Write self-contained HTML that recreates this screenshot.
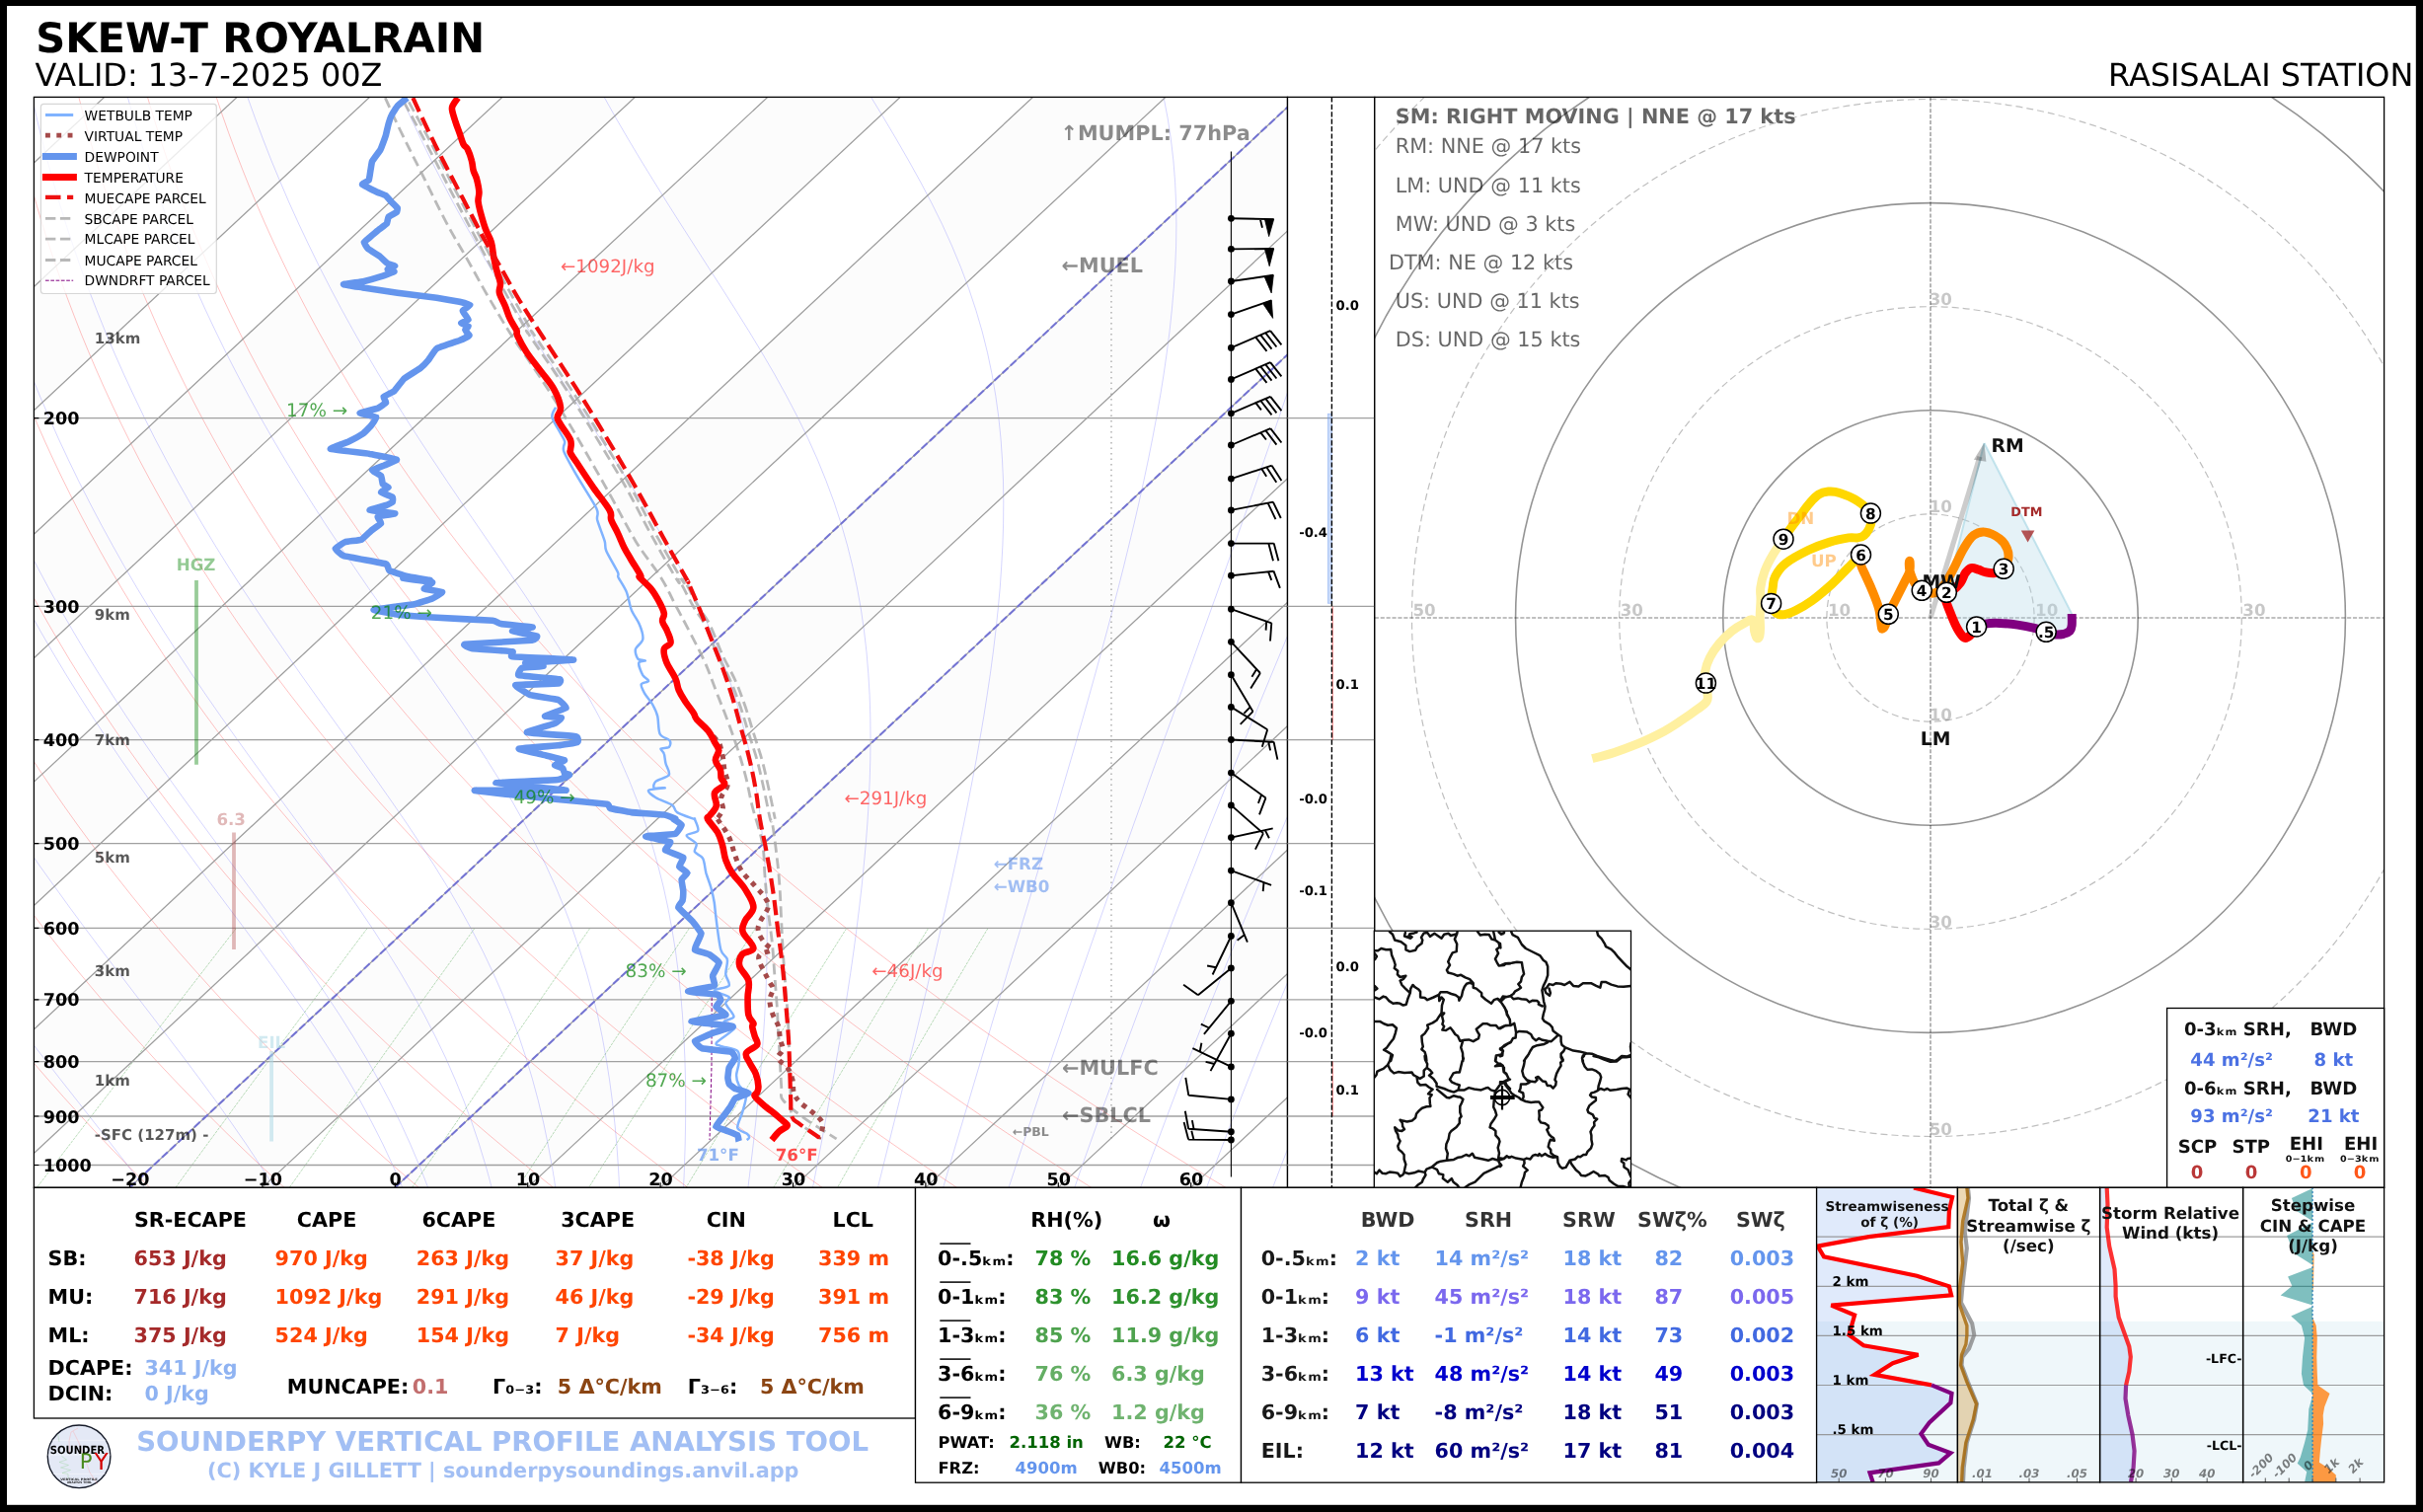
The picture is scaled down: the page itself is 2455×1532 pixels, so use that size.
<!DOCTYPE html>
<html><head><meta charset="utf-8"><title>SKEW-T ROYALRAIN</title>
<style>html,body{margin:0;padding:0;background:#000;}svg{display:block;font-family:'DejaVu Sans','Liberation Sans',sans-serif;will-change:transform;}</style></head>
<body><svg width="2455" height="1532" viewBox="0 0 2455 1532" text-rendering="geometricPrecision">
<rect x="0" y="0" width="2455" height="1532" fill="#000"/>
<rect x="7" y="6" width="2440.8" height="1518.8" fill="#fff"/>
<text x="36.3" y="52.9" font-size="41.7" fill="#000" font-weight="bold" text-anchor="start" >SKEW-T ROYALRAIN</text>
<text x="35.6" y="87" font-size="31.9" fill="#000" font-weight="normal" text-anchor="start" >VALID: 13-7-2025 00Z</text>
<text x="2445.3" y="87" font-size="31.9" fill="#000" font-weight="normal" text-anchor="end" >RASISALAI STATION</text>
<defs><clipPath id="cs"><rect x="34.4" y="98.4" width="1270.1" height="1104.9"/></clipPath></defs>
<g clip-path="url(#cs)">
<rect x="34.4" y="98.4" width="1270.1" height="1104.9" fill="#fff"/>
<polygon points="-967.3,1225.3 -832.9,1225.3 724.4,-228.1 590,-228.1" fill="#808080" fill-opacity="0.025"/>
<polygon points="-698.5,1225.3 -564.1,1225.3 993.2,-228.1 858.8,-228.1" fill="#808080" fill-opacity="0.025"/>
<polygon points="-429.7,1225.3 -295.3,1225.3 1262,-228.1 1127.6,-228.1" fill="#808080" fill-opacity="0.025"/>
<polygon points="-160.9,1225.3 -26.5,1225.3 1530.8,-228.1 1396.4,-228.1" fill="#808080" fill-opacity="0.025"/>
<polygon points="107.9,1225.3 242.3,1225.3 1799.6,-228.1 1665.2,-228.1" fill="#808080" fill-opacity="0.025"/>
<polygon points="376.7,1225.3 511.1,1225.3 2068.4,-228.1 1934,-228.1" fill="#808080" fill-opacity="0.025"/>
<polygon points="645.5,1225.3 779.9,1225.3 2337.2,-228.1 2202.8,-228.1" fill="#808080" fill-opacity="0.025"/>
<polygon points="914.3,1225.3 1048.7,1225.3 2606,-228.1 2471.6,-228.1" fill="#808080" fill-opacity="0.025"/>
<path d="M15.6 1203.4 L-1.3 1185 L-17.7 1166.6 L-33.8 1148.2 L-49.4 1129.7 L-64.6 1111.3 L-79.5 1092.9 L-94 1074.5 L-108.1 1056 L-121.8 1037.6 L-135.1 1019.2 L-148.1 1000.7 L-160.7 982.3 L-172.9 963.9 L-184.8 945.5 L-196.4 927 L-207.6 908.6 L-218.4 890.2 L-228.9 871.8 L-239.1 853.3 L-248.9 834.9 L-258.4 816.5 L-267.6 798 L-276.5 779.6 L-285 761.2 L-293.2 742.8 L-301.1 724.3 L-308.8 705.9 L-316.1 687.5 L-323.1 669.1 L-329.8 650.6 L-336.2 632.2 L-342.3 613.8 L-348.1 595.4 L-353.7 576.9 L-358.9 558.5 L-363.9 540.1 L-368.6 521.6 L-373.1 503.2 L-377.2 484.8 L-381.1 466.4 L-384.8 447.9 L-388.1 429.5 L-391.3 411.1 L-394.1 392.7 L-396.7 374.2 L-399.1 355.8 L-401.2 337.4 L-403.1 318.9 L-404.7 300.5 L-406.1 282.1 L-407.3 263.7 L-408.2 245.2 L-408.9 226.8 L-409.4 208.4 L-409.6 190 L-409.7 171.5 L-409.5 153.1 L-409 134.7 L-408.4 116.3 L-407.6 97.8" fill="none" stroke="#ff0000" stroke-opacity="0.30" stroke-width="0.8"/>
<path d="M151.8 1203.4 L133.5 1185 L115.5 1166.6 L98 1148.2 L80.9 1129.7 L64.2 1111.3 L47.9 1092.9 L32 1074.5 L16.5 1056 L1.4 1037.6 L-13.3 1019.2 L-27.6 1000.7 L-41.5 982.3 L-55.1 963.9 L-68.3 945.5 L-81.2 927 L-93.6 908.6 L-105.7 890.2 L-117.5 871.8 L-128.9 853.3 L-140 834.9 L-150.7 816.5 L-161.1 798 L-171.1 779.6 L-180.8 761.2 L-190.2 742.8 L-199.3 724.3 L-208 705.9 L-216.4 687.5 L-224.6 669.1 L-232.4 650.6 L-239.8 632.2 L-247 613.8 L-253.9 595.4 L-260.5 576.9 L-266.8 558.5 L-272.8 540.1 L-278.6 521.6 L-284 503.2 L-289.2 484.8 L-294 466.4 L-298.6 447.9 L-303 429.5 L-307 411.1 L-310.8 392.7 L-314.4 374.2 L-317.7 355.8 L-320.7 337.4 L-323.5 318.9 L-326 300.5 L-328.3 282.1 L-330.3 263.7 L-332.1 245.2 L-333.6 226.8 L-334.9 208.4 L-336 190 L-336.8 171.5 L-337.5 153.1 L-337.8 134.7 L-338 116.3 L-338 97.8" fill="none" stroke="#ff0000" stroke-opacity="0.30" stroke-width="0.8"/>
<path d="M288.1 1203.4 L268.3 1185 L248.8 1166.6 L229.8 1148.2 L211.2 1129.7 L193.1 1111.3 L175.4 1092.9 L158.1 1074.5 L141.2 1056 L124.7 1037.6 L108.6 1019.2 L92.9 1000.7 L77.6 982.3 L62.7 963.9 L48.2 945.5 L34.1 927 L20.3 908.6 L6.9 890.2 L-6.1 871.8 L-18.7 853.3 L-31 834.9 L-43 816.5 L-54.5 798 L-65.8 779.6 L-76.7 761.2 L-87.2 742.8 L-97.4 724.3 L-107.3 705.9 L-116.8 687.5 L-126.1 669.1 L-135 650.6 L-143.5 632.2 L-151.8 613.8 L-159.7 595.4 L-167.4 576.9 L-174.7 558.5 L-181.8 540.1 L-188.5 521.6 L-194.9 503.2 L-201.1 484.8 L-206.9 466.4 L-212.5 447.9 L-217.8 429.5 L-222.8 411.1 L-227.6 392.7 L-232 374.2 L-236.2 355.8 L-240.2 337.4 L-243.8 318.9 L-247.3 300.5 L-250.4 282.1 L-253.3 263.7 L-255.9 245.2 L-258.3 226.8 L-260.5 208.4 L-262.4 190 L-264 171.5 L-265.5 153.1 L-266.7 134.7 L-267.6 116.3 L-268.3 97.8" fill="none" stroke="#ff0000" stroke-opacity="0.30" stroke-width="0.8"/>
<path d="M424.4 1203.4 L403 1185 L382.1 1166.6 L361.6 1148.2 L341.6 1129.7 L322 1111.3 L302.8 1092.9 L284.1 1074.5 L265.8 1056 L247.9 1037.6 L230.4 1019.2 L213.4 1000.7 L196.8 982.3 L180.5 963.9 L164.7 945.5 L149.3 927 L134.2 908.6 L119.6 890.2 L105.3 871.8 L91.4 853.3 L77.9 834.9 L64.8 816.5 L52 798 L39.6 779.6 L27.5 761.2 L15.8 742.8 L4.4 724.3 L-6.6 705.9 L-17.2 687.5 L-27.6 669.1 L-37.5 650.6 L-47.2 632.2 L-56.5 613.8 L-65.6 595.4 L-74.2 576.9 L-82.6 558.5 L-90.7 540.1 L-98.4 521.6 L-105.9 503.2 L-113 484.8 L-119.9 466.4 L-126.4 447.9 L-132.7 429.5 L-138.6 411.1 L-144.3 392.7 L-149.7 374.2 L-154.8 355.8 L-159.7 337.4 L-164.2 318.9 L-168.5 300.5 L-172.5 282.1 L-176.3 263.7 L-179.8 245.2 L-183 226.8 L-186 208.4 L-188.8 190 L-191.2 171.5 L-193.5 153.1 L-195.5 134.7 L-197.2 116.3 L-198.7 97.8" fill="none" stroke="#ff0000" stroke-opacity="0.30" stroke-width="0.8"/>
<path d="M560.7 1203.4 L537.8 1185 L515.3 1166.6 L493.4 1148.2 L471.9 1129.7 L450.8 1111.3 L430.2 1092.9 L410.1 1074.5 L390.4 1056 L371.1 1037.6 L352.3 1019.2 L333.9 1000.7 L315.9 982.3 L298.4 963.9 L281.2 945.5 L264.5 927 L248.2 908.6 L232.2 890.2 L216.7 871.8 L201.6 853.3 L186.9 834.9 L172.5 816.5 L158.5 798 L144.9 779.6 L131.7 761.2 L118.8 742.8 L106.3 724.3 L94.2 705.9 L82.4 687.5 L70.9 669.1 L59.9 650.6 L49.1 632.2 L38.7 613.8 L28.6 595.4 L18.9 576.9 L9.5 558.5 L0.4 540.1 L-8.4 521.6 L-16.8 503.2 L-24.9 484.8 L-32.8 466.4 L-40.3 447.9 L-47.5 429.5 L-54.4 411.1 L-61 392.7 L-67.4 374.2 L-73.4 355.8 L-79.1 337.4 L-84.6 318.9 L-89.8 300.5 L-94.7 282.1 L-99.3 263.7 L-103.7 245.2 L-107.8 226.8 L-111.6 208.4 L-115.1 190 L-118.4 171.5 L-121.5 153.1 L-124.3 134.7 L-126.8 116.3 L-129.1 97.8" fill="none" stroke="#ff0000" stroke-opacity="0.30" stroke-width="0.8"/>
<path d="M697 1203.4 L672.6 1185 L648.6 1166.6 L625.2 1148.2 L602.2 1129.7 L579.7 1111.3 L557.7 1092.9 L536.1 1074.5 L515 1056 L494.3 1037.6 L474.1 1019.2 L454.4 1000.7 L435.1 982.3 L416.2 963.9 L397.7 945.5 L379.7 927 L362.1 908.6 L344.9 890.2 L328.1 871.8 L311.8 853.3 L295.8 834.9 L280.2 816.5 L265 798 L250.3 779.6 L235.9 761.2 L221.8 742.8 L208.2 724.3 L194.9 705.9 L182 687.5 L169.4 669.1 L157.3 650.6 L145.4 632.2 L134 613.8 L122.8 595.4 L112 576.9 L101.6 558.5 L91.5 540.1 L81.7 521.6 L72.2 503.2 L63.1 484.8 L54.3 466.4 L45.8 447.9 L37.7 429.5 L29.8 411.1 L22.2 392.7 L15 374.2 L8 355.8 L1.4 337.4 L-5 318.9 L-11 300.5 L-16.8 282.1 L-22.3 263.7 L-27.5 245.2 L-32.5 226.8 L-37.1 208.4 L-41.5 190 L-45.6 171.5 L-49.5 153.1 L-53.1 134.7 L-56.4 116.3 L-59.5 97.8" fill="none" stroke="#ff0000" stroke-opacity="0.30" stroke-width="0.8"/>
<path d="M833.3 1203.4 L807.3 1185 L781.9 1166.6 L756.9 1148.2 L732.5 1129.7 L708.6 1111.3 L685.1 1092.9 L662.1 1074.5 L639.6 1056 L617.6 1037.6 L596 1019.2 L574.9 1000.7 L554.2 982.3 L534 963.9 L514.2 945.5 L494.9 927 L476 908.6 L457.6 890.2 L439.5 871.8 L421.9 853.3 L404.7 834.9 L388 816.5 L371.6 798 L355.6 779.6 L340 761.2 L324.8 742.8 L310 724.3 L295.6 705.9 L281.6 687.5 L267.9 669.1 L254.7 650.6 L241.7 632.2 L229.2 613.8 L217 595.4 L205.2 576.9 L193.7 558.5 L182.5 540.1 L171.8 521.6 L161.3 503.2 L151.2 484.8 L141.4 466.4 L131.9 447.9 L122.8 429.5 L114 411.1 L105.5 392.7 L97.3 374.2 L89.5 355.8 L81.9 337.4 L74.7 318.9 L67.7 300.5 L61 282.1 L54.7 263.7 L48.6 245.2 L42.8 226.8 L37.3 208.4 L32.1 190 L27.2 171.5 L22.5 153.1 L18.1 134.7 L14 116.3 L10.1 97.8" fill="none" stroke="#ff0000" stroke-opacity="0.30" stroke-width="0.8"/>
<path d="M969.6 1203.4 L942.1 1185 L915.2 1166.6 L888.7 1148.2 L862.8 1129.7 L837.4 1111.3 L812.5 1092.9 L788.1 1074.5 L764.2 1056 L740.8 1037.6 L717.8 1019.2 L695.4 1000.7 L673.4 982.3 L651.8 963.9 L630.8 945.5 L610.1 927 L590 908.6 L570.2 890.2 L551 871.8 L532.1 853.3 L513.7 834.9 L495.7 816.5 L478.1 798 L460.9 779.6 L444.2 761.2 L427.9 742.8 L411.9 724.3 L396.4 705.9 L381.2 687.5 L366.4 669.1 L352.1 650.6 L338.1 632.2 L324.4 613.8 L311.2 595.4 L298.3 576.9 L285.8 558.5 L273.6 540.1 L261.8 521.6 L250.4 503.2 L239.3 484.8 L228.5 466.4 L218.1 447.9 L208 429.5 L198.2 411.1 L188.8 392.7 L179.7 374.2 L170.9 355.8 L162.4 337.4 L154.3 318.9 L146.4 300.5 L138.9 282.1 L131.7 263.7 L124.7 245.2 L118.1 226.8 L111.8 208.4 L105.7 190 L100 171.5 L94.5 153.1 L89.3 134.7 L84.4 116.3 L79.7 97.8" fill="none" stroke="#ff0000" stroke-opacity="0.30" stroke-width="0.8"/>
<path d="M1105.9 1203.4 L1076.9 1185 L1048.4 1166.6 L1020.5 1148.2 L993.1 1129.7 L966.3 1111.3 L940 1092.9 L914.1 1074.5 L888.8 1056 L864 1037.6 L839.7 1019.2 L815.9 1000.7 L792.5 982.3 L769.7 963.9 L747.3 945.5 L725.4 927 L703.9 908.6 L682.9 890.2 L662.4 871.8 L642.3 853.3 L622.6 834.9 L603.4 816.5 L584.6 798 L566.3 779.6 L548.4 761.2 L530.9 742.8 L513.8 724.3 L497.1 705.9 L480.8 687.5 L464.9 669.1 L449.5 650.6 L434.4 632.2 L419.7 613.8 L405.4 595.4 L391.4 576.9 L377.9 558.5 L364.7 540.1 L351.9 521.6 L339.4 503.2 L327.3 484.8 L315.6 466.4 L304.2 447.9 L293.1 429.5 L282.4 411.1 L272.1 392.7 L262 374.2 L252.3 355.8 L243 337.4 L233.9 318.9 L225.2 300.5 L216.8 282.1 L208.7 263.7 L200.9 245.2 L193.4 226.8 L186.2 208.4 L179.4 190 L172.8 171.5 L166.5 153.1 L160.5 134.7 L154.8 116.3 L149.3 97.8" fill="none" stroke="#ff0000" stroke-opacity="0.30" stroke-width="0.8"/>
<path d="M1242.1 1203.4 L1211.6 1185 L1181.7 1166.6 L1152.3 1148.2 L1123.5 1129.7 L1095.2 1111.3 L1067.4 1092.9 L1040.1 1074.5 L1013.4 1056 L987.2 1037.6 L961.5 1019.2 L936.4 1000.7 L911.7 982.3 L887.5 963.9 L863.8 945.5 L840.6 927 L817.8 908.6 L795.6 890.2 L773.8 871.8 L752.4 853.3 L731.6 834.9 L711.1 816.5 L691.2 798 L671.6 779.6 L652.5 761.2 L633.9 742.8 L615.6 724.3 L597.8 705.9 L580.4 687.5 L563.4 669.1 L546.9 650.6 L530.7 632.2 L514.9 613.8 L499.6 595.4 L484.6 576.9 L470 558.5 L455.8 540.1 L441.9 521.6 L428.5 503.2 L415.4 484.8 L402.7 466.4 L390.3 447.9 L378.3 429.5 L366.6 411.1 L355.3 392.7 L344.4 374.2 L333.8 355.8 L323.5 337.4 L313.5 318.9 L303.9 300.5 L294.6 282.1 L285.7 263.7 L277 245.2 L268.7 226.8 L260.7 208.4 L253 190 L245.6 171.5 L238.5 153.1 L231.7 134.7 L225.2 116.3 L219 97.8" fill="none" stroke="#ff0000" stroke-opacity="0.30" stroke-width="0.8"/>
<path d="M13 1203.4 L12.7 1203 L12.3 1202.5 L11.9 1202.1 L11.6 1201.6 L11.2 1201.1 L10.8 1200.7 L10.5 1200.2 L10.1 1199.8 L9.7 1199.3 L9.4 1198.9 L9 1198.4 L8.6 1197.9 L8.3 1197.5 L7.9 1197 L7.5 1196.6 L7.2 1196.1 L6.8 1195.6 L6.4 1195.2 L6.1 1194.7 L5.7 1194.3 L5.3 1193.8 L4.9 1193.3 L4.6 1192.9 L4.2 1192.4 L3.8 1192 L3.5 1191.5 L3.1 1191.1 L2.7 1190.6 L2.4 1190.1 L2 1189.7 L1.6 1189.2 L1.3 1188.8 L0.9 1188.3 L0.5 1187.8 L0.2 1187.4 L-0.2 1186.9 L-0.6 1186.5 L-0.9 1186 L-1.3 1185.5 L-1.7 1185.1 L-2 1184.6 L-2.4 1184.2 L-2.8 1183.7 L-3.1 1183.3 L-3.5 1182.8 L-3.9 1182.3 L-4.2 1181.9 L-4.6 1181.4 L-5 1181 L-5.3 1180.5 L-22.6 1158.8 L-39.8 1137.2 L-56.7 1115.5 L-73.3 1093.9 L-89.6 1072.2 L-105.6 1050.6 L-121.1 1028.9 L-136.3 1007.3 L-151.1 985.6 L-165.4 964 L-179.2 942.3 L-192.7 920.7 L-205.6 899 L-218.1 877.4 L-230.2 855.7 L-241.8 834 L-253 812.4 L-263.7 790.7 L-274 769.1 L-283.8 747.4 L-293.2 725.8 L-302.2 704.1 L-310.8 682.5 L-319 660.8 L-326.7 639.2 L-334.1 617.5 L-341 595.9 L-347.6 574.2 L-353.7 552.5 L-359.5 530.9 L-364.9 509.2 L-370 487.6 L-374.6 465.9 L-378.9 444.3 L-382.9 422.6 L-386.5 401 L-389.7 379.3 L-392.6 357.7 L-395.1 336 L-397.3 314.4 L-399.2 292.7 L-400.8 271.1 L-402 249.4 L-402.9 227.7 L-403.5 206.1 L-403.8 184.4 L-403.8 162.8 L-403.5 141.1 L-402.8 119.5 L-401.9 97.8 L-401.9 97.8" fill="none" stroke="#0000ff" stroke-opacity="0.22" stroke-width="0.75"/>
<path d="M146.4 1203.4 L146.1 1203 L145.8 1202.5 L145.4 1202.1 L145.1 1201.6 L144.7 1201.1 L144.4 1200.7 L144 1200.2 L143.7 1199.8 L143.3 1199.3 L143 1198.9 L142.6 1198.4 L142.3 1197.9 L142 1197.5 L141.6 1197 L141.3 1196.6 L140.9 1196.1 L140.6 1195.6 L140.2 1195.2 L139.9 1194.7 L139.5 1194.3 L139.2 1193.8 L138.8 1193.3 L138.5 1192.9 L138.1 1192.4 L137.8 1192 L137.4 1191.5 L137.1 1191.1 L136.7 1190.6 L136.4 1190.1 L136.1 1189.7 L135.7 1189.2 L135.4 1188.8 L135 1188.3 L134.7 1187.8 L134.3 1187.4 L134 1186.9 L133.6 1186.5 L133.3 1186 L132.9 1185.5 L132.6 1185.1 L132.2 1184.6 L131.9 1184.2 L131.5 1183.7 L131.2 1183.3 L130.8 1182.8 L130.5 1182.3 L130.1 1181.9 L129.8 1181.4 L129.4 1181 L129.1 1180.5 L112.3 1158.8 L95.4 1137.2 L78.4 1115.5 L61.4 1093.9 L44.5 1072.2 L27.7 1050.6 L11.1 1028.9 L-5.2 1007.3 L-21.2 985.6 L-36.8 964 L-52.1 942.3 L-67 920.7 L-81.4 899 L-95.4 877.4 L-109 855.7 L-122.1 834 L-134.8 812.4 L-147 790.7 L-158.8 769.1 L-170.1 747.4 L-181 725.8 L-191.5 704.1 L-201.5 682.5 L-211.1 660.8 L-220.2 639.2 L-229 617.5 L-237.3 595.9 L-245.2 574.2 L-252.7 552.5 L-259.8 530.9 L-266.5 509.2 L-272.8 487.6 L-278.8 465.9 L-284.3 444.3 L-289.5 422.6 L-294.3 401 L-298.7 379.3 L-302.8 357.7 L-306.5 336 L-309.9 314.4 L-312.9 292.7 L-315.6 271.1 L-317.9 249.4 L-320 227.7 L-321.6 206.1 L-323 184.4 L-324 162.8 L-324.7 141.1 L-325.2 119.5 L-325.3 97.8 L-325.3 97.8" fill="none" stroke="#0000ff" stroke-opacity="0.22" stroke-width="0.75"/>
<path d="M278 1203.4 L277.7 1203 L277.4 1202.5 L277.1 1202.1 L276.8 1201.6 L276.5 1201.1 L276.3 1200.7 L276 1200.2 L275.7 1199.8 L275.4 1199.3 L275.1 1198.9 L274.8 1198.4 L274.5 1197.9 L274.3 1197.5 L274 1197 L273.7 1196.6 L273.4 1196.1 L273.1 1195.6 L272.8 1195.2 L272.5 1194.7 L272.2 1194.3 L272 1193.8 L271.7 1193.3 L271.4 1192.9 L271.1 1192.4 L270.8 1192 L270.5 1191.5 L270.2 1191.1 L269.9 1190.6 L269.6 1190.1 L269.3 1189.7 L269.1 1189.2 L268.8 1188.8 L268.5 1188.3 L268.2 1187.8 L267.9 1187.4 L267.6 1186.9 L267.3 1186.5 L267 1186 L266.7 1185.5 L266.4 1185.1 L266.1 1184.6 L265.8 1184.2 L265.5 1183.7 L265.2 1183.3 L264.9 1182.8 L264.6 1182.3 L264.3 1181.9 L264 1181.4 L263.7 1181 L263.5 1180.5 L249.1 1158.8 L234.1 1137.2 L218.7 1115.5 L202.8 1093.9 L186.6 1072.2 L170.1 1050.6 L153.5 1028.9 L136.9 1007.3 L120.3 985.6 L103.8 964 L87.5 942.3 L71.5 920.7 L55.8 899 L40.3 877.4 L25.3 855.7 L10.7 834 L-3.6 812.4 L-17.4 790.7 L-30.8 769.1 L-43.7 747.4 L-56.2 725.8 L-68.2 704.1 L-79.8 682.5 L-91 660.8 L-101.7 639.2 L-112 617.5 L-121.8 595.9 L-131.2 574.2 L-140.2 552.5 L-148.8 530.9 L-156.9 509.2 L-164.7 487.6 L-172 465.9 L-179 444.3 L-185.5 422.6 L-191.7 401 L-197.5 379.3 L-202.9 357.7 L-207.9 336 L-212.5 314.4 L-216.8 292.7 L-220.8 271.1 L-224.4 249.4 L-227.6 227.7 L-230.5 206.1 L-233 184.4 L-235.2 162.8 L-237.1 141.1 L-238.7 119.5 L-239.9 97.8 L-239.9 97.8" fill="none" stroke="#0000ff" stroke-opacity="0.22" stroke-width="0.75"/>
<path d="M407.8 1203.4 L407.6 1203 L407.4 1202.5 L407.2 1202.1 L407 1201.6 L406.9 1201.1 L406.7 1200.7 L406.5 1200.2 L406.3 1199.8 L406.1 1199.3 L405.9 1198.9 L405.7 1198.4 L405.5 1197.9 L405.3 1197.5 L405.1 1197 L404.9 1196.6 L404.7 1196.1 L404.5 1195.6 L404.3 1195.2 L404.1 1194.7 L403.9 1194.3 L403.7 1193.8 L403.5 1193.3 L403.3 1192.9 L403.1 1192.4 L402.9 1192 L402.7 1191.5 L402.5 1191.1 L402.3 1190.6 L402.1 1190.1 L401.9 1189.7 L401.7 1189.2 L401.5 1188.8 L401.3 1188.3 L401.1 1187.8 L400.9 1187.4 L400.7 1186.9 L400.5 1186.5 L400.3 1186 L400.1 1185.5 L399.9 1185.1 L399.7 1184.6 L399.5 1184.2 L399.3 1183.7 L399.1 1183.3 L398.9 1182.8 L398.7 1182.3 L398.5 1181.9 L398.3 1181.4 L398.1 1181 L397.9 1180.5 L387.7 1158.8 L376.7 1137.2 L365 1115.5 L352.5 1093.9 L339.3 1072.2 L325.4 1050.6 L311 1028.9 L296 1007.3 L280.6 985.6 L264.8 964 L248.8 942.3 L232.6 920.7 L216.4 899 L200.2 877.4 L184.2 855.7 L168.3 834 L152.7 812.4 L137.3 790.7 L122.3 769.1 L107.7 747.4 L93.5 725.8 L79.7 704.1 L66.3 682.5 L53.3 660.8 L40.8 639.2 L28.7 617.5 L17.1 595.9 L5.9 574.2 L-4.9 552.5 L-15.2 530.9 L-25.1 509.2 L-34.6 487.6 L-43.6 465.9 L-52.2 444.3 L-60.4 422.6 L-68.2 401 L-75.6 379.3 L-82.6 357.7 L-89.2 336 L-95.4 314.4 L-101.2 292.7 L-106.7 271.1 L-111.8 249.4 L-116.5 227.7 L-120.8 206.1 L-124.8 184.4 L-128.4 162.8 L-131.7 141.1 L-134.6 119.5 L-137.2 97.8 L-137.2 97.8" fill="none" stroke="#0000ff" stroke-opacity="0.22" stroke-width="0.75"/>
<path d="M433.7 1203.4 L433.5 1203 L433.3 1202.5 L433.1 1202.1 L433 1201.6 L432.8 1201.1 L432.6 1200.7 L432.5 1200.2 L432.3 1199.8 L432.1 1199.3 L431.9 1198.9 L431.8 1198.4 L431.6 1197.9 L431.4 1197.5 L431.2 1197 L431.1 1196.6 L430.9 1196.1 L430.7 1195.6 L430.5 1195.2 L430.4 1194.7 L430.2 1194.3 L430 1193.8 L429.8 1193.3 L429.7 1192.9 L429.5 1192.4 L429.3 1192 L429.1 1191.5 L428.9 1191.1 L428.8 1190.6 L428.6 1190.1 L428.4 1189.7 L428.2 1189.2 L428 1188.8 L427.9 1188.3 L427.7 1187.8 L427.5 1187.4 L427.3 1186.9 L427.1 1186.5 L426.9 1186 L426.8 1185.5 L426.6 1185.1 L426.4 1184.6 L426.2 1184.2 L426 1183.7 L425.8 1183.3 L425.7 1182.8 L425.5 1182.3 L425.3 1181.9 L425.1 1181.4 L424.9 1181 L424.7 1180.5 L415.5 1158.8 L405.6 1137.2 L394.8 1115.5 L383.3 1093.9 L371.1 1072.2 L358.1 1050.6 L344.4 1028.9 L330.1 1007.3 L315.3 985.6 L300 964 L284.4 942.3 L268.5 920.7 L252.4 899 L236.3 877.4 L220.2 855.7 L204.2 834 L188.4 812.4 L172.8 790.7 L157.6 769.1 L142.6 747.4 L128 725.8 L113.9 704.1 L100.1 682.5 L86.7 660.8 L73.8 639.2 L61.3 617.5 L49.3 595.9 L37.7 574.2 L26.5 552.5 L15.8 530.9 L5.5 509.2 L-4.4 487.6 L-13.8 465.9 L-22.8 444.3 L-31.4 422.6 L-39.6 401 L-47.3 379.3 L-54.7 357.7 L-61.7 336 L-68.2 314.4 L-74.4 292.7 L-80.2 271.1 L-85.6 249.4 L-90.7 227.7 L-95.3 206.1 L-99.6 184.4 L-103.6 162.8 L-107.2 141.1 L-110.4 119.5 L-113.3 97.8 L-113.3 97.8" fill="none" stroke="#0000ff" stroke-opacity="0.22" stroke-width="0.75"/>
<path d="M498.2 1203.4 L498.1 1203 L498 1202.5 L497.8 1202.1 L497.7 1201.6 L497.6 1201.1 L497.5 1200.7 L497.4 1200.2 L497.2 1199.8 L497.1 1199.3 L497 1198.9 L496.9 1198.4 L496.8 1197.9 L496.6 1197.5 L496.5 1197 L496.4 1196.6 L496.3 1196.1 L496.2 1195.6 L496 1195.2 L495.9 1194.7 L495.8 1194.3 L495.7 1193.8 L495.5 1193.3 L495.4 1192.9 L495.3 1192.4 L495.2 1192 L495 1191.5 L494.9 1191.1 L494.8 1190.6 L494.7 1190.1 L494.5 1189.7 L494.4 1189.2 L494.3 1188.8 L494.1 1188.3 L494 1187.8 L493.9 1187.4 L493.8 1186.9 L493.6 1186.5 L493.5 1186 L493.4 1185.5 L493.2 1185.1 L493.1 1184.6 L493 1184.2 L492.9 1183.7 L492.7 1183.3 L492.6 1182.8 L492.5 1182.3 L492.3 1181.9 L492.2 1181.4 L492.1 1181 L491.9 1180.5 L485.3 1158.8 L478 1137.2 L470 1115.5 L461.2 1093.9 L451.7 1072.2 L441.3 1050.6 L430.2 1028.9 L418.3 1007.3 L405.7 985.6 L392.3 964 L378.4 942.3 L363.8 920.7 L348.8 899 L333.5 877.4 L317.9 855.7 L302.1 834 L286.2 812.4 L270.3 790.7 L254.6 769.1 L239 747.4 L223.7 725.8 L208.6 704.1 L193.9 682.5 L179.6 660.8 L165.6 639.2 L152.1 617.5 L138.9 595.9 L126.2 574.2 L114 552.5 L102.2 530.9 L90.8 509.2 L79.8 487.6 L69.3 465.9 L59.2 444.3 L49.6 422.6 L40.3 401 L31.5 379.3 L23.2 357.7 L15.2 336 L7.6 314.4 L0.4 292.7 L-6.3 271.1 L-12.7 249.4 L-18.7 227.7 L-24.3 206.1 L-29.6 184.4 L-34.4 162.8 L-38.9 141.1 L-43.1 119.5 L-46.9 97.8 L-46.9 97.8" fill="none" stroke="#0000ff" stroke-opacity="0.22" stroke-width="0.75"/>
<path d="M562.8 1203.4 L562.7 1203 L562.7 1202.5 L562.6 1202.1 L562.5 1201.6 L562.5 1201.1 L562.4 1200.7 L562.3 1200.2 L562.2 1199.8 L562.2 1199.3 L562.1 1198.9 L562 1198.4 L562 1197.9 L561.9 1197.5 L561.8 1197 L561.8 1196.6 L561.7 1196.1 L561.6 1195.6 L561.5 1195.2 L561.5 1194.7 L561.4 1194.3 L561.3 1193.8 L561.3 1193.3 L561.2 1192.9 L561.1 1192.4 L561 1192 L561 1191.5 L560.9 1191.1 L560.8 1190.6 L560.7 1190.1 L560.7 1189.7 L560.6 1189.2 L560.5 1188.8 L560.4 1188.3 L560.4 1187.8 L560.3 1187.4 L560.2 1186.9 L560.1 1186.5 L560.1 1186 L560 1185.5 L559.9 1185.1 L559.8 1184.6 L559.8 1184.2 L559.7 1183.7 L559.6 1183.3 L559.5 1182.8 L559.4 1182.3 L559.4 1181.9 L559.3 1181.4 L559.2 1181 L559.1 1180.5 L555.1 1158.8 L550.6 1137.2 L545.4 1115.5 L539.6 1093.9 L533.1 1072.2 L525.9 1050.6 L517.9 1028.9 L509.2 1007.3 L499.6 985.6 L489.3 964 L478.1 942.3 L466.2 920.7 L453.6 899 L440.3 877.4 L426.3 855.7 L411.9 834 L397 812.4 L381.8 790.7 L366.3 769.1 L350.7 747.4 L335.2 725.8 L319.6 704.1 L304.2 682.5 L289.1 660.8 L274.2 639.2 L259.6 617.5 L245.3 595.9 L231.4 574.2 L217.9 552.5 L204.9 530.9 L192.2 509.2 L180 487.6 L168.3 465.9 L156.9 444.3 L146 422.6 L135.6 401 L125.5 379.3 L115.9 357.7 L106.7 336 L98 314.4 L89.6 292.7 L81.7 271.1 L74.2 249.4 L67 227.7 L60.3 206.1 L54 184.4 L48 162.8 L42.4 141.1 L37.2 119.5 L32.4 97.8 L32.4 97.8" fill="none" stroke="#0000ff" stroke-opacity="0.22" stroke-width="0.75"/>
<path d="M627.5 1203.4 L627.5 1203 L627.5 1202.5 L627.5 1202.1 L627.5 1201.6 L627.4 1201.1 L627.4 1200.7 L627.4 1200.2 L627.4 1199.8 L627.4 1199.3 L627.3 1198.9 L627.3 1198.4 L627.3 1197.9 L627.3 1197.5 L627.2 1197 L627.2 1196.6 L627.2 1196.1 L627.2 1195.6 L627.2 1195.2 L627.1 1194.7 L627.1 1194.3 L627.1 1193.8 L627.1 1193.3 L627 1192.9 L627 1192.4 L627 1192 L627 1191.5 L626.9 1191.1 L626.9 1190.6 L626.9 1190.1 L626.9 1189.7 L626.8 1189.2 L626.8 1188.8 L626.8 1188.3 L626.8 1187.8 L626.7 1187.4 L626.7 1186.9 L626.7 1186.5 L626.7 1186 L626.6 1185.5 L626.6 1185.1 L626.6 1184.6 L626.6 1184.2 L626.5 1183.7 L626.5 1183.3 L626.5 1182.8 L626.4 1182.3 L626.4 1181.9 L626.4 1181.4 L626.4 1181 L626.3 1180.5 L624.8 1158.8 L622.8 1137.2 L620.4 1115.5 L617.5 1093.9 L614.1 1072.2 L610.2 1050.6 L605.6 1028.9 L600.3 1007.3 L594.4 985.6 L587.8 964 L580.4 942.3 L572.2 920.7 L563.2 899 L553.4 877.4 L542.7 855.7 L531.3 834 L519.2 812.4 L506.3 790.7 L492.8 769.1 L478.7 747.4 L464.2 725.8 L449.3 704.1 L434.2 682.5 L419 660.8 L403.7 639.2 L388.5 617.5 L373.4 595.9 L358.6 574.2 L344 552.5 L329.6 530.9 L315.7 509.2 L302.1 487.6 L288.9 465.9 L276.1 444.3 L263.7 422.6 L251.8 401 L240.3 379.3 L229.2 357.7 L218.6 336 L208.4 314.4 L198.6 292.7 L189.3 271.1 L180.3 249.4 L171.8 227.7 L163.7 206.1 L156 184.4 L148.8 162.8 L141.9 141.1 L135.4 119.5 L129.2 97.8 L129.2 97.8" fill="none" stroke="#0000ff" stroke-opacity="0.22" stroke-width="0.75"/>
<path d="M692.5 1203.4 L692.6 1203 L692.6 1202.5 L692.6 1202.1 L692.6 1201.6 L692.7 1201.1 L692.7 1200.7 L692.7 1200.2 L692.7 1199.8 L692.7 1199.3 L692.8 1198.9 L692.8 1198.4 L692.8 1197.9 L692.8 1197.5 L692.8 1197 L692.9 1196.6 L692.9 1196.1 L692.9 1195.6 L692.9 1195.2 L693 1194.7 L693 1194.3 L693 1193.8 L693 1193.3 L693 1192.9 L693.1 1192.4 L693.1 1192 L693.1 1191.5 L693.1 1191.1 L693.1 1190.6 L693.2 1190.1 L693.2 1189.7 L693.2 1189.2 L693.2 1188.8 L693.2 1188.3 L693.2 1187.8 L693.3 1187.4 L693.3 1186.9 L693.3 1186.5 L693.3 1186 L693.3 1185.5 L693.4 1185.1 L693.4 1184.6 L693.4 1184.2 L693.4 1183.7 L693.4 1183.3 L693.4 1182.8 L693.5 1182.3 L693.5 1181.9 L693.5 1181.4 L693.5 1181 L693.5 1180.5 L694.2 1158.8 L694.6 1137.2 L694.7 1115.5 L694.5 1093.9 L693.9 1072.2 L692.9 1050.6 L691.5 1028.9 L689.7 1007.3 L687.3 985.6 L684.5 964 L681 942.3 L677 920.7 L672.3 899 L666.8 877.4 L660.7 855.7 L653.8 834 L646 812.4 L637.5 790.7 L628.1 769.1 L617.8 747.4 L606.8 725.8 L595 704.1 L582.5 682.5 L569.3 660.8 L555.6 639.2 L541.5 617.5 L527 595.9 L512.2 574.2 L497.4 552.5 L482.5 530.9 L467.6 509.2 L453 487.6 L438.5 465.9 L424.3 444.3 L410.4 422.6 L396.8 401 L383.7 379.3 L370.9 357.7 L358.5 336 L346.6 314.4 L335.1 292.7 L324 271.1 L313.4 249.4 L303.1 227.7 L293.3 206.1 L284 184.4 L275 162.8 L266.5 141.1 L258.4 119.5 L250.6 97.8 L250.6 97.8" fill="none" stroke="#0000ff" stroke-opacity="0.22" stroke-width="0.75"/>
<path d="M757.9 1203.4 L757.9 1203 L758 1202.5 L758 1202.1 L758.1 1201.6 L758.1 1201.1 L758.2 1200.7 L758.3 1200.2 L758.3 1199.8 L758.4 1199.3 L758.4 1198.9 L758.5 1198.4 L758.6 1197.9 L758.6 1197.5 L758.7 1197 L758.7 1196.6 L758.8 1196.1 L758.8 1195.6 L758.9 1195.2 L759 1194.7 L759 1194.3 L759.1 1193.8 L759.1 1193.3 L759.2 1192.9 L759.3 1192.4 L759.3 1192 L759.4 1191.5 L759.4 1191.1 L759.5 1190.6 L759.5 1190.1 L759.6 1189.7 L759.7 1189.2 L759.7 1188.8 L759.8 1188.3 L759.8 1187.8 L759.9 1187.4 L759.9 1186.9 L760 1186.5 L760.1 1186 L760.1 1185.5 L760.2 1185.1 L760.2 1184.6 L760.3 1184.2 L760.3 1183.7 L760.4 1183.3 L760.4 1182.8 L760.5 1182.3 L760.6 1181.9 L760.6 1181.4 L760.7 1181 L760.7 1180.5 L763.3 1158.8 L765.7 1137.2 L767.9 1115.5 L770 1093.9 L771.8 1072.2 L773.4 1050.6 L774.8 1028.9 L775.9 1007.3 L776.7 985.6 L777.1 964 L777.2 942.3 L776.9 920.7 L776.2 899 L775 877.4 L773.3 855.7 L771.1 834 L768.3 812.4 L764.9 790.7 L760.8 769.1 L756 747.4 L750.4 725.8 L744.1 704.1 L736.9 682.5 L728.9 660.8 L720 639.2 L710.3 617.5 L699.7 595.9 L688.4 574.2 L676.3 552.5 L663.6 530.9 L650.3 509.2 L636.5 487.6 L622.5 465.9 L608.1 444.3 L593.7 422.6 L579.3 401 L564.9 379.3 L550.7 357.7 L536.7 336 L522.9 314.4 L509.5 292.7 L496.5 271.1 L483.8 249.4 L471.5 227.7 L459.6 206.1 L448.2 184.4 L437.1 162.8 L426.5 141.1 L416.3 119.5 L406.6 97.8 L406.6 97.8" fill="none" stroke="#0000ff" stroke-opacity="0.22" stroke-width="0.75"/>
<path d="M823.5 1203.4 L823.6 1203 L823.7 1202.5 L823.7 1202.1 L823.8 1201.6 L823.9 1201.1 L824 1200.7 L824.1 1200.2 L824.2 1199.8 L824.3 1199.3 L824.4 1198.9 L824.5 1198.4 L824.6 1197.9 L824.6 1197.5 L824.7 1197 L824.8 1196.6 L824.9 1196.1 L825 1195.6 L825.1 1195.2 L825.2 1194.7 L825.3 1194.3 L825.4 1193.8 L825.4 1193.3 L825.5 1192.9 L825.6 1192.4 L825.7 1192 L825.8 1191.5 L825.9 1191.1 L826 1190.6 L826.1 1190.1 L826.2 1189.7 L826.2 1189.2 L826.3 1188.8 L826.4 1188.3 L826.5 1187.8 L826.6 1187.4 L826.7 1186.9 L826.8 1186.5 L826.9 1186 L827 1185.5 L827 1185.1 L827.1 1184.6 L827.2 1184.2 L827.3 1183.7 L827.4 1183.3 L827.5 1182.8 L827.6 1182.3 L827.7 1181.9 L827.8 1181.4 L827.8 1181 L827.9 1180.5 L832.1 1158.8 L836.1 1137.2 L840.1 1115.5 L844 1093.9 L847.8 1072.2 L851.5 1050.6 L855.1 1028.9 L858.5 1007.3 L861.8 985.6 L864.9 964 L867.8 942.3 L870.5 920.7 L873 899 L875.2 877.4 L877.2 855.7 L878.9 834 L880.2 812.4 L881.2 790.7 L881.8 769.1 L882 747.4 L881.8 725.8 L881.1 704.1 L879.8 682.5 L878 660.8 L875.5 639.2 L872.4 617.5 L868.5 595.9 L863.9 574.2 L858.5 552.5 L852.3 530.9 L845.2 509.2 L837.2 487.6 L828.4 465.9 L818.7 444.3 L808.1 422.6 L796.8 401 L784.8 379.3 L772.2 357.7 L759.1 336 L745.6 314.4 L731.8 292.7 L717.9 271.1 L704 249.4 L690.1 227.7 L676.4 206.1 L662.9 184.4 L649.6 162.8 L636.6 141.1 L624 119.5 L611.8 97.8 L611.8 97.8" fill="none" stroke="#0000ff" stroke-opacity="0.22" stroke-width="0.75"/>
<path d="M889.4 1203.4 L889.5 1203 L889.6 1202.5 L889.7 1202.1 L889.9 1201.6 L890 1201.1 L890.1 1200.7 L890.2 1200.2 L890.3 1199.8 L890.4 1199.3 L890.6 1198.9 L890.7 1198.4 L890.8 1197.9 L890.9 1197.5 L891 1197 L891.1 1196.6 L891.2 1196.1 L891.4 1195.6 L891.5 1195.2 L891.6 1194.7 L891.7 1194.3 L891.8 1193.8 L891.9 1193.3 L892 1192.9 L892.2 1192.4 L892.3 1192 L892.4 1191.5 L892.5 1191.1 L892.6 1190.6 L892.7 1190.1 L892.8 1189.7 L893 1189.2 L893.1 1188.8 L893.2 1188.3 L893.3 1187.8 L893.4 1187.4 L893.5 1186.9 L893.6 1186.5 L893.8 1186 L893.9 1185.5 L894 1185.1 L894.1 1184.6 L894.2 1184.2 L894.3 1183.7 L894.4 1183.3 L894.6 1182.8 L894.7 1182.3 L894.8 1181.9 L894.9 1181.4 L895 1181 L895.1 1180.5 L900.5 1158.8 L905.9 1137.2 L911.3 1115.5 L916.7 1093.9 L922 1072.2 L927.3 1050.6 L932.5 1028.9 L937.7 1007.3 L942.9 985.6 L948 964 L953 942.3 L957.9 920.7 L962.8 899 L967.5 877.4 L972.2 855.7 L976.7 834 L981 812.4 L985.2 790.7 L989.3 769.1 L993.1 747.4 L996.8 725.8 L1000.2 704.1 L1003.4 682.5 L1006.3 660.8 L1008.9 639.2 L1011.2 617.5 L1013.2 595.9 L1014.7 574.2 L1015.9 552.5 L1016.6 530.9 L1016.8 509.2 L1016.5 487.6 L1015.5 465.9 L1014 444.3 L1011.8 422.6 L1008.8 401 L1005.1 379.3 L1000.6 357.7 L995.2 336 L988.9 314.4 L981.7 292.7 L973.6 271.1 L964.6 249.4 L954.8 227.7 L944.1 206.1 L932.7 184.4 L920.7 162.8 L908.2 141.1 L895.4 119.5 L882.2 97.8 L882.2 97.8" fill="none" stroke="#0000ff" stroke-opacity="0.22" stroke-width="0.75"/>
<path d="M955.6 1203.4 L955.7 1203 L955.9 1202.5 L956 1202.1 L956.1 1201.6 L956.3 1201.1 L956.4 1200.7 L956.5 1200.2 L956.7 1199.8 L956.8 1199.3 L956.9 1198.9 L957.1 1198.4 L957.2 1197.9 L957.4 1197.5 L957.5 1197 L957.6 1196.6 L957.8 1196.1 L957.9 1195.6 L958 1195.2 L958.2 1194.7 L958.3 1194.3 L958.4 1193.8 L958.6 1193.3 L958.7 1192.9 L958.8 1192.4 L959 1192 L959.1 1191.5 L959.2 1191.1 L959.4 1190.6 L959.5 1190.1 L959.6 1189.7 L959.8 1189.2 L959.9 1188.8 L960 1188.3 L960.2 1187.8 L960.3 1187.4 L960.4 1186.9 L960.6 1186.5 L960.7 1186 L960.8 1185.5 L961 1185.1 L961.1 1184.6 L961.3 1184.2 L961.4 1183.7 L961.5 1183.3 L961.7 1182.8 L961.8 1182.3 L961.9 1181.9 L962.1 1181.4 L962.2 1181 L962.3 1180.5 L968.7 1158.8 L975.1 1137.2 L981.6 1115.5 L988 1093.9 L994.5 1072.2 L1001 1050.6 L1007.5 1028.9 L1014.1 1007.3 L1020.6 985.6 L1027.1 964 L1033.7 942.3 L1040.2 920.7 L1046.7 899 L1053.2 877.4 L1059.7 855.7 L1066.1 834 L1072.5 812.4 L1078.9 790.7 L1085.2 769.1 L1091.5 747.4 L1097.7 725.8 L1103.8 704.1 L1109.8 682.5 L1115.8 660.8 L1121.7 639.2 L1127.4 617.5 L1133 595.9 L1138.5 574.2 L1143.8 552.5 L1149 530.9 L1154 509.2 L1158.8 487.6 L1163.4 465.9 L1167.7 444.3 L1171.8 422.6 L1175.6 401 L1179.1 379.3 L1182.2 357.7 L1185 336 L1187.3 314.4 L1189.2 292.7 L1190.7 271.1 L1191.6 249.4 L1191.9 227.7 L1191.6 206.1 L1190.6 184.4 L1188.9 162.8 L1186.4 141.1 L1183.1 119.5 L1178.9 97.8 L1178.9 97.8" fill="none" stroke="#0000ff" stroke-opacity="0.22" stroke-width="0.75"/>
<path d="M1022 1203.4 L1022.2 1203 L1022.3 1202.5 L1022.5 1202.1 L1022.6 1201.6 L1022.8 1201.1 L1022.9 1200.7 L1023.1 1200.2 L1023.2 1199.8 L1023.4 1199.3 L1023.5 1198.9 L1023.7 1198.4 L1023.8 1197.9 L1024 1197.5 L1024.1 1197 L1024.3 1196.6 L1024.4 1196.1 L1024.6 1195.6 L1024.7 1195.2 L1024.9 1194.7 L1025 1194.3 L1025.2 1193.8 L1025.3 1193.3 L1025.5 1192.9 L1025.6 1192.4 L1025.8 1192 L1025.9 1191.5 L1026.1 1191.1 L1026.2 1190.6 L1026.4 1190.1 L1026.5 1189.7 L1026.7 1189.2 L1026.8 1188.8 L1027 1188.3 L1027.1 1187.8 L1027.3 1187.4 L1027.4 1186.9 L1027.6 1186.5 L1027.7 1186 L1027.9 1185.5 L1028 1185.1 L1028.2 1184.6 L1028.3 1184.2 L1028.5 1183.7 L1028.6 1183.3 L1028.8 1182.8 L1028.9 1182.3 L1029.1 1181.9 L1029.2 1181.4 L1029.4 1181 L1029.5 1180.5 L1036.7 1158.8 L1043.8 1137.2 L1051.1 1115.5 L1058.4 1093.9 L1065.7 1072.2 L1073.1 1050.6 L1080.5 1028.9 L1088 1007.3 L1095.5 985.6 L1103.1 964 L1110.7 942.3 L1118.3 920.7 L1125.9 899 L1133.6 877.4 L1141.4 855.7 L1149.1 834 L1156.9 812.4 L1164.6 790.7 L1172.4 769.1 L1180.2 747.4 L1188.1 725.8 L1195.9 704.1 L1203.7 682.5 L1211.5 660.8 L1219.3 639.2 L1227.1 617.5 L1234.9 595.9 L1242.7 574.2 L1250.4 552.5 L1258.1 530.9 L1265.8 509.2 L1273.4 487.6 L1281 465.9 L1288.5 444.3 L1296 422.6 L1303.3 401 L1310.7 379.3 L1317.9 357.7 L1325 336 L1332 314.4 L1338.9 292.7 L1345.6 271.1 L1352.2 249.4 L1358.7 227.7 L1365 206.1 L1371.1 184.4 L1376.9 162.8 L1382.6 141.1 L1388 119.5 L1393.1 97.8 L1393.1 97.8" fill="none" stroke="#0000ff" stroke-opacity="0.22" stroke-width="0.75"/>
<path d="M1088.7 1203.4 L1088.9 1203 L1089 1202.5 L1089.2 1202.1 L1089.3 1201.6 L1089.5 1201.1 L1089.7 1200.7 L1089.8 1200.2 L1090 1199.8 L1090.1 1199.3 L1090.3 1198.9 L1090.5 1198.4 L1090.6 1197.9 L1090.8 1197.5 L1090.9 1197 L1091.1 1196.6 L1091.3 1196.1 L1091.4 1195.6 L1091.6 1195.2 L1091.7 1194.7 L1091.9 1194.3 L1092.1 1193.8 L1092.2 1193.3 L1092.4 1192.9 L1092.5 1192.4 L1092.7 1192 L1092.9 1191.5 L1093 1191.1 L1093.2 1190.6 L1093.3 1190.1 L1093.5 1189.7 L1093.7 1189.2 L1093.8 1188.8 L1094 1188.3 L1094.1 1187.8 L1094.3 1187.4 L1094.5 1186.9 L1094.6 1186.5 L1094.8 1186 L1095 1185.5 L1095.1 1185.1 L1095.3 1184.6 L1095.4 1184.2 L1095.6 1183.7 L1095.8 1183.3 L1095.9 1182.8 L1096.1 1182.3 L1096.2 1181.9 L1096.4 1181.4 L1096.6 1181 L1096.7 1180.5 L1104.4 1158.8 L1112.1 1137.2 L1119.9 1115.5 L1127.8 1093.9 L1135.7 1072.2 L1143.8 1050.6 L1151.8 1028.9 L1160 1007.3 L1168.2 985.6 L1176.4 964 L1184.8 942.3 L1193.1 920.7 L1201.6 899 L1210.1 877.4 L1218.6 855.7 L1227.2 834 L1235.9 812.4 L1244.5 790.7 L1253.3 769.1 L1262.1 747.4 L1270.9 725.8 L1279.8 704.1 L1288.7 682.5 L1297.7 660.8 L1306.6 639.2 L1315.7 617.5 L1324.7 595.9 L1333.8 574.2 L1342.9 552.5 L1352.1 530.9 L1361.2 509.2 L1370.4 487.6 L1379.6 465.9 L1388.8 444.3 L1398.1 422.6 L1407.3 401 L1416.6 379.3 L1425.8 357.7 L1435.1 336 L1444.4 314.4 L1453.6 292.7 L1462.9 271.1 L1472.1 249.4 L1481.3 227.7 L1490.5 206.1 L1499.7 184.4 L1508.8 162.8 L1518 141.1 L1527 119.5 L1536.1 97.8 L1536.1 97.8" fill="none" stroke="#0000ff" stroke-opacity="0.22" stroke-width="0.75"/>
<path d="M1155.5 1203.4 L1155.7 1203 L1155.8 1202.5 L1156 1202.1 L1156.2 1201.6 L1156.4 1201.1 L1156.5 1200.7 L1156.7 1200.2 L1156.9 1199.8 L1157 1199.3 L1157.2 1198.9 L1157.4 1198.4 L1157.5 1197.9 L1157.7 1197.5 L1157.9 1197 L1158 1196.6 L1158.2 1196.1 L1158.4 1195.6 L1158.5 1195.2 L1158.7 1194.7 L1158.9 1194.3 L1159 1193.8 L1159.2 1193.3 L1159.4 1192.9 L1159.5 1192.4 L1159.7 1192 L1159.9 1191.5 L1160 1191.1 L1160.2 1190.6 L1160.4 1190.1 L1160.6 1189.7 L1160.7 1189.2 L1160.9 1188.8 L1161.1 1188.3 L1161.2 1187.8 L1161.4 1187.4 L1161.6 1186.9 L1161.7 1186.5 L1161.9 1186 L1162.1 1185.5 L1162.2 1185.1 L1162.4 1184.6 L1162.6 1184.2 L1162.7 1183.7 L1162.9 1183.3 L1163.1 1182.8 L1163.3 1182.3 L1163.4 1181.9 L1163.6 1181.4 L1163.8 1181 L1163.9 1180.5 L1172 1158.8 L1180.1 1137.2 L1188.3 1115.5 L1196.5 1093.9 L1204.9 1072.2 L1213.3 1050.6 L1221.8 1028.9 L1230.4 1007.3 L1239.1 985.6 L1247.8 964 L1256.6 942.3 L1265.5 920.7 L1274.4 899 L1283.4 877.4 L1292.5 855.7 L1301.6 834 L1310.8 812.4 L1320.1 790.7 L1329.5 769.1 L1338.9 747.4 L1348.3 725.8 L1357.8 704.1 L1367.4 682.5 L1377.1 660.8 L1386.8 639.2 L1396.5 617.5 L1406.3 595.9 L1416.2 574.2 L1426.1 552.5 L1436.1 530.9 L1446.1 509.2 L1456.1 487.6 L1466.2 465.9 L1476.4 444.3 L1486.6 422.6 L1496.8 401 L1507.1 379.3 L1517.5 357.7 L1527.8 336 L1538.2 314.4 L1548.7 292.7 L1559.2 271.1 L1569.7 249.4 L1580.2 227.7 L1590.8 206.1 L1601.4 184.4 L1612.1 162.8 L1622.7 141.1 L1633.4 119.5 L1644.1 97.8 L1644.1 97.8" fill="none" stroke="#0000ff" stroke-opacity="0.22" stroke-width="0.75"/>
<path d="M1222.5 1203.4 L1222.6 1203 L1222.8 1202.5 L1223 1202.1 L1223.2 1201.6 L1223.3 1201.1 L1223.5 1200.7 L1223.7 1200.2 L1223.9 1199.8 L1224 1199.3 L1224.2 1198.9 L1224.4 1198.4 L1224.5 1197.9 L1224.7 1197.5 L1224.9 1197 L1225.1 1196.6 L1225.2 1196.1 L1225.4 1195.6 L1225.6 1195.2 L1225.8 1194.7 L1225.9 1194.3 L1226.1 1193.8 L1226.3 1193.3 L1226.4 1192.9 L1226.6 1192.4 L1226.8 1192 L1227 1191.5 L1227.1 1191.1 L1227.3 1190.6 L1227.5 1190.1 L1227.7 1189.7 L1227.8 1189.2 L1228 1188.8 L1228.2 1188.3 L1228.3 1187.8 L1228.5 1187.4 L1228.7 1186.9 L1228.9 1186.5 L1229 1186 L1229.2 1185.5 L1229.4 1185.1 L1229.6 1184.6 L1229.7 1184.2 L1229.9 1183.7 L1230.1 1183.3 L1230.3 1182.8 L1230.4 1182.3 L1230.6 1181.9 L1230.8 1181.4 L1231 1181 L1231.1 1180.5 L1239.4 1158.8 L1247.7 1137.2 L1256.2 1115.5 L1264.7 1093.9 L1273.3 1072.2 L1282 1050.6 L1290.8 1028.9 L1299.6 1007.3 L1308.6 985.6 L1317.6 964 L1326.7 942.3 L1335.8 920.7 L1345.1 899 L1354.4 877.4 L1363.8 855.7 L1373.3 834 L1382.8 812.4 L1392.5 790.7 L1402.2 769.1 L1411.9 747.4 L1421.8 725.8 L1431.7 704.1 L1441.6 682.5 L1451.7 660.8 L1461.8 639.2 L1471.9 617.5 L1482.2 595.9 L1492.5 574.2 L1502.8 552.5 L1513.3 530.9 L1523.8 509.2 L1534.3 487.6 L1544.9 465.9 L1555.6 444.3 L1566.3 422.6 L1577.1 401 L1587.9 379.3 L1598.8 357.7 L1609.8 336 L1620.8 314.4 L1631.9 292.7 L1643 271.1 L1654.1 249.4 L1665.4 227.7 L1676.6 206.1 L1687.9 184.4 L1699.3 162.8 L1710.7 141.1 L1722.2 119.5 L1733.7 97.8 L1733.7 97.8" fill="none" stroke="#0000ff" stroke-opacity="0.22" stroke-width="0.75"/>
<path d="M1289.6 1203.4 L1289.7 1203 L1289.9 1202.5 L1290.1 1202.1 L1290.2 1201.6 L1290.4 1201.1 L1290.6 1200.7 L1290.8 1200.2 L1290.9 1199.8 L1291.1 1199.3 L1291.3 1198.9 L1291.5 1198.4 L1291.6 1197.9 L1291.8 1197.5 L1292 1197 L1292.2 1196.6 L1292.3 1196.1 L1292.5 1195.6 L1292.7 1195.2 L1292.9 1194.7 L1293.1 1194.3 L1293.2 1193.8 L1293.4 1193.3 L1293.6 1192.9 L1293.8 1192.4 L1293.9 1192 L1294.1 1191.5 L1294.3 1191.1 L1294.5 1190.6 L1294.6 1190.1 L1294.8 1189.7 L1295 1189.2 L1295.2 1188.8 L1295.3 1188.3 L1295.5 1187.8 L1295.7 1187.4 L1295.9 1186.9 L1296 1186.5 L1296.2 1186 L1296.4 1185.5 L1296.6 1185.1 L1296.7 1184.6 L1296.9 1184.2 L1297.1 1183.7 L1297.3 1183.3 L1297.4 1182.8 L1297.6 1182.3 L1297.8 1181.9 L1298 1181.4 L1298.2 1181 L1298.3 1180.5 L1306.7 1158.8 L1315.2 1137.2 L1323.7 1115.5 L1332.4 1093.9 L1341.1 1072.2 L1350 1050.6 L1358.9 1028.9 L1367.9 1007.3 L1377 985.6 L1386.1 964 L1395.4 942.3 L1404.7 920.7 L1414.1 899 L1423.6 877.4 L1433.2 855.7 L1442.8 834 L1452.6 812.4 L1462.4 790.7 L1472.2 769.1 L1482.2 747.4 L1492.2 725.8 L1502.3 704.1 L1512.5 682.5 L1522.8 660.8 L1533.1 639.2 L1543.5 617.5 L1553.9 595.9 L1564.5 574.2 L1575.1 552.5 L1585.7 530.9 L1596.5 509.2 L1607.3 487.6 L1618.1 465.9 L1629.1 444.3 L1640.1 422.6 L1651.1 401 L1662.2 379.3 L1673.4 357.7 L1684.7 336 L1696 314.4 L1707.3 292.7 L1718.8 271.1 L1730.3 249.4 L1741.8 227.7 L1753.4 206.1 L1765.1 184.4 L1776.8 162.8 L1788.6 141.1 L1800.4 119.5 L1812.3 97.8 L1812.3 97.8" fill="none" stroke="#0000ff" stroke-opacity="0.22" stroke-width="0.75"/>
<path d="M239.5 940.3 L217.4 968.8 L196.6 995.7 L177 1021.1 L158.4 1045.2 L140.7 1068.2 L123.9 1090 L107.9 1110.9 L92.5 1131 L77.9 1150.2 L63.8 1168.6 L50.3 1186.3 L37.3 1203.4" fill="none" stroke="#008000" stroke-opacity="0.35" stroke-width="0.8" stroke-dasharray="3 1"/>
<path d="M372.3 940.3 L350.9 968.8 L330.9 995.7 L312 1021.1 L294.1 1045.2 L277.1 1068.2 L261 1090 L245.5 1110.9 L230.8 1131 L216.7 1150.2 L203.2 1168.6 L190.2 1186.3 L177.8 1203.4" fill="none" stroke="#008000" stroke-opacity="0.35" stroke-width="0.8" stroke-dasharray="3 1"/>
<path d="M481.1 940.3 L460.5 968.8 L441.1 995.7 L422.8 1021.1 L405.5 1045.2 L389.1 1068.2 L373.5 1090 L358.6 1110.9 L344.4 1131 L330.8 1150.2 L317.8 1168.6 L305.3 1186.3 L293.2 1203.4" fill="none" stroke="#008000" stroke-opacity="0.35" stroke-width="0.8" stroke-dasharray="3 1"/>
<path d="M597.9 940.3 L578.1 968.8 L559.4 995.7 L541.9 1021.1 L525.2 1045.2 L509.5 1068.2 L494.5 1090 L480.2 1110.9 L466.6 1131 L453.5 1150.2 L441 1168.6 L429 1186.3 L417.5 1203.4" fill="none" stroke="#008000" stroke-opacity="0.35" stroke-width="0.8" stroke-dasharray="3 1"/>
<path d="M698.6 940.3 L679.4 968.8 L661.4 995.7 L644.4 1021.1 L628.4 1045.2 L613.2 1068.2 L598.8 1090 L585 1110.9 L571.9 1131 L559.4 1150.2 L547.4 1168.6 L535.8 1186.3 L524.7 1203.4" fill="none" stroke="#008000" stroke-opacity="0.35" stroke-width="0.8" stroke-dasharray="3 1"/>
<path d="M765.7 940.3 L747 968.8 L729.5 995.7 L713 1021.1 L697.4 1045.2 L682.6 1068.2 L668.5 1090 L655.1 1110.9 L642.3 1131 L630.1 1150.2 L618.4 1168.6 L607.2 1186.3 L596.5 1203.4" fill="none" stroke="#008000" stroke-opacity="0.35" stroke-width="0.8" stroke-dasharray="3 1"/>
<path d="M857.9 940.3 L839.9 968.8 L823 995.7 L807 1021.1 L792 1045.2 L777.8 1068.2 L764.2 1090 L751.4 1110.9 L739.1 1131 L727.4 1150.2 L716.1 1168.6 L705.4 1186.3 L695 1203.4" fill="none" stroke="#008000" stroke-opacity="0.35" stroke-width="0.8" stroke-dasharray="3 1"/>
<path d="M940.7 940.3 L923.3 968.8 L906.9 995.7 L891.5 1021.1 L877 1045.2 L863.3 1068.2 L850.3 1090 L837.9 1110.9 L826 1131 L814.8 1150.2 L804 1168.6 L793.6 1186.3 L783.7 1203.4" fill="none" stroke="#008000" stroke-opacity="0.35" stroke-width="0.8" stroke-dasharray="3 1"/>
<path d="M1001.1 940.3 L984.1 968.8 L968.2 995.7 L953.2 1021.1 L939.1 1045.2 L925.8 1068.2 L913.1 1090 L901.1 1110.9 L889.6 1131 L878.6 1150.2 L868.1 1168.6 L858.1 1186.3 L848.5 1203.4" fill="none" stroke="#008000" stroke-opacity="0.35" stroke-width="0.8" stroke-dasharray="3 1"/>
<line x1="-1481.5" y1="1203.4" x2="-296.8" y2="97.8" stroke="#9c9c9c" stroke-width="1.25"/>
<line x1="-1347.1" y1="1203.4" x2="-162.4" y2="97.8" stroke="#9c9c9c" stroke-width="1.25"/>
<line x1="-1212.7" y1="1203.4" x2="-28" y2="97.8" stroke="#9c9c9c" stroke-width="1.25"/>
<line x1="-1078.3" y1="1203.4" x2="106.4" y2="97.8" stroke="#9c9c9c" stroke-width="1.25"/>
<line x1="-943.9" y1="1203.4" x2="240.8" y2="97.8" stroke="#9c9c9c" stroke-width="1.25"/>
<line x1="-809.5" y1="1203.4" x2="375.2" y2="97.8" stroke="#9c9c9c" stroke-width="1.25"/>
<line x1="-675.1" y1="1203.4" x2="509.6" y2="97.8" stroke="#9c9c9c" stroke-width="1.25"/>
<line x1="-540.7" y1="1203.4" x2="644" y2="97.8" stroke="#9c9c9c" stroke-width="1.25"/>
<line x1="-406.3" y1="1203.4" x2="778.4" y2="97.8" stroke="#9c9c9c" stroke-width="1.25"/>
<line x1="-271.9" y1="1203.4" x2="912.8" y2="97.8" stroke="#9c9c9c" stroke-width="1.25"/>
<line x1="-137.5" y1="1203.4" x2="1047.2" y2="97.8" stroke="#9c9c9c" stroke-width="1.25"/>
<line x1="-3.1" y1="1203.4" x2="1181.6" y2="97.8" stroke="#9c9c9c" stroke-width="1.25"/>
<line x1="131.3" y1="1203.4" x2="1316" y2="97.8" stroke="#9c9c9c" stroke-width="1.25"/>
<line x1="265.7" y1="1203.4" x2="1450.4" y2="97.8" stroke="#9c9c9c" stroke-width="1.25"/>
<line x1="400.1" y1="1203.4" x2="1584.8" y2="97.8" stroke="#9c9c9c" stroke-width="1.25"/>
<line x1="534.5" y1="1203.4" x2="1719.2" y2="97.8" stroke="#9c9c9c" stroke-width="1.25"/>
<line x1="668.9" y1="1203.4" x2="1853.6" y2="97.8" stroke="#9c9c9c" stroke-width="1.25"/>
<line x1="803.3" y1="1203.4" x2="1988" y2="97.8" stroke="#9c9c9c" stroke-width="1.25"/>
<line x1="937.7" y1="1203.4" x2="2122.4" y2="97.8" stroke="#9c9c9c" stroke-width="1.25"/>
<line x1="1072.1" y1="1203.4" x2="2256.8" y2="97.8" stroke="#9c9c9c" stroke-width="1.25"/>
<line x1="1206.5" y1="1203.4" x2="2391.2" y2="97.8" stroke="#9c9c9c" stroke-width="1.25"/>
<line x1="34.4" y1="423.7" x2="1304.5" y2="423.7" stroke="#a0a0a0" stroke-width="1.3"/>
<line x1="34.4" y1="614.4" x2="1304.5" y2="614.4" stroke="#a0a0a0" stroke-width="1.3"/>
<line x1="34.4" y1="749.7" x2="1304.5" y2="749.7" stroke="#a0a0a0" stroke-width="1.3"/>
<line x1="34.4" y1="854.6" x2="1304.5" y2="854.6" stroke="#a0a0a0" stroke-width="1.3"/>
<line x1="34.4" y1="940.3" x2="1304.5" y2="940.3" stroke="#a0a0a0" stroke-width="1.3"/>
<line x1="34.4" y1="1012.8" x2="1304.5" y2="1012.8" stroke="#a0a0a0" stroke-width="1.3"/>
<line x1="34.4" y1="1075.6" x2="1304.5" y2="1075.6" stroke="#a0a0a0" stroke-width="1.3"/>
<line x1="34.4" y1="1131" x2="1304.5" y2="1131" stroke="#a0a0a0" stroke-width="1.3"/>
<line x1="34.4" y1="1180.5" x2="1304.5" y2="1180.5" stroke="#a0a0a0" stroke-width="1.3"/>
<line x1="400.1" y1="1203.4" x2="1584.8" y2="97.8" stroke="#6a6ad8" stroke-opacity="0.85" stroke-width="2.1" stroke-dasharray="8 3.2"/>
<line x1="131.3" y1="1203.4" x2="1316" y2="97.8" stroke="#6a6ad8" stroke-opacity="0.85" stroke-width="2.1" stroke-dasharray="8 3.2"/>
<path d="M721.2 1005 L721 1080 L719 1155" fill="none" stroke="#800080" stroke-width="1" stroke-linejoin="round" stroke-dasharray="3.5 2"/>
<path d="M390.3 99.1 C393.1 105.2 399.6 119.8 406 133 C412.4 146.3 417.5 156.1 425.8 172.7 C434.2 189.4 444 209.9 452.3 225.6 C460.6 241.4 464.4 246.7 472.1 260.4 C479.9 274 486.9 287.4 495.3 301.7 C503.6 316 510.4 327.5 518.4 340 C526.5 352.5 531.6 358.9 539.9 371.4 C548.3 383.9 555.5 394.6 564.7 409.5 C574 424.3 581.7 437.7 591.2 454.1 C600.7 470.5 608.1 483.4 617.6 500.4 C627.2 517.4 634.8 533.1 644.1 548.4 C653.4 563.6 662.3 573.3 669.5 585 C676.8 596.7 679.1 603 684.4 613.1 C689.8 623.2 693.9 630.8 699.3 641.2 C704.7 651.6 709.4 660.3 714.2 671 C718.9 681.7 721.6 690 725.8 700.8 C729.9 711.5 733.5 720.1 737.3 730.5 C741.2 740.9 744 748.5 747.3 758.6 C750.5 768.7 752.8 776.3 755.5 786.7 C758.2 797.2 759.1 804.2 762.1 816.5 C765.2 828.8 770.2 842 772.5 854.8 C774.8 867.7 773.9 875.7 775 887.9 C776 900.1 776.9 910.4 778.3 922.6 C779.6 934.8 781.2 943.8 782.4 955.7 C783.6 967.6 784 976.8 784.9 988.7 C785.8 1000.6 786.8 1012.6 787.4 1021.8 C788 1031 787.8 1033.4 788.2 1040 C788.6 1046.6 789 1050.8 789.4 1058.6 C789.9 1066.4 790.2 1075.1 790.7 1083.3 C791.1 1091.6 791.5 1098.8 791.9 1104.4 C792.4 1110 789.4 1109.4 793.1 1114.3 C796.9 1119.2 803.2 1124.5 813 1131.6 C822.8 1138.8 841.4 1149.9 847.6 1153.9" fill="none" stroke="#a8a8a8" stroke-width="2.8" stroke-linejoin="round" stroke-dasharray="11 5.5" stroke-opacity="0.8"/>
<path d="M409.3 103.3 C413.8 111.6 424.9 132 434.1 149.6 C443.3 167.1 451 182.7 460.6 200.8 C470.1 219 478.1 233.8 487 250.4 C495.9 267.1 501.8 278.2 510.2 293.4 C518.5 308.6 528.5 326.4 533.3 334.8 C538.1 343.2 528.6 328 536.6 340 C544.7 352 565.2 381.5 578 401.2 C590.8 420.8 597.6 432.5 607.7 449.1 C617.8 465.8 624.7 476.8 634.2 493.8 C643.7 510.7 651.3 526.4 660.6 543.4 C670 560.4 681.2 580 686.3 588 C691.3 596.1 685.6 583.5 688.5 588.3 C691.5 593.1 698 606.7 702.6 614.8 C707.2 622.8 709.7 624 714.2 633 C718.6 641.9 722.6 654 727.4 664.4 C732.2 674.8 736.5 681.3 740.6 690.8 C744.8 700.4 747.3 707.8 750.6 717.3 C753.8 726.8 755.8 734.2 758.8 743.7 C761.8 753.3 764.4 760.4 767.1 770.2 C769.8 780 771.3 787.6 773.7 798.3 C776.1 809 778.8 823.4 780.3 829.7 C781.9 836 781.3 827.3 782.4 833.3 C783.5 839.3 785.2 851.8 786.5 863.1 C787.9 874.4 789 884.2 789.8 896.1 C790.7 908 790.9 917.3 791.5 929.2 C792.1 941.1 792.4 950.4 793.2 962.3 C793.9 974.2 794.7 983.5 795.6 995.4 C796.5 1007.3 797.6 1020.4 798.1 1028.4 C798.7 1036.5 798.4 1031.2 798.7 1040 C799.1 1048.8 799.5 1063.8 800 1077.1 C800.4 1090.5 800.8 1104.5 801.2 1114.3 C801.6 1124.1 800.8 1127.2 802.4 1131.6 C804.1 1136.1 805.5 1135.3 810.5 1139.1 C815.5 1142.8 826.7 1150.2 830.3 1152.7" fill="none" stroke="#a8a8a8" stroke-width="2.8" stroke-linejoin="round" stroke-dasharray="11 5.5" stroke-opacity="0.8"/>
<path d="M414.3 103.3 C418.8 111.6 429.9 132 439.1 149.6 C448.3 167.1 456 182.7 465.6 200.8 C475.1 219 483.1 233.8 492 250.4 C500.9 267.1 506.8 278.2 515.2 293.4 C523.5 308.6 533.5 326.4 538.3 334.8 C543.1 343.2 533.6 328 541.6 340 C549.7 352 570.2 381.5 583 401.2 C595.8 420.8 602.6 432.5 612.7 449.1 C622.8 465.8 629.7 476.8 639.2 493.8 C648.7 510.7 656.3 526.4 665.6 543.4 C675 560.4 686.2 580 691.3 588 C696.3 596.1 690.6 583.5 693.5 588.3 C696.5 593.1 703 606.7 707.6 614.8 C712.2 622.8 714.7 624 719.2 633 C723.6 641.9 727.6 654 732.4 664.4 C737.2 674.8 741.5 681.3 745.6 690.8 C749.8 700.4 752.3 707.8 755.6 717.3 C758.8 726.8 760.8 734.2 763.8 743.7 C766.8 753.3 769.4 760.4 772.1 770.2 C774.8 780 776.3 787.6 778.7 798.3 C781.1 809 784.1 824.1 785.3 829.7" fill="none" stroke="#a8a8a8" stroke-width="2.8" stroke-linejoin="round" stroke-dasharray="11 5.5" stroke-opacity="0.8"/>
<path d="M563.1 412.8 C562.5 414.2 558.7 418.7 559.4 422.7 C560.2 426.6 566.1 435.5 568 439.2 C569.9 442.9 571.7 444.8 572.2 447.5 C572.7 450.2 569.5 452.2 571.3 457.4 C573.2 462.6 579.6 473.5 584.6 482.2 C589.5 490.9 601.3 508.6 604.4 515.3 C607.5 522 604 521.9 605.2 526.9 C606.5 531.8 611.3 543.6 612.7 548.4 C614 553.1 612.4 553.6 614.3 558.3 C616.3 563 624.1 575.8 625.9 579.8 C627.7 583.8 625.2 582 626.5 585 C627.9 588 632.8 594.9 634.8 599.9 C636.8 604.8 637.8 613.1 639.8 618.1 C641.8 623 646.3 628.5 648 633 C649.8 637.4 652 644.1 651.3 647.8 C650.7 651.6 644.6 654.8 643.9 657.8 C643.2 660.7 644.9 665.9 646.4 667.7 C647.9 669.4 653.7 668.7 653.8 669.3 C653.9 670 647.6 669.6 647.2 671.8 C646.8 674 649.9 681.5 651.3 684.2 C652.8 686.9 657.4 688.6 657.1 690 C656.9 691.4 650.3 691.4 649.7 693.3 C649.1 695.2 651.3 699.3 653 702.4 C654.7 705.5 659.3 710.5 661.3 714 C663.2 717.5 665.1 721.1 666.2 725.6 C667.3 730 666.8 740 668.7 743.7 C670.6 747.5 677.3 748.4 678.6 750.4 C680 752.3 679.2 755.7 677.8 757 C676.4 758.2 670.3 757.6 669.5 758.6 C668.8 759.6 672.1 761.4 672.8 763.6 C673.6 765.8 673.7 770.3 674.5 773.5 C675.2 776.7 679.3 782.4 677.8 785.1 C676.3 787.8 666.8 789.7 664.6 791.7 C662.3 793.7 661.6 797.3 662.9 798.3 C664.3 799.3 674.5 797.9 673.7 798.3 C672.8 798.7 658.5 799.3 657.1 800.8 C655.8 802.3 661 806 664.6 808.2 C668.2 810.5 677.9 813.4 681.1 815.7 C684.3 817.9 682.8 821 686.1 823.1 C689.3 825.2 699.9 828.7 702.6 829.7 C705.3 830.8 703.2 828.2 703.9 830 C704.5 831.8 708.4 839.1 707.2 841.6 C705.9 844.1 695.8 844.6 695.6 846.5 C695.3 848.5 704.3 852.3 705.5 854.8 C706.8 857.3 702.9 860.8 703.9 863.1 C704.9 865.3 710.4 866.5 712.1 869.7 C713.9 872.9 714.2 880.1 715.4 884.6 C716.7 889 719.2 895 720.4 899.5 C721.6 903.9 723 909.9 723.7 914.3 C724.4 918.8 724.4 922 725.4 929.2 C726.3 936.4 728.6 955.8 730.3 962.3 C732.1 968.7 736.2 968.5 736.9 972.2 C737.7 975.9 735 983.1 735.3 987.1 C735.5 991.1 740.3 996.2 738.6 998.7 C736.8 1001.1 723.7 1001.9 723.7 1003.6 C723.7 1005.4 736.8 1008.3 738.6 1010.2 C740.3 1012.2 734.5 1013.9 735.3 1016.9 C736 1019.8 743.8 1027.4 743.5 1030.1 C743.3 1032.8 733.4 1033.4 733.6 1035 C733.8 1036.7 746 1038.1 744.9 1041.2 C743.8 1044.4 728.5 1053.3 726.3 1056.1 C724.1 1058.9 726.8 1058.5 730 1059.8 C733.2 1061.1 744.6 1062.2 747.3 1064.8 C750.1 1067.4 748.8 1073.4 748.6 1077.1 C748.4 1080.9 746.1 1086.2 746.1 1089.5 C746.1 1092.9 747.1 1096.5 748.6 1099.4 C750.1 1102.4 755.4 1105.2 756 1109.3 C756.6 1113.4 753.6 1121.7 752.3 1126.7 C751 1131.7 746.6 1139.4 747.3 1142.8 C748.1 1146.1 755.5 1147.5 757.2 1149 C759 1150.4 759.2 1151.7 759.1 1152.7 C759 1153.6 757 1154.8 756.6 1155.1" fill="none" stroke="#80b3ff" stroke-width="2.5" stroke-linejoin="round" />
<path d="M702.6 722.2 C703.2 723.4 703.2 725.6 705.9 728.9 C708.6 732.1 713.8 736.6 717.5 740.4 C721.2 744.3 724.5 748 726.6 750.4 C728.7 752.7 728 750.7 729.1 753.7 C730.1 756.6 731.5 762.1 732.4 766.9 C733.3 771.7 733.1 775.1 734 780.1 C734.9 785.2 737.9 789.9 737.3 795 C736.7 800.1 731.6 803.8 730.7 808.2 C729.8 812.7 733.1 815.9 732.4 819.8 C731.6 823.7 727.5 827.9 726.6 829.7 C725.6 831.6 724.9 826.7 727 830 C729.2 833.3 735.3 841.3 738.6 848.2 C741.9 855 742.8 861.8 745.2 868 C747.6 874.3 748.2 877.6 751.8 882.9 C755.4 888.3 760.9 893 765 897.8 C769.2 902.6 772.6 905.5 775 909.4 C777.3 913.2 779.2 914.8 778.3 919.3 C777.4 923.8 771.8 929.7 770 934.2 C768.2 938.6 767.5 940.2 768.4 944.1 C769.2 948 772.6 952.4 775 955.7 C777.3 958.9 782.5 960.2 781.6 962.3 C780.7 964.4 772.1 964.9 770 967.2 C767.9 969.6 768.2 970.5 770 975.5 C771.8 980.6 777.5 990.6 779.9 995.4 C782.3 1000.1 783.2 998.7 783.2 1002 C783.2 1005.2 779.9 1008.8 779.9 1013.5 C779.9 1018.3 781.7 1024 783.2 1028.4 C784.7 1032.9 787.1 1035.6 788.2 1038.4 C789.3 1041.1 789 1041 789.4 1043.7 C789.9 1046.5 790 1050.1 790.7 1053.6 C791.3 1057.2 793.6 1060.2 793.1 1063.5 C792.7 1066.9 787.3 1068.8 788.2 1072.2 C789.1 1075.5 795.4 1078.1 798.1 1082.1 C800.8 1086.1 801.9 1090 803.1 1094.5 C804.2 1098.9 803 1102.8 804.3 1106.9 C805.6 1110.9 807.1 1113.2 810.5 1116.8 C813.8 1120.3 818.9 1123.1 822.9 1126.7 C826.9 1130.2 831 1133.2 832.8 1136.6 C834.6 1139.9 833.4 1142.1 832.8 1145.2 C832.1 1148.4 829.7 1152.3 829.1 1153.9" fill="none" stroke="#a54a4a" stroke-width="5" stroke-linejoin="round" stroke-dasharray="5 5.5"/>
<path d="M412.6 99.1 C412.1 99.5 403.5 106.5 402.7 107.4 C401.9 108.3 397.3 115.6 396.9 116.5 C396.4 117.4 393.9 124.6 393.6 125.6 C393.3 126.6 391.4 135.2 391.1 136.3 C390.8 137.5 387.3 147.1 387 147.9 C386.7 148.7 385.8 151.3 385.3 152 C384.8 152.8 377.5 162.6 377 163.6 C376.6 164.7 375.6 171.8 375.4 172.7 C375.2 173.7 374.2 181.9 373.7 182.6 C373.3 183.3 366.8 186.2 367.1 186.8 C367.5 187.4 380 193.6 381.2 194.2 C382.4 194.8 390.3 197.8 391.1 198.3 C391.9 198.9 396.3 204.3 396.9 205 C397.5 205.6 402.4 210.3 402.7 210.8 C402.9 211.2 402.3 214.4 401.9 214.9 C401.4 215.3 394.1 219.3 393.6 219.8 C393.1 220.4 392.4 225.8 391.9 226.5 C391.5 227.1 385.4 231.5 384.5 232.2 C383.6 232.9 375.4 239.9 374.6 240.5 C373.8 241.2 368.9 244.9 368.8 245.5 C368.7 246.1 372.1 251.4 372.9 252.1 C373.7 252.8 383.5 258.8 384.5 259.5 C385.5 260.3 392 266.5 392.8 267 C393.5 267.5 400.2 269.2 400.2 269.5 C400.2 269.7 392.8 272.5 392.8 272.8 C392.7 273 399.7 274.9 399.4 275.2 C399 275.6 387.7 279.7 386.1 280.2 C384.6 280.7 369.9 284.8 368 285.2 C366.1 285.6 348 287.8 348.1 288.1 C348.2 288.5 366.9 291.3 369.6 291.8 C372.3 292.2 399 296.2 402.7 296.7 C406.3 297.2 439.2 301.2 442.4 301.7 C445.5 302.2 463.8 305.5 465.5 305.8 C467.2 306.2 476.1 308.7 476.3 309.1 C476.4 309.6 468.9 314.2 468.8 314.9 C468.7 315.7 474.7 323.4 474.6 324 C474.5 324.6 467.2 327 467.2 327.3 C467.2 327.7 474.4 330.3 474.6 330.6 C474.8 331 471.3 333.5 471.3 333.9 C471.3 334.4 474.4 338.6 474.6 338.9 C474.8 339.2 475.9 339.7 475.4 340 C475 340.3 467.2 344.3 465.5 345 C463.9 345.6 443.9 352.2 442.4 353.2 C440.8 354.2 434.9 363.8 434.1 364.8 C433.3 365.8 427.1 372.1 425.8 373.1 C424.6 374 410.6 382.7 409.3 383.8 C408 385 400.4 395.3 399.4 396.2 C398.3 397.1 389 401.4 388.6 402 C388.2 402.6 391.4 407.2 391.1 407.8 C390.8 408.4 384.2 413 382.8 413.6 C381.5 414.1 364.7 418.1 364.6 418.5 C364.6 419 380.6 422.1 381.2 422.7 C381.8 423.3 376.9 430.1 376.2 430.9 C375.6 431.8 369.1 438.4 368 439.2 C366.8 440 354.7 446.7 353.1 447.5 C351.4 448.3 333.8 454.3 334.9 454.9 C336 455.5 371.2 459.3 374.6 459.9 C377.9 460.4 401.1 465.1 401.9 465.7 C402.6 466.3 390.7 470.9 389.5 471.5 C388.2 472 377.2 475.9 377 476.4 C376.9 477 385.6 481.5 386.1 482.2 C386.7 482.9 387.4 489.9 387.8 490.5 C388.2 491.1 393.7 493.4 393.6 493.8 C393.5 494.2 385.9 498.2 386.1 498.7 C386.3 499.2 397.1 503.2 397.7 503.7 C398.3 504.2 398 508.3 397.7 508.7 C397.4 509.1 392.3 511.6 391.1 512 C389.9 512.4 374.1 516.5 374.6 516.9 C375 517.3 399.8 519.9 400.2 520.2 C400.6 520.6 383.5 523.1 382.8 523.5 C382.1 524 386.5 529.5 386.1 530.2 C385.8 530.9 377.2 536.8 376.2 537.6 C375.2 538.4 367.6 546.1 366.3 546.7 C365 547.3 351.1 548.7 349.8 549.2 C348.4 549.6 339.9 555.1 339.8 555.8 C339.8 556.5 345.5 562.4 348.1 563.2 C350.7 564 388.8 570.8 391.1 571.5 C393.4 572.2 393.3 577.5 394.4 578.1 C395.5 578.7 410.5 583.4 412.6 583.9 C414.7 584.4 436 587.9 435.8 588 C435.5 588.1 408.2 585.7 408.3 585.8 C408.4 585.9 437 589.4 438 590 C439.1 590.5 429.3 596.1 429.8 596.6 C430.3 597.1 447.5 599.4 448 599.9 C448.4 600.4 439.4 605.9 438 606.5 C436.6 607.1 421.7 611.9 419.8 612.3 C417.9 612.7 402.1 614.5 400 614.8 C397.9 615.1 378.5 617.7 378.5 618.1 C378.5 618.4 397 621.8 400 622.2 C403 622.6 433.1 625.2 438 625.5 C443 625.8 495.7 628.5 499.2 628.8 C502.7 629.2 505.5 631.8 507.5 632.1 C509.5 632.5 539.1 635.1 539.7 635.4 C540.3 635.8 518.9 639.1 519.1 639.6 C519.3 640 542.9 644.1 543.9 644.5 C544.9 645 542.5 648.2 538.9 648.7 C535.3 649.1 474.2 652.4 471.1 652.8 C468 653.2 475.3 656.6 477.7 656.9 C480.1 657.3 517 659.8 519.1 660.2 C521.1 660.7 516 664.8 519.1 665.2 C522.2 665.6 580.4 668.2 581.1 668.5 C581.7 668.8 533.8 671.5 532.3 671.8 C530.8 672.1 550.6 674.9 550.5 675.1 C550.3 675.4 530.2 676.3 529 676.8 C527.7 677.2 523.8 683.6 525.7 684.2 C527.6 684.8 565 687.9 567 688.3 C569 688.8 567.6 692.2 565.4 692.5 C563.1 692.8 523.8 693.6 522.4 694.1 C521 694.7 535.1 703.3 537.2 704.1 C539.4 704.8 563.5 708.4 565.4 709 C567.2 709.7 574.3 716.5 573.6 717.3 C573 718.1 552.4 725.1 552.1 725.6 C551.9 726.1 568.2 726.8 568.7 727.2 C569.2 727.6 563.8 732.3 562.1 733 C560.3 733.7 532.9 741.4 533.9 742.1 C535 742.8 581 745.7 583.5 746.2 C586.1 746.7 586.1 751.6 585.2 752 C584.3 752.5 568.3 755 565.4 755.3 C562.4 755.6 526.5 758.2 525.7 758.6 C524.8 759.1 546.5 763.8 548.8 764.4 C551.1 765 571.3 769.7 572 770.2 C572.6 770.7 562.1 774.7 562.1 775.2 C562 775.6 569.8 778.1 570.3 778.5 C570.8 778.9 571.6 783.1 572 783.4 C572.3 783.8 577.3 784.8 576.9 785.1 C576.6 785.4 569.1 789.6 565.4 790 C561.6 790.5 502.1 792.8 502.5 793.4 C502.9 793.9 574.7 800.4 573.6 800.8 C572.6 801.2 483.9 800.6 481 800.8 C478.1 801 511.5 804.5 515.8 804.9 C520 805.4 560.4 809.4 565.4 809.9 C570.3 810.4 612.3 814.4 615 814.8 C617.6 815.3 617 818.6 618.3 819 C619.5 819.4 637 822.8 639.8 823.1 C642.5 823.4 670.6 825.3 672.8 825.6 C675.1 825.9 683.9 829.5 684.4 829.7 C684.9 829.9 682.1 829.7 682.4 830 C682.7 830.3 690.5 835 690.6 835.8 C690.7 836.5 685.8 844.3 684 844.9 C682.2 845.5 654.5 846.9 654.3 847.4 C654 847.8 678.1 852.4 679.1 853.2 C680 853.9 673.4 860.6 674.1 861.4 C674.8 862.2 691.6 868 692.3 868.9 C693 869.7 687.9 877.2 688.2 878 C688.4 878.7 696.3 883.9 696.4 884.6 C696.5 885.2 690.8 890.3 690.6 891.2 C690.4 892.1 692.2 901.7 692.3 902.8 C692.3 903.8 691.7 911.9 691.5 912.7 C691.2 913.5 686.8 918.2 687.3 919.3 C687.9 920.4 701.1 932.9 702.2 934.2 C703.4 935.5 710.3 944.7 710.5 945.8 C710.7 946.8 706.7 954.8 706.3 955.7 C706 956.5 703.2 961.7 703.9 962.3 C704.5 962.9 717.5 966.6 718.7 967.2 C720 967.9 728.5 974.4 728.7 975.5 C728.8 976.6 722.3 987.6 722.1 988.7 C721.8 989.9 724.9 997.9 723.7 998.7 C722.5 999.5 697.1 1004 697.2 1004.5 C697.4 1004.9 725.4 1007.3 727 1007.8 C728.7 1008.2 730.4 1012.9 730.3 1013.5 C730.2 1014.2 725.1 1019.4 725.4 1020.2 C725.6 1020.9 736.5 1027.7 735.3 1028.4 C734 1029.2 700.2 1034.5 700.6 1035 C700.9 1035.6 741.2 1039.4 742.4 1040 C743.5 1040.6 725.7 1045.4 723.8 1046.2 C721.9 1046.9 704.6 1054.1 704 1054.9 C703.4 1055.7 709.6 1061.7 711.4 1062.3 C713.3 1062.8 739.5 1065.5 741.1 1066 C742.8 1066.5 745 1071.4 744.9 1072.2 C744.7 1073 739 1081.1 738.7 1082.1 C738.3 1083.1 737.4 1091.2 737.4 1092 C737.4 1092.8 738.3 1097.6 738.7 1098.2 C739 1098.7 743.9 1102.7 744.9 1103.1 C745.9 1103.6 758.5 1107 758.5 1107.5 C758.5 1108 745.8 1112.3 744.9 1113 C743.9 1113.8 740.5 1120.8 739.9 1121.7 C739.3 1122.6 733.2 1130.6 732.5 1131.6 C731.7 1132.6 724.9 1140.8 725.1 1141.5 C725.2 1142.2 733.8 1144.8 735 1145.2 C736.1 1145.7 746.7 1149.6 747.3 1150.2 C748 1150.8 748.5 1156.1 748.6 1156.4" fill="none" stroke="#6495ed" stroke-width="6.6" stroke-linejoin="round" />
<path d="M463.9 99.1 C463 100.5 459.9 104.3 458.9 106.6 C457.9 108.8 457.6 108.6 458.1 111.5 C458.5 114.5 460 118.9 461.4 123.1 C462.7 127.3 464 130.5 465.5 134.7 C467 138.9 468.2 143.3 469.6 146.3 C471.1 149.2 472.3 148.2 473.8 151.2 C475.3 154.2 476.9 158.9 477.9 162.8 C479 166.7 478.7 169.4 479.6 172.7 C480.5 176 481.8 177.1 482.9 181 C483.9 184.9 485.1 190 485.4 194.2 C485.7 198.4 484.2 200.3 484.5 204.1 C484.8 208 485.7 210.7 487 215.7 C488.4 220.8 490 226.9 492 232.2 C493.9 237.6 496.3 240.4 497.8 245.5 C499.2 250.5 499.3 255.6 500.2 260.4 C501.1 265.1 501.5 267.2 502.7 271.9 C503.9 276.7 506.3 282.4 506.9 286.8 C507.4 291.3 505.1 292.6 506 296.7 C506.9 300.9 509.9 305.2 511.8 310 C513.7 314.7 514.7 318.7 516.8 323.2 C518.9 327.7 522.1 331.7 523.4 334.8 C524.7 337.8 522.4 336.1 524.2 340 C526 343.9 529 350 533.3 356.5 C537.6 363.1 543.1 369.5 548.2 376.4 C553.3 383.2 557.9 388 561.4 394.6 C565 401.1 567.4 407.7 568 412.8 C568.6 417.8 564.7 419.6 564.7 422.7 C564.7 425.8 565.7 426 568 430.1 C570.4 434.3 576.2 441.2 578 445.8 C579.7 450.4 578 453.4 578 455.8 C578 458.1 576.8 456.7 578 459.1 C579.1 461.4 580.4 462.7 584.6 469 C588.7 475.2 595.2 485.2 601.1 493.8 C607.1 502.4 614.4 511 617.6 516.9 C620.9 522.9 617.8 522.7 619.3 526.9 C620.8 531 623.5 535 625.9 540.1 C628.3 545.1 630.1 550.2 632.5 555 C634.9 559.7 636.2 561.5 639.1 566.5 C642.1 571.6 647.5 579.8 649.1 583.1 C650.7 586.4 646.1 582.6 648 585 C649.9 587.4 656 592.1 659.6 596.6 C663.2 601 665.5 605.3 667.9 609.8 C670.3 614.3 672.2 617.8 672.8 621.4 C673.4 625 670.6 626.4 671.2 629.6 C671.8 632.9 674.7 635.7 676.1 639.6 C677.6 643.4 680 647.9 679.5 651.1 C678.9 654.4 673.6 654.2 672.8 657.8 C672.1 661.3 673.2 665.6 675.3 671 C677.4 676.3 682.2 682.5 684.4 687.5 C686.6 692.6 685.9 694.9 687.7 699.1 C689.5 703.3 691.7 706.5 694.3 710.7 C697 714.8 700.5 719 702.6 722.2 C704.7 725.5 703.2 725.6 705.9 728.9 C708.6 732.1 714.2 736.3 717.5 740.4 C720.8 744.6 722.2 748.4 724.1 752 C726 755.6 728.1 757 728.2 760.3 C728.4 763.6 724.6 766.6 724.9 770.2 C725.2 773.8 728.8 776.8 729.9 780.1 C730.9 783.4 730 785.7 730.7 788.4 C731.5 791.1 735.2 792.3 734 795 C732.8 797.7 725.6 799.4 724.1 803.3 C722.6 807.1 726.6 812.3 725.8 816.5 C724.9 820.7 720.7 824 719.1 826.4 C717.6 828.9 715.7 827 717.1 830 C718.5 833 724.3 838.5 727 843.2 C729.7 848 730.5 851.4 732 856.5 C733.5 861.5 733.5 866.3 735.3 871.3 C737.1 876.4 738.3 879.2 741.9 884.6 C745.5 889.9 751.3 894.9 755.1 901.1 C759 907.4 763.4 913.6 763.4 919.3 C763.4 924.9 757.1 928.1 755.1 932.5 C753.2 937 751.2 939 752.6 944.1 C754.1 949.2 763.5 956.5 763.4 960.6 C763.2 964.8 754.3 964 751.8 967.2 C749.3 970.5 748.1 974.1 749.3 978.8 C750.5 983.6 756.9 988 758.4 993.7 C759.9 999.4 757.6 1004 757.6 1010.2 C757.6 1016.5 757.4 1023.7 758.4 1028.4 C759.5 1033.2 762.7 1034.6 763.4 1036.7 C764.1 1038.8 762 1037.6 762.2 1040 C762.4 1042.4 763.8 1046.6 764.7 1049.9 C765.6 1053.2 768.7 1055.5 767.1 1058.6 C765.6 1061.7 757.3 1063.9 756 1067.2 C754.7 1070.6 757.9 1073.4 759.7 1077.1 C761.5 1080.9 764.3 1084.1 765.9 1088.3 C767.5 1092.5 768.2 1097.3 768.4 1100.7 C768.6 1104 767.8 1105.1 767.1 1106.9 C766.5 1108.6 763.6 1108.3 764.7 1110.6 C765.8 1112.8 769.5 1115.9 773.3 1119.2 C777.1 1122.6 781.9 1126 785.7 1129.1 C789.5 1132.3 792.3 1134.5 794.4 1136.6 C796.5 1138.7 798.4 1139.1 797.5 1140.9 C796.6 1142.7 792.2 1143.9 789.4 1146.5 C786.6 1149 783.3 1153.6 782 1155.1" fill="none" stroke="#ff0000" stroke-width="6.6" stroke-linejoin="round" />
<path d="M418.4 99.1 C421.5 105.8 430.2 124.9 435.8 136.3 C441.3 147.8 443 151.2 449 162.8 C454.9 174.4 462 187.7 468.8 200.8 C475.7 213.9 482.2 226.6 487 235.6 C491.8 244.5 491.7 244.2 495.3 250.4 C498.9 256.7 501.2 260.5 506.9 270.3 C512.5 280.1 518.8 292 526.7 305 C534.6 318 540.3 326.4 550.7 342.5 C561.1 358.6 573.7 377.5 584.6 394.6 C595.4 411.7 600.3 419.7 611 437.6 C621.7 455.4 633.1 474.4 644.1 493.8 C655.1 513.1 663 528.4 672.2 545 C681.4 561.7 690.8 578.1 695.4 586.4 C699.9 594.6 695.1 585.1 697.6 590.8 C700.1 596.5 705.1 607.8 709.2 618.1 C713.4 628.3 716.6 637.1 720.8 647.8 C725 658.6 728.5 666.9 732.4 677.6 C736.2 688.3 739 696.6 742.3 707.4 C745.6 718.1 747.6 726.4 750.6 737.1 C753.5 747.8 756.1 755.9 758.8 766.9 C761.5 777.9 763.4 787 765.4 798.3 C767.5 809.7 768 818.3 770 830 C772 841.7 774.2 850 776.6 863.1 C779 876.2 781.1 888.5 783.2 902.8 C785.3 917 786.4 928.2 788.2 942.4 C790 956.7 791.7 968.1 793.2 982.1 C794.6 996.1 795.6 1009.7 796.5 1020.2 C797.4 1030.6 797.6 1033.1 798.1 1040 C798.6 1046.9 799 1051.9 799.3 1058.6 C799.7 1065.3 799.7 1070.5 800 1077.1 C800.2 1083.8 800.4 1089 800.6 1095.7 C800.8 1102.4 800.9 1107.8 801.2 1114.3 C801.5 1120.8 800.8 1127.2 802.4 1131.6 C804.1 1136.1 805.5 1135.3 810.5 1139.1 C815.5 1142.8 826.7 1150.2 830.3 1152.7" fill="none" stroke="#f20c0c" stroke-width="4.2" stroke-linejoin="round" stroke-dasharray="15.5 6.5"/>
<line x1="199" y1="588" x2="199" y2="774.7" stroke="#008000" stroke-opacity="0.4" stroke-width="3.8"/>
<text x="178.7" y="577.8" font-size="16.7" fill="#008000" font-weight="bold" text-anchor="start" fill-opacity="0.42">HGZ</text>
<line x1="237" y1="843.6" x2="237" y2="962" stroke="#a52a2a" stroke-opacity="0.33" stroke-width="3.8"/>
<text x="219.4" y="836.2" font-size="16.7" fill="#a52a2a" font-weight="bold" text-anchor="start" fill-opacity="0.33">6.3</text>
<line x1="275.1" y1="1065" x2="275.1" y2="1156.5" stroke="#add8e6" stroke-opacity="0.55" stroke-width="3.8"/>
<text x="261" y="1061.6" font-size="16.7" fill="#add8e6" font-weight="bold" text-anchor="start" fill-opacity="0.55">EIL</text>
<text x="95.8" y="348" font-size="15" fill="#000" font-weight="bold" text-anchor="start" fill-opacity="0.65">13km</text>
<text x="95.8" y="627.7" font-size="15" fill="#000" font-weight="bold" text-anchor="start" fill-opacity="0.65">9km</text>
<text x="95.8" y="754.9" font-size="15" fill="#000" font-weight="bold" text-anchor="start" fill-opacity="0.65">7km</text>
<text x="95.8" y="874.1" font-size="15" fill="#000" font-weight="bold" text-anchor="start" fill-opacity="0.65">5km</text>
<text x="95.8" y="989.2" font-size="15" fill="#000" font-weight="bold" text-anchor="start" fill-opacity="0.65">3km</text>
<text x="95.8" y="1100.3" font-size="15" fill="#000" font-weight="bold" text-anchor="start" fill-opacity="0.65">1km</text>
<text x="95.8" y="1154.8" font-size="15" fill="#000" font-weight="bold" text-anchor="start" fill-opacity="0.65">-SFC (127m) -</text>
<text x="290.1" y="421.5" font-size="18.4" fill="#008000" font-weight="normal" text-anchor="start" fill-opacity="0.68">17% →</text>
<text x="375.8" y="627" font-size="18.4" fill="#008000" font-weight="normal" text-anchor="start" fill-opacity="0.68">21% →</text>
<text x="520.6" y="814.2" font-size="18.4" fill="#008000" font-weight="normal" text-anchor="start" fill-opacity="0.68">49% →</text>
<text x="633.6" y="989.6" font-size="18.4" fill="#008000" font-weight="normal" text-anchor="start" fill-opacity="0.68">83% →</text>
<text x="653.9" y="1100.7" font-size="18.4" fill="#008000" font-weight="normal" text-anchor="start" fill-opacity="0.68">87% →</text>
<text x="568" y="276" font-size="18.3" fill="#ff0000" font-weight="normal" text-anchor="start" fill-opacity="0.6">←1092J/kg</text>
<text x="855.5" y="814.8" font-size="18.3" fill="#ff0000" font-weight="normal" text-anchor="start" fill-opacity="0.6">←291J/kg</text>
<text x="883.3" y="989.6" font-size="18.3" fill="#ff0000" font-weight="normal" text-anchor="start" fill-opacity="0.6">←46J/kg</text>
<text x="705.9" y="1175.6" font-size="16.7" fill="#6495ed" font-weight="bold" text-anchor="start" fill-opacity="0.7">71°F</text>
<text x="785.7" y="1175.6" font-size="16.7" fill="#ff0000" font-weight="bold" text-anchor="start" fill-opacity="0.7">76°F</text>
<line x1="1126" y1="277.6" x2="1126" y2="1154.3" stroke="#909090" stroke-opacity="0.75" stroke-width="1.4" stroke-dasharray="1.5 4"/>
<text x="1074.5" y="142.2" font-size="20.8" fill="#000" font-weight="bold" text-anchor="start" fill-opacity="0.45">↑MUMPL: 77hPa</text>
<text x="1075.6" y="275.9" font-size="20.8" fill="#000" font-weight="bold" text-anchor="start" fill-opacity="0.45">←MUEL</text>
<text x="1076" y="1088.8" font-size="20.8" fill="#000" font-weight="bold" text-anchor="start" fill-opacity="0.45">←MULFC</text>
<text x="1076" y="1137.1" font-size="20.8" fill="#000" font-weight="bold" text-anchor="start" fill-opacity="0.45">←SBLCL</text>
<text x="1025.7" y="1151.4" font-size="12.5" fill="#000" font-weight="bold" text-anchor="start" fill-opacity="0.45">←PBL</text>
<text x="1006.7" y="881" font-size="16.7" fill="#6495ed" font-weight="bold" text-anchor="start" fill-opacity="0.6">←FRZ</text>
<text x="1006.7" y="903.8" font-size="16.7" fill="#6495ed" font-weight="bold" text-anchor="start" fill-opacity="0.6">←WB0</text>
<line x1="34.4" y1="423.7" x2="39.4" y2="423.7" stroke="#000" stroke-width="1.2"/>
<text x="43.8" y="430.2" font-size="17.6" fill="#000" font-weight="bold" text-anchor="start" >200</text>
<line x1="34.4" y1="614.4" x2="39.4" y2="614.4" stroke="#000" stroke-width="1.2"/>
<text x="43.8" y="620.9" font-size="17.6" fill="#000" font-weight="bold" text-anchor="start" >300</text>
<line x1="34.4" y1="749.7" x2="39.4" y2="749.7" stroke="#000" stroke-width="1.2"/>
<text x="43.8" y="756.2" font-size="17.6" fill="#000" font-weight="bold" text-anchor="start" >400</text>
<line x1="34.4" y1="854.6" x2="39.4" y2="854.6" stroke="#000" stroke-width="1.2"/>
<text x="43.8" y="861.1" font-size="17.6" fill="#000" font-weight="bold" text-anchor="start" >500</text>
<line x1="34.4" y1="940.3" x2="39.4" y2="940.3" stroke="#000" stroke-width="1.2"/>
<text x="43.8" y="946.8" font-size="17.6" fill="#000" font-weight="bold" text-anchor="start" >600</text>
<line x1="34.4" y1="1012.8" x2="39.4" y2="1012.8" stroke="#000" stroke-width="1.2"/>
<text x="43.8" y="1019.3" font-size="17.6" fill="#000" font-weight="bold" text-anchor="start" >700</text>
<line x1="34.4" y1="1075.6" x2="39.4" y2="1075.6" stroke="#000" stroke-width="1.2"/>
<text x="43.8" y="1082.1" font-size="17.6" fill="#000" font-weight="bold" text-anchor="start" >800</text>
<line x1="34.4" y1="1131" x2="39.4" y2="1131" stroke="#000" stroke-width="1.2"/>
<text x="43.8" y="1137.5" font-size="17.6" fill="#000" font-weight="bold" text-anchor="start" >900</text>
<line x1="34.4" y1="1180.5" x2="39.4" y2="1180.5" stroke="#000" stroke-width="1.2"/>
<text x="43.8" y="1187" font-size="17.6" fill="#000" font-weight="bold" text-anchor="start" >1000</text>
<line x1="131.5" y1="1198.3" x2="131.5" y2="1203.3" stroke="#000" stroke-width="1.2"/>
<text x="131.9" y="1200.6" font-size="17.6" fill="#000" font-weight="bold" text-anchor="middle" >−20</text>
<line x1="265.9" y1="1198.3" x2="265.9" y2="1203.3" stroke="#000" stroke-width="1.2"/>
<text x="266.3" y="1200.6" font-size="17.6" fill="#000" font-weight="bold" text-anchor="middle" >−10</text>
<line x1="400.3" y1="1198.3" x2="400.3" y2="1203.3" stroke="#000" stroke-width="1.2"/>
<text x="400.7" y="1200.6" font-size="17.6" fill="#000" font-weight="bold" text-anchor="middle" >0</text>
<line x1="534.7" y1="1198.3" x2="534.7" y2="1203.3" stroke="#000" stroke-width="1.2"/>
<text x="535.1" y="1200.6" font-size="17.6" fill="#000" font-weight="bold" text-anchor="middle" >10</text>
<line x1="669.1" y1="1198.3" x2="669.1" y2="1203.3" stroke="#000" stroke-width="1.2"/>
<text x="669.5" y="1200.6" font-size="17.6" fill="#000" font-weight="bold" text-anchor="middle" >20</text>
<line x1="803.5" y1="1198.3" x2="803.5" y2="1203.3" stroke="#000" stroke-width="1.2"/>
<text x="803.9" y="1200.6" font-size="17.6" fill="#000" font-weight="bold" text-anchor="middle" >30</text>
<line x1="937.9" y1="1198.3" x2="937.9" y2="1203.3" stroke="#000" stroke-width="1.2"/>
<text x="938.3" y="1200.6" font-size="17.6" fill="#000" font-weight="bold" text-anchor="middle" >40</text>
<line x1="1072.3" y1="1198.3" x2="1072.3" y2="1203.3" stroke="#000" stroke-width="1.2"/>
<text x="1072.7" y="1200.6" font-size="17.6" fill="#000" font-weight="bold" text-anchor="middle" >50</text>
<line x1="1206.7" y1="1198.3" x2="1206.7" y2="1203.3" stroke="#000" stroke-width="1.2"/>
<text x="1207.1" y="1200.6" font-size="17.6" fill="#000" font-weight="bold" text-anchor="middle" >60</text>
<rect x="41.4" y="105.4" width="177.9" height="192.1" rx="3" fill="#fff" fill-opacity="0.8" stroke="#cccccc" stroke-opacity="0.8" stroke-width="1.2"/>
<line x1="46" y1="116.5" x2="74.2" y2="116.5" stroke="#80b3ff" stroke-width="2.8" />
<text x="85.6" y="122.1" font-size="13.8" fill="#000" font-weight="normal" text-anchor="start" >WETBULB TEMP</text>
<line x1="46" y1="137.1" x2="74.2" y2="137.1" stroke="#a54a4a" stroke-width="4.9" stroke-dasharray="4.9 6.4"/>
<text x="85.6" y="142.6" font-size="13.8" fill="#000" font-weight="normal" text-anchor="start" >VIRTUAL TEMP</text>
<line x1="42.9" y1="158.5" x2="77.9" y2="158.5" stroke="#6495ed" stroke-width="7" />
<text x="85.6" y="163.8" font-size="13.8" fill="#000" font-weight="normal" text-anchor="start" >DEWPOINT</text>
<line x1="42.9" y1="179.4" x2="77.9" y2="179.4" stroke="#ff0000" stroke-width="7" />
<text x="85.6" y="184.6" font-size="13.8" fill="#000" font-weight="normal" text-anchor="start" >TEMPERATURE</text>
<line x1="46" y1="199.9" x2="74.2" y2="199.9" stroke="#ee1111" stroke-width="4.2" stroke-dasharray="15.5 6.5"/>
<text x="85.6" y="205.7" font-size="13.8" fill="#000" font-weight="normal" text-anchor="start" >MUECAPE PARCEL</text>
<line x1="46" y1="221.4" x2="74.2" y2="221.4" stroke="#b8b8b8" stroke-width="2.8" stroke-dasharray="10.4 4.5"/>
<text x="85.6" y="226.5" font-size="13.8" fill="#000" font-weight="normal" text-anchor="start" >SBCAPE PARCEL</text>
<line x1="46" y1="242.2" x2="74.2" y2="242.2" stroke="#b8b8b8" stroke-width="2.8" stroke-dasharray="10.4 4.5"/>
<text x="85.6" y="247.4" font-size="13.8" fill="#000" font-weight="normal" text-anchor="start" >MLCAPE PARCEL</text>
<line x1="46" y1="263.5" x2="74.2" y2="263.5" stroke="#b8b8b8" stroke-width="2.8" stroke-dasharray="10.4 4.5"/>
<text x="85.6" y="268.6" font-size="13.8" fill="#000" font-weight="normal" text-anchor="start" >MUCAPE PARCEL</text>
<line x1="46" y1="284.2" x2="74.2" y2="284.2" stroke="#800080" stroke-width="1" stroke-dasharray="3.7 1.6"/>
<text x="85.6" y="288.8" font-size="13.8" fill="#000" font-weight="normal" text-anchor="start" >DWNDRFT PARCEL</text>
<line x1="1247.4" y1="153.4" x2="1247.4" y2="1192.6" stroke="#000" stroke-width="1.1"/>
<path d="M1247.4 221.3 L1290.7 222.1 M1276.8 221.8 L1279 230.7" fill="none" stroke="#000" stroke-width="1.9" stroke-linecap="butt" stroke-linejoin="miter"/>
<polygon points="1290.7,222.1 1285.7,239.6 1281.4,221.9" fill="#000" stroke="#000" stroke-width="0.8"/>
<circle cx="1247.4" cy="221.3" r="3.4" fill="#000"/>
<path d="M1247.4 252.4 L1290.7 252" fill="none" stroke="#000" stroke-width="1.9" stroke-linecap="butt" stroke-linejoin="miter"/>
<polygon points="1290.7,252 1286.2,269.7 1281.4,252.1" fill="#000" stroke="#000" stroke-width="0.8"/>
<circle cx="1247.4" cy="252.4" r="3.4" fill="#000"/>
<path d="M1247.4 285 L1290.3 278.8" fill="none" stroke="#000" stroke-width="1.9" stroke-linecap="butt" stroke-linejoin="miter"/>
<polygon points="1290.3,278.8 1288.2,296.9 1281.1,280.2" fill="#000" stroke="#000" stroke-width="0.8"/>
<circle cx="1247.4" cy="285" r="3.4" fill="#000"/>
<path d="M1247.4 318.6 L1288.3 304.3" fill="none" stroke="#000" stroke-width="1.9" stroke-linecap="butt" stroke-linejoin="miter"/>
<polygon points="1288.3,304.3 1289.7,322.4 1279.5,307.4" fill="#000" stroke="#000" stroke-width="0.8"/>
<circle cx="1247.4" cy="318.6" r="3.4" fill="#000"/>
<path d="M1247.4 352.4 L1287.1 335.1 M1287.1 335.1 L1298.4 349.3 M1282.1 337.2 L1293.4 351.5 M1277.2 339.4 L1288.5 353.7 M1272.2 341.6 L1283.5 355.8" fill="none" stroke="#000" stroke-width="1.9" stroke-linecap="butt" stroke-linejoin="miter"/>
<circle cx="1247.4" cy="352.4" r="3.4" fill="#000"/>
<path d="M1247.4 384.4 L1287.1 367.1 M1287.1 367.1 L1298.4 381.3 M1282.1 369.2 L1293.4 383.5 M1277.2 371.4 L1288.5 385.7 M1272.2 373.6 L1283.5 387.8" fill="none" stroke="#000" stroke-width="1.9" stroke-linecap="butt" stroke-linejoin="miter"/>
<circle cx="1247.4" cy="384.4" r="3.4" fill="#000"/>
<path d="M1247.4 418.8 L1287.2 401.8 M1287.2 401.8 L1298.4 416.2 M1282.3 403.9 L1293.4 418.3 M1277.3 406 L1288.5 420.4 M1272.3 408.2 L1277.9 415.3" fill="none" stroke="#000" stroke-width="1.9" stroke-linecap="butt" stroke-linejoin="miter"/>
<circle cx="1247.4" cy="418.8" r="3.4" fill="#000"/>
<path d="M1247.4 451 L1287.3 434.1 M1287.3 434.1 L1298.4 448.5 M1282.3 436.2 L1293.4 450.6 M1277.3 438.3 L1282.9 445.5" fill="none" stroke="#000" stroke-width="1.9" stroke-linecap="butt" stroke-linejoin="miter"/>
<circle cx="1247.4" cy="451" r="3.4" fill="#000"/>
<path d="M1247.4 485.1 L1288.6 471.7 M1288.6 471.7 L1298.4 487 M1283.4 473.4 L1293.3 488.7 M1278.3 475.1 L1283.2 482.7" fill="none" stroke="#000" stroke-width="1.9" stroke-linecap="butt" stroke-linejoin="miter"/>
<circle cx="1247.4" cy="485.1" r="3.4" fill="#000"/>
<path d="M1247.4 516.9 L1289.9 508.6 M1289.9 508.6 L1297.8 525 M1284.6 509.7 L1292.5 526.1" fill="none" stroke="#000" stroke-width="1.9" stroke-linecap="butt" stroke-linejoin="miter"/>
<circle cx="1247.4" cy="516.9" r="3.4" fill="#000"/>
<path d="M1247.4 550.6 L1290.7 550.6 M1290.7 550.6 L1295.4 568.2 M1285.3 550.6 L1290 568.2" fill="none" stroke="#000" stroke-width="1.9" stroke-linecap="butt" stroke-linejoin="miter"/>
<circle cx="1247.4" cy="550.6" r="3.4" fill="#000"/>
<path d="M1247.4 583.2 L1290.5 578.7 M1290.5 578.7 L1296.9 595.8 M1285.1 579.3 L1288.3 587.8" fill="none" stroke="#000" stroke-width="1.9" stroke-linecap="butt" stroke-linejoin="miter"/>
<circle cx="1247.4" cy="583.2" r="3.4" fill="#000"/>
<path d="M1247.4 617.2 L1288.3 631.3 M1288.3 631.3 L1287 649.5 M1283.2 629.5 L1282.6 638.6" fill="none" stroke="#000" stroke-width="1.9" stroke-linecap="butt" stroke-linejoin="miter"/>
<circle cx="1247.4" cy="617.2" r="3.4" fill="#000"/>
<path d="M1247.4 650.3 L1276.9 682 M1276.9 682 L1267.2 697.4 M1273.2 678 L1268.4 685.7" fill="none" stroke="#000" stroke-width="1.9" stroke-linecap="butt" stroke-linejoin="miter"/>
<circle cx="1247.4" cy="650.3" r="3.4" fill="#000"/>
<path d="M1247.4 683.7 L1269.5 720.9 M1269.5 720.9 L1256.7 733.9 M1266.7 716.3 L1260.4 722.8" fill="none" stroke="#000" stroke-width="1.9" stroke-linecap="butt" stroke-linejoin="miter"/>
<circle cx="1247.4" cy="683.7" r="3.4" fill="#000"/>
<path d="M1247.4 716.4 L1284.2 739.3 M1284.2 739.3 L1278.8 756.7" fill="none" stroke="#000" stroke-width="1.9" stroke-linecap="butt" stroke-linejoin="miter"/>
<circle cx="1247.4" cy="716.4" r="3.4" fill="#000"/>
<path d="M1247.4 749.5 L1290.6 751.8 M1290.6 751.8 L1294.4 769.6 M1285.2 751.5 L1287.1 760.4" fill="none" stroke="#000" stroke-width="1.9" stroke-linecap="butt" stroke-linejoin="miter"/>
<circle cx="1247.4" cy="749.5" r="3.4" fill="#000"/>
<path d="M1247.4 783.1 L1282.5 808.4 M1282.5 808.4 L1276 825.4 M1278.1 805.3 L1274.9 813.8" fill="none" stroke="#000" stroke-width="1.9" stroke-linecap="butt" stroke-linejoin="miter"/>
<circle cx="1247.4" cy="783.1" r="3.4" fill="#000"/>
<path d="M1247.4 815.9 L1280 844.4 M1280 844.4 L1271.9 860.7" fill="none" stroke="#000" stroke-width="1.9" stroke-linecap="butt" stroke-linejoin="miter"/>
<circle cx="1247.4" cy="815.9" r="3.4" fill="#000"/>
<path d="M1247.4 848.6 L1289.7 839.4 M1281.8 841.1 L1285.9 849.2" fill="none" stroke="#000" stroke-width="1.9" stroke-linecap="butt" stroke-linejoin="miter"/>
<circle cx="1247.4" cy="848.6" r="3.4" fill="#000"/>
<path d="M1247.4 882.1 L1288.1 896.8 M1280.5 894.1 L1279.7 903.1" fill="none" stroke="#000" stroke-width="1.9" stroke-linecap="butt" stroke-linejoin="miter"/>
<circle cx="1247.4" cy="882.1" r="3.4" fill="#000"/>
<path d="M1247.4 914.7 L1263.9 954.7 M1260.8 947.2 L1253.6 952.7" fill="none" stroke="#000" stroke-width="1.9" stroke-linecap="butt" stroke-linejoin="miter"/>
<circle cx="1247.4" cy="914.7" r="3.4" fill="#000"/>
<path d="M1247.4 948.5 L1228.6 987.5 M1232.1 980.2 L1223.1 978.5" fill="none" stroke="#000" stroke-width="1.9" stroke-linecap="butt" stroke-linejoin="miter"/>
<circle cx="1247.4" cy="948.5" r="3.4" fill="#000"/>
<path d="M1247.4 980.9 L1213.9 1008.3 M1213.9 1008.3 L1199.1 997.7" fill="none" stroke="#000" stroke-width="1.9" stroke-linecap="butt" stroke-linejoin="miter"/>
<circle cx="1247.4" cy="980.9" r="3.4" fill="#000"/>
<path d="M1247.4 1014.3 L1219.9 1047.8 M1225.1 1041.5 L1216.8 1037.7" fill="none" stroke="#000" stroke-width="1.9" stroke-linecap="butt" stroke-linejoin="miter"/>
<circle cx="1247.4" cy="1014.3" r="3.4" fill="#000"/>
<path d="M1247.4 1047.2 L1226.5 1085.1 M1230.4 1078 L1221.6 1075.8" fill="none" stroke="#000" stroke-width="1.9" stroke-linecap="butt" stroke-linejoin="miter"/>
<circle cx="1247.4" cy="1047.2" r="3.4" fill="#000"/>
<path d="M1247.4 1080.9 L1208.4 1062.2 M1215.7 1065.7 L1217.4 1056.7" fill="none" stroke="#000" stroke-width="1.9" stroke-linecap="butt" stroke-linejoin="miter"/>
<circle cx="1247.4" cy="1080.9" r="3.4" fill="#000"/>
<path d="M1247.4 1113.9 L1204.3 1109.8 M1204.3 1109.8 L1201.3 1091.9" fill="none" stroke="#000" stroke-width="1.9" stroke-linecap="butt" stroke-linejoin="miter"/>
<circle cx="1247.4" cy="1113.9" r="3.4" fill="#000"/>
<path d="M1247.4 1146.7 L1204.2 1143.7 M1204.2 1143.7 L1200.8 1125.8 M1209.6 1144.1 L1207.9 1135.1" fill="none" stroke="#000" stroke-width="1.9" stroke-linecap="butt" stroke-linejoin="miter"/>
<circle cx="1247.4" cy="1146.7" r="3.4" fill="#000"/>
<path d="M1247.4 1155 L1204.1 1154.6 M1204.1 1154.6 L1199.6 1137 M1209.5 1154.7 L1207.3 1145.8" fill="none" stroke="#000" stroke-width="1.9" stroke-linecap="butt" stroke-linejoin="miter"/>
<circle cx="1247.4" cy="1155" r="3.4" fill="#000"/>
</g>
<rect x="34.4" y="98.4" width="1270.1" height="1104.9" fill="none" stroke="#000" stroke-width="1.3"/>
<rect x="1304.5" y="98.4" width="88.3" height="1104.9" fill="#fff" stroke="#000" stroke-width="1.3"/>
<line x1="1304.5" y1="423.7" x2="1392.8" y2="423.7" stroke="#a0a0a0" stroke-width="1.3"/>
<line x1="1304.5" y1="614.4" x2="1392.8" y2="614.4" stroke="#a0a0a0" stroke-width="1.3"/>
<line x1="1304.5" y1="749.7" x2="1392.8" y2="749.7" stroke="#a0a0a0" stroke-width="1.3"/>
<line x1="1304.5" y1="854.6" x2="1392.8" y2="854.6" stroke="#a0a0a0" stroke-width="1.3"/>
<line x1="1304.5" y1="940.3" x2="1392.8" y2="940.3" stroke="#a0a0a0" stroke-width="1.3"/>
<line x1="1304.5" y1="1012.8" x2="1392.8" y2="1012.8" stroke="#a0a0a0" stroke-width="1.3"/>
<line x1="1304.5" y1="1075.6" x2="1392.8" y2="1075.6" stroke="#a0a0a0" stroke-width="1.3"/>
<line x1="1304.5" y1="1131" x2="1392.8" y2="1131" stroke="#a0a0a0" stroke-width="1.3"/>
<line x1="1304.5" y1="1180.5" x2="1392.8" y2="1180.5" stroke="#a0a0a0" stroke-width="1.3"/>
<rect x="1345.4" y="419.3" width="4" height="192" fill="#6495ed" fill-opacity="0.35" stroke="#6495ed" stroke-opacity="0.5" stroke-width="0.8"/>
<line x1="1350.3" y1="614.4" x2="1350.3" y2="749.7" stroke="#ff0000" stroke-opacity="0.4" stroke-width="1.2"/>
<line x1="1350.3" y1="1075.6" x2="1350.3" y2="1131" stroke="#ff0000" stroke-opacity="0.4" stroke-width="1.2"/>
<line x1="1349.4" y1="98.4" x2="1349.4" y2="1203.3" stroke="#000" stroke-width="1.4" stroke-dasharray="5.2 2.2"/>
<text x="1353.6" y="313.7" font-size="13.2" fill="#000" font-weight="bold" text-anchor="start" >0.0</text>
<text x="1353.6" y="697.6" font-size="13.2" fill="#000" font-weight="bold" text-anchor="start" >0.1</text>
<text x="1353.6" y="983.7" font-size="13.2" fill="#000" font-weight="bold" text-anchor="start" >0.0</text>
<text x="1353.6" y="1108.7" font-size="13.2" fill="#000" font-weight="bold" text-anchor="start" >0.1</text>
<text x="1345" y="543.7" font-size="13.2" fill="#000" font-weight="bold" text-anchor="end" >-0.4</text>
<text x="1345" y="813.6" font-size="13.2" fill="#000" font-weight="bold" text-anchor="end" >-0.0</text>
<text x="1345" y="906.5" font-size="13.2" fill="#000" font-weight="bold" text-anchor="end" >-0.1</text>
<text x="1345" y="1051.3" font-size="13.2" fill="#000" font-weight="bold" text-anchor="end" >-0.0</text>
<defs><clipPath id="ch"><rect x="1392.8" y="98.4" width="1022.8" height="1104.9"/></clipPath></defs>
<g clip-path="url(#ch)">
<rect x="1392.8" y="98.4" width="1022.8" height="1104.9" fill="#fff"/>
<circle cx="1956" cy="626" r="105.1" fill="none" stroke="#000" stroke-opacity="0.25" stroke-width="1.2" stroke-dasharray="7 4"/>
<circle cx="1956" cy="626" r="210.2" fill="none" stroke="#000" stroke-opacity="0.42" stroke-width="1.6"/>
<circle cx="1956" cy="626" r="315.3" fill="none" stroke="#000" stroke-opacity="0.25" stroke-width="1.2" stroke-dasharray="7 4"/>
<circle cx="1956" cy="626" r="420.4" fill="none" stroke="#000" stroke-opacity="0.42" stroke-width="1.6"/>
<circle cx="1956" cy="626" r="525.5" fill="none" stroke="#000" stroke-opacity="0.25" stroke-width="1.2" stroke-dasharray="7 4"/>
<circle cx="1956" cy="626" r="630.6" fill="none" stroke="#000" stroke-opacity="0.42" stroke-width="1.6"/>
<circle cx="1956" cy="626" r="735.7" fill="none" stroke="#000" stroke-opacity="0.25" stroke-width="1.2" stroke-dasharray="7 4"/>
<circle cx="1956" cy="626" r="840.8" fill="none" stroke="#000" stroke-opacity="0.42" stroke-width="1.6"/>
<line x1="1392.8" y1="626" x2="2415.6" y2="626" stroke="#000" stroke-opacity="0.5" stroke-width="1.15" stroke-dasharray="4.1 1.8"/>
<line x1="1956" y1="98.4" x2="1956" y2="1203.3" stroke="#000" stroke-opacity="0.5" stroke-width="1.15" stroke-dasharray="4.1 1.8"/>
<text x="2062.1" y="624" font-size="16.7" fill="#000" font-weight="bold" text-anchor="start" fill-opacity="0.22">10</text>
<text x="1851.9" y="624" font-size="16.7" fill="#000" font-weight="bold" text-anchor="start" fill-opacity="0.22">10</text>
<text x="1954.7" y="519.4" font-size="16.7" fill="#000" font-weight="bold" text-anchor="start" fill-opacity="0.22">10</text>
<text x="1954.7" y="729.6" font-size="16.7" fill="#000" font-weight="bold" text-anchor="start" fill-opacity="0.22">10</text>
<text x="2272.3" y="624" font-size="16.7" fill="#000" font-weight="bold" text-anchor="start" fill-opacity="0.22">30</text>
<text x="1641.7" y="624" font-size="16.7" fill="#000" font-weight="bold" text-anchor="start" fill-opacity="0.22">30</text>
<text x="1954.7" y="309.2" font-size="16.7" fill="#000" font-weight="bold" text-anchor="start" fill-opacity="0.22">30</text>
<text x="1954.7" y="939.8" font-size="16.7" fill="#000" font-weight="bold" text-anchor="start" fill-opacity="0.22">30</text>
<text x="2482.5" y="624" font-size="16.7" fill="#000" font-weight="bold" text-anchor="start" fill-opacity="0.22">50</text>
<text x="1431.5" y="624" font-size="16.7" fill="#000" font-weight="bold" text-anchor="start" fill-opacity="0.22">50</text>
<text x="1954.7" y="99" font-size="16.7" fill="#000" font-weight="bold" text-anchor="start" fill-opacity="0.22">50</text>
<text x="1954.7" y="1150" font-size="16.7" fill="#000" font-weight="bold" text-anchor="start" fill-opacity="0.22">50</text>
<polygon points="2010.4,449 2099.2,622.1 2099.2,633.4 2097.2,639.2 2090.6,642.5 2080.6,642.8 2073.2,640.3 2062.4,636.7 2044.3,633.1 2026.1,631.4 2011.2,632.1 2002.6,635 1998,641.7 1993.8,645.5 1989.7,645.8 1983.1,636.7 1976.5,621.8 1971.5,608.6 1970.7,602.8 1972.3,600.3" fill="#add8e6" fill-opacity="0.32"/>
<line x1="2010.4" y1="449" x2="2099.2" y2="622.1" stroke="#add8e6" stroke-opacity="0.7" stroke-width="2"/>
<line x1="2010.4" y1="449" x2="1972.3" y2="600.3" stroke="#add8e6" stroke-opacity="0.7" stroke-width="2"/>
<path d="M1807 546.2 C1805 549.1 1799.6 556.4 1796.2 562.3 C1792.8 568.1 1790.2 572.9 1788 578.8 C1785.7 584.8 1784.5 590.2 1783.8 595.4 C1783.1 600.5 1784.1 602.6 1784 607.6 C1783.9 612.7 1783.3 618.3 1783.2 623.5 C1783.1 628.6 1783.5 632.5 1783.5 636.2 C1783.4 639.9 1783.4 642.3 1782.9 644.1 C1782.3 646 1781.3 647.4 1780.3 646.5 C1779.4 645.7 1778.4 642.7 1777.6 639.4 C1776.8 636.1 1777.9 629.7 1776 628.3 C1774.2 626.8 1771.2 629.4 1767.3 631.4 C1763.4 633.4 1759.2 635.7 1754.6 639.4 C1750 643.1 1745.9 647.2 1741.9 652.1 C1737.9 656.9 1735 661.2 1732.4 666.3 C1729.8 671.5 1728.3 676 1727.6 680.6 C1726.9 685.3 1728 688.1 1728.4 692.1 C1728.8 696.1 1729.9 699.5 1730 702.9 C1730.1 706.2 1731.1 707.9 1729.2 710.8 C1727.3 713.7 1724.3 715.3 1719.7 718.7 C1715.1 722.2 1710.4 725.6 1703.8 729.8 C1697.2 734.1 1691.2 738.3 1683.2 742.5 C1675.2 746.8 1667.9 750.1 1659.4 753.7 C1650.8 757.2 1643.8 759.7 1635.6 762.4 C1627.3 765.1 1617.3 767.6 1613.3 768.7" fill="none" stroke="#fff0a0" stroke-width="9" stroke-linejoin="round" stroke-linecap="butt"/>
<path d="M1885.5 562 C1883.1 564.4 1877.6 570.1 1872.3 575.5 C1866.9 580.9 1862.3 586.1 1855.8 592.1 C1849.2 598 1842.5 603.8 1835.9 608.6 C1829.4 613.3 1824.4 616 1819.4 618.5 C1814.3 621 1811.4 622.2 1807.8 622.6 C1804.2 623.1 1801.9 623 1799.5 621 C1797.1 619 1795.2 616 1794.6 611.4 C1794 606.8 1795.5 600.3 1796.2 595.4 C1797 590.4 1796.3 588.2 1798.7 583.8 C1801.1 579.3 1803.3 575.3 1809.5 570.6 C1815.6 565.8 1824.6 561.2 1832.6 557.3 C1840.6 553.5 1846.8 551.3 1854.1 549.1 C1861.4 546.8 1868.1 545.7 1873.1 544.9 C1878.2 544.2 1879.4 545.4 1882.2 544.9 C1885 544.5 1886.7 544.1 1888.8 542.4 C1890.9 540.8 1892.4 538.5 1893.8 535.8 C1895.1 533.2 1896 530.4 1896.3 527.6 C1896.6 524.7 1898 523.7 1895.4 520.1 C1892.9 516.5 1887.9 511.4 1882.2 507.7 C1876.6 504 1869.4 501.2 1864 499.5 C1858.7 497.7 1856.3 497.8 1852.4 498.1 C1848.6 498.4 1846.1 498.8 1842.5 501.1 C1838.9 503.4 1836.2 506.9 1832.6 511 C1829 515.2 1826.3 519.5 1822.7 524.3 C1819.1 529 1815.6 533.5 1812.8 537.5 C1809.9 541.4 1808 544.7 1807 546.2" fill="none" stroke="#ffd700" stroke-width="9" stroke-linejoin="round" stroke-linecap="round"/>
<path d="M2030.2 576.3 C2031 574.6 2034.2 570.1 2034.8 566.4 C2035.4 562.7 2035.1 559.4 2033.5 555.7 C2031.9 552 2030.1 548.7 2026.1 545.8 C2022.1 542.8 2015.9 539.7 2011.2 539.1 C2006.4 538.5 2003.5 539.5 1999.6 542.4 C1995.7 545.4 1993.3 549.7 1989.7 555.7 C1986.1 561.6 1983 569.3 1979.8 575.5 C1976.5 581.8 1974.5 586.1 1971.5 590.4 C1968.5 594.7 1965.9 597.6 1963.2 599.5 C1960.6 601.4 1959.5 601.4 1956.6 601.1 C1953.7 600.9 1950.2 600.1 1947.2 598.3 C1944.2 596.5 1942.3 594.7 1940.1 591.2 C1937.9 587.7 1936.2 582.5 1935.1 578.8 C1934.1 575.1 1934.3 572.3 1934.3 570.6 C1934.3 568.8 1935 567.4 1935.1 568.9 C1935.2 570.4 1935.7 575.3 1934.8 578.8 C1933.9 582.4 1932.5 584 1930.2 588.7 C1927.8 593.5 1924.9 599.2 1921.9 605.3 C1918.9 611.3 1915.4 617.3 1913.3 622.3 C1911.2 627.4 1911.4 630.7 1910.3 633.4 C1909.2 636 1908.1 636.9 1907.3 637 C1906.6 637.2 1906.8 637.8 1906.2 634.2 C1905.5 630.6 1905.3 623.3 1903.7 616.9 C1902.1 610.5 1899.5 604.6 1897.1 598.7 C1894.7 592.7 1892.6 588.5 1890.5 583.8 C1888.4 579 1886.4 576.1 1885.5 572.2 C1884.6 568.3 1885.5 563.8 1885.5 562" fill="none" stroke="#ff8c00" stroke-width="9" stroke-linejoin="round" stroke-linecap="round"/>
<path d="M2002.6 635 C2001.8 636.2 1999.5 639.8 1998 641.7 C1996.4 643.5 1995.3 644.7 1993.8 645.5 C1992.3 646.2 1991.6 647.4 1989.7 645.8 C1987.8 644.2 1985.5 641 1983.1 636.7 C1980.7 632.4 1978.5 626.9 1976.5 621.8 C1974.4 616.8 1972.5 612 1971.5 608.6 C1970.5 605.2 1970.5 604.3 1970.7 602.8 C1970.8 601.3 1971 601.1 1972.3 600.3 C1973.7 599.6 1975.6 600.5 1978.1 598.7 C1980.6 596.9 1984 593.7 1986.4 590.4 C1988.8 587.1 1989.4 583.2 1991.3 580.5 C1993.3 577.8 1994.7 576.1 1997.1 575.5 C1999.5 574.9 2002 576.4 2004.6 577.2 C2007.1 577.9 2008.2 579.1 2011.2 579.6 C2014.2 580.2 2017.7 581.1 2021.1 580.5 C2024.5 579.9 2028.6 577.1 2030.2 576.3" fill="none" stroke="#ff0000" stroke-width="9" stroke-linejoin="round" stroke-linecap="round"/>
<path d="M2099.2 622.1 C2099.2 624.2 2099.5 630.3 2099.2 633.4 C2098.8 636.5 2098.7 637.5 2097.2 639.2 C2095.6 640.8 2093.5 641.8 2090.6 642.5 C2087.6 643.1 2083.8 643.2 2080.6 642.8 C2077.5 642.4 2076.5 641.4 2073.2 640.3 C2069.9 639.2 2067.7 638 2062.4 636.7 C2057.2 635.4 2050.8 634 2044.3 633.1 C2037.7 632.1 2032 631.6 2026.1 631.4 C2020.1 631.2 2015.4 631.4 2011.2 632.1 C2007 632.7 2004.1 634.5 2002.6 635" fill="none" stroke="#800080" stroke-width="9" stroke-linejoin="round" stroke-linecap="butt"/>
<line x1="1956" y1="626" x2="2005.9" y2="462.8" stroke="#000" stroke-opacity="0.2" stroke-width="5.2"/>
<polygon points="2010.4,448.8 1999.9,465.8 2012.4,467.8" fill="#000" fill-opacity="0.25"/>
<text x="2017.5" y="458" font-size="18.8" fill="#111" font-weight="bold" text-anchor="start" >RM</text>
<text x="1947.4" y="595.6" font-size="18.8" fill="#111" font-weight="bold" text-anchor="start" >MW</text>
<text x="1945.7" y="755" font-size="18.8" fill="#111" font-weight="bold" text-anchor="start" >LM</text>
<text x="2037.3" y="523" font-size="12.8" fill="#a52a2a" font-weight="bold" text-anchor="start" >DTM</text>
<polygon points="2047.8,537.5 2061.4,537.5 2054.6,549.5" fill="#a52a2a" fill-opacity="0.8"/>
<text x="1810.5" y="531" font-size="16.7" fill="#ff8c00" font-weight="bold" text-anchor="start" fill-opacity="0.45">DN</text>
<text x="1835" y="573.5" font-size="16.7" fill="#ff8c00" font-weight="bold" text-anchor="start" fill-opacity="0.45">UP</text>
<circle cx="2073.2" cy="640.3" r="10" fill="#fff" stroke="#000" stroke-width="1.5"/>
<text x="2073.2" y="645.9" font-size="15.3" fill="#000" font-weight="bold" text-anchor="middle" >.5</text>
<circle cx="2002.6" cy="635" r="10" fill="#fff" stroke="#000" stroke-width="1.5"/>
<text x="2002.6" y="640.6" font-size="15.3" fill="#000" font-weight="bold" text-anchor="middle" >1</text>
<circle cx="1972.3" cy="600.3" r="10" fill="#fff" stroke="#000" stroke-width="1.5"/>
<text x="1972.3" y="605.9" font-size="15.3" fill="#000" font-weight="bold" text-anchor="middle" >2</text>
<circle cx="2030.2" cy="576.3" r="10" fill="#fff" stroke="#000" stroke-width="1.5"/>
<text x="2030.2" y="581.9" font-size="15.3" fill="#000" font-weight="bold" text-anchor="middle" >3</text>
<circle cx="1947.2" cy="598.3" r="10" fill="#fff" stroke="#000" stroke-width="1.5"/>
<text x="1947.2" y="603.9" font-size="15.3" fill="#000" font-weight="bold" text-anchor="middle" >4</text>
<circle cx="1913.3" cy="622.3" r="10" fill="#fff" stroke="#000" stroke-width="1.5"/>
<text x="1913.3" y="627.9" font-size="15.3" fill="#000" font-weight="bold" text-anchor="middle" >5</text>
<circle cx="1885.5" cy="562" r="10" fill="#fff" stroke="#000" stroke-width="1.5"/>
<text x="1885.5" y="567.6" font-size="15.3" fill="#000" font-weight="bold" text-anchor="middle" >6</text>
<circle cx="1794.6" cy="611.4" r="10" fill="#fff" stroke="#000" stroke-width="1.5"/>
<text x="1794.6" y="617" font-size="15.3" fill="#000" font-weight="bold" text-anchor="middle" >7</text>
<circle cx="1895.4" cy="520.1" r="10" fill="#fff" stroke="#000" stroke-width="1.5"/>
<text x="1895.4" y="525.7" font-size="15.3" fill="#000" font-weight="bold" text-anchor="middle" >8</text>
<circle cx="1807" cy="546.2" r="10" fill="#fff" stroke="#000" stroke-width="1.5"/>
<text x="1807" y="551.8" font-size="15.3" fill="#000" font-weight="bold" text-anchor="middle" >9</text>
<circle cx="1728.4" cy="692.1" r="10" fill="#fff" stroke="#000" stroke-width="1.5"/>
<text x="1728.4" y="697.7" font-size="15.3" fill="#000" font-weight="bold" text-anchor="middle" >11</text>
<text x="1413.8" y="124.7" font-size="20.8" fill="#000" font-weight="bold" text-anchor="start" fill-opacity="0.6">SM: RIGHT MOVING | NNE @ 17 kts</text>
<text x="1413.7" y="154.8" font-size="20.8" fill="#000" font-weight="normal" text-anchor="start" fill-opacity="0.6">RM: NNE @ 17 kts</text>
<text x="1413.7" y="194.7" font-size="20.8" fill="#000" font-weight="normal" text-anchor="start" fill-opacity="0.6">LM: UND @ 11 kts</text>
<text x="1413.7" y="233.9" font-size="20.8" fill="#000" font-weight="normal" text-anchor="start" fill-opacity="0.6">MW: UND @ 3 kts</text>
<text x="1406.9" y="273.3" font-size="20.8" fill="#000" font-weight="normal" text-anchor="start" fill-opacity="0.6">DTM: NE @ 12 kts</text>
<text x="1413.7" y="311.8" font-size="20.8" fill="#000" font-weight="normal" text-anchor="start" fill-opacity="0.6">US: UND @ 11 kts</text>
<text x="1413.7" y="351.3" font-size="20.8" fill="#000" font-weight="normal" text-anchor="start" fill-opacity="0.6">DS: UND @ 15 kts</text>
</g>
<rect x="1392.8" y="98.4" width="1022.8" height="1104.9" fill="none" stroke="#000" stroke-width="1.3"/>
<defs><clipPath id="cm"><rect x="1392.3" y="943.2" width="260.2" height="260.2"/></clipPath></defs>
<rect x="1392.3" y="943.2" width="260.2" height="260.2" fill="#fff"/>
<path d="M1407.9 944 L1411 946.7 L1413.2 952.5 L1419.5 954.3 L1424.4 957.9 L1424.4 962.3 L1428.4 964.1 L1434.2 962.8 L1436 959.2 L1440.4 956.1 L1441.3 952.5 L1440 949.8 L1442.7 945.4 L1446.2 944.9 L1448.9 948.9 L1453.4 945.8 L1460.5 950.7 L1463.2 946.7 L1467.7 945.8 L1469.9 948 L1476.2 946.2 L1476.6 944 M1476.2 946.2 L1473.9 951.6 L1476.2 956.5 L1475.7 964.1 L1471.7 965.4 L1469 970.4 L1467.2 974.4 L1469 977.9 L1465.9 982.9 L1467.2 985.5 L1472.6 986.9 L1476.6 988.7 L1480.2 987.8 L1484.6 990.4 L1489.1 992.2 L1492.7 996.2 L1492.7 1000.7 L1495.8 1001.6 L1501.2 1006.1 L1501.2 1009.2 L1505.2 1012.8 L1511 1016.8 L1513.7 1013.2 L1517.2 1011.9 L1521.2 1014.1 L1524.8 1010.5 L1530 1009.2 M1423.9 944.9 L1423 948.5 L1429.3 950.7 L1430.6 949.4 L1427.5 948 L1428.4 946.2 L1432.9 945.4 L1435.5 944.5 M1392.7 963.2 L1396.2 963.2 L1399.4 961 L1404.3 962.3 L1409.2 961.9 L1410.1 967.7 L1412.3 973 L1413.7 977.5 L1412.8 981.1 L1416.3 983.8 L1415.9 987.3 L1418.6 990 L1424.4 988.7 L1422.1 991.8 L1418.6 993.6 L1420.4 998 L1423.9 1001.6 L1428.8 1006.1 L1429.3 1001.6 L1431.5 998 L1433.8 1000.3 L1437.3 1002.5 L1439.1 1004.7 L1439.1 1010.5 L1443.6 1011 L1446.2 1013.2 L1452.5 1010.5 L1457.9 1007.9 L1459.6 1005.2 L1465.9 1005.2 L1470.4 1007 L1474.8 1008.3 L1477.9 1010.5 L1478.4 1013.7 L1481.1 1008.8 L1482 1004.3 L1483.8 999.8 L1486 996.7 L1489.1 995.8 L1492.7 997.1 M1428.8 1006.1 L1426.6 1011.4 L1424.8 1017.7 L1421.7 1018.6 L1418.6 1016.8 L1415.4 1016.3 L1411.4 1016.8 L1407.4 1014.1 L1404.3 1010.5 L1401.6 1009.6 L1397.6 1012.3 L1392.7 1010.5 M1457.9 1007.9 L1458.3 1014.1 L1460.5 1010.5 L1462.8 1012.8 L1461 1018.6 L1460.5 1026.6 L1463.2 1026.6 L1461 1029.3 L1462.3 1034.6 L1461.4 1037.8 L1463.2 1040 L1461.4 1043.6 L1465 1044 L1469.5 1041.3 L1472.1 1044.5 L1474.4 1048 L1477.1 1049.8 L1479.3 1054.7 L1483.8 1053.8 L1488.2 1053.4 L1492.7 1055.2 L1498 1052.1 L1498.9 1048.5 L1496.7 1044.9 L1495.8 1042.7 L1502.5 1037.3 L1507 1037.3 L1510.5 1039.1 L1515.9 1039.1 L1518.6 1042.2 L1523.9 1039.6 L1530 1038.7 M1460.5 1026.6 L1457.9 1030.2 L1455.6 1033.8 L1451.6 1036.4 L1446.2 1038.7 L1447.1 1041.8 L1443.6 1047.1 L1440.4 1049.8 L1440.9 1056.1 L1441.8 1060.5 L1440.4 1063.2 L1443.6 1065.9 L1444.9 1070.4 L1445.4 1075 M1392.7 1035.1 L1398.5 1035.1 L1402.1 1037.3 L1406.1 1038.7 L1411 1038.2 L1415 1041.8 L1413.7 1047.1 L1411.9 1052.5 L1408.3 1057 L1405.2 1061.4 L1402.1 1063.7 L1406.1 1065.9 L1411 1069 L1409.2 1075 M1482 1055.2 L1480.2 1061.4 L1482 1066.8 L1482.4 1075 M1517.2 1011.9 L1521.2 1015.9 L1524.8 1021.2 L1526.6 1026.6 L1529.3 1032 L1530 1034.6 M1497.1 944 L1499.8 947.6 L1504.3 946.7 L1508.8 947.1 L1511.4 951.6 L1515 952.5 L1518.6 955.2 L1519.5 959.6 L1516.3 961.9 L1518.1 965.9 L1515 971.7 L1516.8 975.3 L1518.6 978.4 L1523.9 977.9 L1525.7 976.6 L1530 976.6 M1513.2 944 L1514.1 948 L1515 952.5 M1518.6 944.5 L1521.2 946.7 L1523.9 945.4 M1530 1056.1 L1524.8 1058.8 L1521.2 1061.9 L1523 1065 L1521.2 1068.6 L1515.9 1069.5 L1515 1075 M1392.7 965.9 L1394.9 969 L1393.1 972.1 M1392.7 998.9 L1395.4 1001.6 L1392.7 1003.4 M1531.2 944 L1532.5 947.1 L1537.9 949.8 L1541.9 957 L1545.9 961 L1553.9 965 L1560.2 968.1 L1563.8 973 L1566.4 974.8 L1568.2 979.3 L1568.2 988.2 L1566.4 993.6 L1563.8 998.9 L1562.4 1003.4 L1563.3 1008.8 L1564.2 1015 L1565.5 1019.5 L1565.1 1023 L1563.8 1027.5 L1562.9 1032 L1564.6 1034.6 L1570 1037.8 L1572.7 1040.9 L1573.6 1044.5 L1578.9 1048.5 L1581.6 1050.3 L1581.6 1055.2 L1582.5 1058.8 L1586.1 1061.4 L1594.1 1064.6 L1600.4 1065.4 L1607.5 1067.2 L1612.9 1067.7 L1618.2 1069.9 L1625.4 1072.1 L1631.6 1073.9 L1636.1 1075 M1565.1 1002.5 L1567.8 999.8 L1569.6 997.1 L1573.6 998 L1576.7 996.2 L1581.6 996.7 L1585.2 998 L1590.5 994.9 L1594.1 998.9 L1599.5 999.4 L1603.9 996.2 L1612 996.2 L1617.3 998.9 L1621.3 1000.7 L1622.7 994.9 L1626.7 994.9 L1632.5 997.6 L1638.8 999.4 L1645 999.8 L1652.6 998.9 M1565.1 1002.5 L1566.4 1006.1 L1570 1008.8 L1570.9 1006.1 L1569.6 1001.6 M1618.2 944 L1619.1 947.6 L1622.7 951.2 L1625.8 956.1 L1627.1 959.2 L1632.5 961.9 L1636.1 965.4 L1639.6 969.9 L1645 975.7 L1648.6 979.3 L1652.6 982.4 M1520 978.4 L1525.4 976.2 L1531.6 975.7 L1537 974.8 L1541.9 975.3 L1542.8 981.1 L1544.1 986.9 L1541.9 990 L1541 994.5 L1538.3 997.1 L1541 1000.7 L1537.9 1002.9 L1535.2 1004.3 L1533.4 1007 L1530.7 1008.8 M1520 1014.1 L1522.7 1009.6 L1526.7 1010.1 L1530.7 1009.2 L1533.4 1012.3 L1537.9 1011.4 L1541.4 1012.3 L1546.8 1012.8 L1549.5 1015.4 L1553 1013.7 L1557.5 1014.1 L1559.3 1015.9 L1558.8 1017.7 L1562.9 1019.5 M1520 1014.1 L1523.6 1019.5 L1526.7 1024.8 L1526.7 1027.9 L1529.8 1032.9 L1530.3 1039.1 M1520 1042.2 L1525.4 1039.1 L1530.3 1039.1 L1534.3 1036.9 L1535.2 1040.9 L1536.1 1046.2 L1539.6 1044.9 L1546.8 1045.4 L1551.2 1048 L1553 1051.6 L1556.2 1054.3 L1559.3 1052.1 L1562.9 1053.8 L1568.2 1054.7 L1571.8 1055.2 L1576.2 1051.2 L1578.9 1048.5 M1536.1 1046.2 L1535.6 1051.6 L1532.9 1052.1 L1530.7 1056.1 L1527.1 1057.9 L1523.6 1060.5 L1520 1062.3 M1568.2 1056.1 L1564.6 1057.9 L1557.5 1059.2 L1553 1061 L1550.4 1065 L1548.6 1068.6 L1545.9 1072.1 L1544.1 1075 M1586.1 1061.4 L1584.3 1065 L1581.6 1067.7 L1581.6 1071.2 L1583.4 1075 M1607.5 1067.2 L1603.9 1069.5 L1603 1072.1 L1603.9 1075 M1636.1 1075 L1639.6 1073 L1643.2 1069.9 L1648.6 1070.4 L1652.6 1069 M1520 945.4 L1522.7 946.2 L1524 944.5 M1520 956.1 L1520.4 960.5 M1520 1063.2 L1522.7 1065 L1522.2 1069.5 L1520 1070.4 M1652.6 1057 L1652 1060.5 L1652.6 1065 M1409.2 1070 L1408.3 1074.5 L1406.1 1078.9 L1401.6 1082.9 L1398 1084.3 L1395.4 1085.6 L1394.5 1089.2 L1392.7 1091.4 M1406.1 1078.9 L1408.8 1084.3 L1412.3 1087.4 L1416.8 1086.1 L1423 1087 L1430.6 1086.5 L1432 1089.2 L1435.5 1091 L1438.7 1092.8 L1442.7 1090.5 L1442.7 1084.7 L1445.4 1082.1 M1443.6 1070 L1444 1073.6 L1446.2 1078 L1445.8 1082.1 L1448.9 1084.3 L1451.2 1087 L1448 1089.6 L1452.5 1093.2 L1455.6 1097.7 L1455.6 1100.8 L1463.2 1103 L1468.6 1105.3 L1473 1106.6 L1477.5 1104.4 L1478.8 1099.5 L1474.8 1098.1 L1470.8 1096.3 L1469 1093.7 L1470.8 1090.5 L1472.6 1087.4 L1475.7 1086.5 L1478.8 1086.5 L1480.2 1080.7 L1481.5 1075.4 L1482.9 1072.7 L1482 1070 M1435.5 1091 L1436.4 1096.8 L1439.1 1099.5 L1444.5 1099 L1448 1101.7 L1451.6 1103.9 L1449.4 1105.7 L1447.1 1108.4 L1450.7 1109.3 L1448.5 1112.4 L1448.9 1118.2 L1449.4 1120.9 L1445.4 1121.3 L1440.9 1122.7 L1437.8 1125.4 L1435.1 1128.5 L1434.2 1132.5 L1430.6 1135.6 L1425.7 1136.5 L1421.2 1135.6 L1418.6 1134.7 L1420.8 1137.9 L1421.2 1141.4 L1423 1144.1 L1420.4 1145.9 L1416.8 1145.4 L1413.2 1142.3 L1414.1 1145.9 L1416.3 1149.5 L1416.8 1153 L1418.6 1156.2 L1416.3 1161.1 L1417.2 1164.6 L1420.4 1167.3 L1422.6 1170 L1422.6 1174.5 L1424.4 1179.8 L1423.5 1183.4 L1422.6 1187.9 M1477.5 1104.4 L1483.8 1104.4 L1488.2 1102.1 L1493.6 1103.5 L1500.7 1104.4 L1505.2 1102.6 L1507.9 1102.1 L1510.5 1104.4 L1515 1105.7 L1519.5 1099.5 L1524.8 1095.9 L1530 1093.7 M1456.1 1103.9 L1460.5 1107.5 L1465.9 1112 L1468.6 1112.4 L1473 1110.2 L1477.5 1111.5 L1479.3 1111.5 L1482.4 1113.8 L1481.1 1117.3 L1479.3 1120.9 L1479.3 1127.1 L1480.6 1131.2 L1478.8 1133.4 L1478.8 1137.9 L1475.7 1141.9 L1470.4 1145.9 L1468.6 1148.6 L1467.7 1153.9 L1465.4 1159.3 L1465 1163.8 L1466.8 1168.7 L1465.9 1175.4 M1515 1105.7 L1513.7 1115.5 L1513.2 1121.8 L1515 1125.4 L1516.3 1129.8 L1513.7 1134.3 L1510.5 1138.8 L1509.6 1142.3 L1512.8 1143.7 L1515.4 1145.9 L1515.4 1150.4 L1518.6 1153.9 L1519.5 1156.6 L1517.7 1162.9 L1519 1168.2 L1518.1 1173.6 L1518.6 1177.1 L1520.4 1180.7 L1515 1183.4 L1503.4 1188.8 L1494.5 1197.7 L1488.2 1200.4 L1484.6 1203 M1392.7 1187.9 L1394.9 1189.2 L1397.6 1185.6 L1400.7 1188.8 L1404.3 1189.2 L1408.3 1187.4 L1412.3 1187.9 L1416.3 1188.8 L1418.6 1191.9 L1421.2 1190.5 L1423 1187.9 L1427.5 1189.2 L1432.9 1188.3 L1437.3 1186.5 L1443.6 1187.9 L1445.4 1184.7 L1450.7 1182.5 L1456.1 1178 L1459.6 1176.7 L1465.9 1175.8 L1473 1174.9 L1477.5 1172.7 L1481.1 1172.2 L1485.5 1170 L1488.7 1171.3 L1491.8 1168.7 L1494 1172.7 L1502.5 1174.5 L1507.9 1175.8 L1512.3 1174 L1518.1 1175.8 L1523.9 1174 L1526.6 1171.8 L1530 1172.7 M1443.6 1187.9 L1444.5 1190.5 L1441.8 1195 L1440.9 1197.7 L1436.4 1200.8 L1433.8 1203.5 M1450.7 1182.5 L1456.1 1185.2 L1457.9 1189.2 L1462.3 1190.1 L1461.9 1194.1 L1466.8 1197.7 L1470.8 1194.1 L1472.6 1197.7 L1476.6 1200.8 L1478.4 1203.5 M1515.9 1070 L1515.4 1075.4 L1518.6 1078 L1515 1080.3 L1521.2 1079.4 L1523.9 1081.6 L1523.9 1086.1 L1526.6 1088.8 L1528.8 1093.2 M1524.8 1095.9 L1526.6 1099.5 L1530 1103 M1547.7 1070 L1545 1073.6 L1544.1 1078.9 L1542.3 1085.2 L1543.7 1090.5 L1546.8 1094.1 L1550.4 1095.4 L1555.3 1096.3 L1557.5 1094.1 L1556.2 1091.9 L1558.4 1091 L1562.9 1095.4 L1566 1095.9 L1567.8 1099.9 L1570.9 1099.9 L1573.6 1102.6 L1576.2 1099.5 L1576.7 1095.9 L1575.4 1094.1 L1577.1 1087.9 L1579.4 1083.4 L1581.6 1079.8 L1581.2 1076.7 L1583.8 1074 L1582.5 1071.3 L1581.6 1070 M1546.8 1094.1 L1549.5 1096.8 L1545.9 1098.6 L1541 1098.6 L1540.5 1103 L1539.2 1105.7 L1543.2 1107.5 L1543.7 1111.1 L1542.8 1113.8 M1520 1096.3 L1523.6 1095.9 L1525.4 1099.5 L1528.9 1103.9 L1531.6 1107.9 L1535.2 1110.2 L1538.8 1112 L1541.4 1114.2 L1545.9 1116 L1551.2 1116.9 L1555.7 1116.4 L1559.3 1116.4 L1561.1 1119.1 L1563.3 1122.2 L1562 1124.5 L1559.3 1125.4 L1559.7 1130.7 L1559.3 1134.3 L1561.1 1137.4 L1565.5 1138.3 L1568.7 1140.5 L1569.1 1142.8 L1567.3 1144.6 L1569.6 1149.5 L1571.8 1151.7 L1574 1153 L1574.9 1155.7 L1570.9 1154.8 L1569.6 1157.9 L1568.7 1162 L1571.3 1165.1 L1571.3 1168.2 L1574.5 1170.9 L1578 1172.2 L1578.5 1178 L1580.7 1182.1 L1582.9 1183.8 L1586.5 1182.9 L1588.8 1178.9 L1590.5 1175.8 L1595.9 1174.5 L1598.6 1171.8 L1601.2 1172.2 L1604.4 1170 L1607.1 1170 L1608.4 1166.9 L1612 1163.3 L1613.3 1159.3 L1612.4 1154.8 L1612.4 1150.4 L1611.5 1146.8 L1613.3 1143.2 L1615.5 1140.5 L1615.1 1137 L1618.2 1133.8 L1615.5 1132.9 L1613.8 1129.4 L1609.3 1127.1 L1608.4 1124.5 L1610.2 1120.4 L1613.3 1117.8 L1616.9 1115.1 L1616.9 1112 L1612.9 1111.5 L1611.1 1109.7 L1612.4 1107.5 L1615.5 1106.6 L1619.1 1104.8 L1621.8 1103 L1625.4 1104.4 L1628.5 1103 L1631.6 1104.8 L1637.9 1103.9 L1643.2 1103 L1648.6 1102.6 L1651.2 1103.9 L1649.5 1108.8 L1652.6 1112.4 M1619.1 1104.8 L1619.6 1100.4 L1621.3 1095 L1622.2 1091.4 L1620.9 1087.9 L1617.3 1085.2 L1612.9 1083.4 L1608.4 1083.8 L1605.7 1080.7 L1603.5 1075.4 L1603 1071.8 L1604.8 1070 M1614.6 1070 L1620 1071.3 L1625.4 1073.6 L1631.6 1075.8 L1637.9 1075.4 L1643.2 1071.3 L1647.7 1071.3 L1652.6 1070.4 M1520 1077.6 L1522.7 1079.8 L1523.6 1086.1 L1526.2 1087.9 L1528.9 1093.7 L1525.4 1095 L1520 1097.7 M1520 1173.6 L1523.6 1174 L1526.7 1171.3 L1528.9 1173.1 L1531.6 1171.8 L1536.1 1173.6 L1544.1 1174.9 L1546.8 1173.6 L1550.4 1174.5 L1553 1170.9 L1555.7 1170 L1558.4 1170.9 L1559.7 1169.1 L1562 1171.3 L1565.5 1169.1 L1568.7 1171.3 L1573.6 1172.7 L1578 1172.2 M1544.1 1174.9 L1544.6 1178.5 L1543.2 1181.6 L1547.7 1185.6 L1545 1187.9 L1544.1 1192.3 L1541.9 1197.7 L1540.5 1203.5 M1590.5 1175.8 L1592.3 1179.4 L1596.8 1185.6 L1599.9 1187.9 L1602.1 1191 L1606.6 1191.4 L1610.2 1189.6 L1614.6 1187 L1619.1 1189.6 L1620.4 1191.4 L1626.2 1191 L1629.4 1192.8 L1630.7 1195.9 L1635.2 1199.5 L1639.6 1202.1 L1645 1202.1 L1649.5 1203.5 M1652.6 1173.6 L1649 1174 L1647.7 1175.4 L1643.2 1174 L1642.8 1176.7 L1645.4 1178.5 L1645.4 1182.5 L1649.5 1185.2 L1651.2 1189.6 L1652.6 1192.3 M1652.6 1195.9 L1650.4 1198.6 L1650.8 1203.5 M1520 1178.9 L1521.3 1180.7 L1520 1182.1" fill="none" stroke="#111" stroke-width="2.5" stroke-linejoin="round" stroke-linecap="round" clip-path="url(#cm)"/>
<circle cx="1522" cy="1112" r="7.6" fill="none" stroke="#000" stroke-width="1.6"/>
<line x1="1510" y1="1112" x2="1534.7" y2="1112" stroke="#000" stroke-width="4"/>
<line x1="1522" y1="1100" x2="1522" y2="1124.5" stroke="#000" stroke-width="2.2"/>
<rect x="1392.3" y="943.2" width="260.2" height="260.2" fill="none" stroke="#000" stroke-width="1.3"/>
<rect x="2195.6" y="1021.5" width="220" height="181.8" fill="#fff" stroke="#000" stroke-width="1.3"/>
<text x="2213" y="1048.6" font-size="18.1" fill="#111" font-weight="bold" text-anchor="start" >0-3ₖₘ SRH,</text>
<text x="2364.4" y="1048.6" font-size="18.1" fill="#111" font-weight="bold" text-anchor="middle" >BWD</text>
<text x="2219.3" y="1079.8" font-size="18.1" fill="#4169e1" font-weight="bold" text-anchor="start" fill-opacity="0.95">44 m²/s²</text>
<text x="2364.4" y="1079.8" font-size="18.1" fill="#4169e1" font-weight="bold" text-anchor="middle" fill-opacity="0.95">8 kt</text>
<text x="2213" y="1109" font-size="18.1" fill="#111" font-weight="bold" text-anchor="start" >0-6ₖₘ SRH,</text>
<text x="2364.4" y="1109" font-size="18.1" fill="#111" font-weight="bold" text-anchor="middle" >BWD</text>
<text x="2219.3" y="1136.8" font-size="18.1" fill="#4169e1" font-weight="bold" text-anchor="start" fill-opacity="0.95">93 m²/s²</text>
<text x="2364.4" y="1136.8" font-size="18.1" fill="#4169e1" font-weight="bold" text-anchor="middle" fill-opacity="0.95">21 kt</text>
<text x="2206.7" y="1167.6" font-size="18.1" fill="#111" font-weight="bold" text-anchor="start" >SCP</text>
<text x="2261.4" y="1167.6" font-size="18.1" fill="#111" font-weight="bold" text-anchor="start" >STP</text>
<text x="2319.7" y="1165.3" font-size="18.1" fill="#111" font-weight="bold" text-anchor="start" >EHI</text>
<text x="2374.9" y="1165.3" font-size="18.1" fill="#111" font-weight="bold" text-anchor="start" >EHI</text>
<text x="2335.6" y="1176.8" font-size="15.5" fill="#111" font-weight="bold" text-anchor="middle" >₀₋₁ₖₘ</text>
<text x="2390.8" y="1176.8" font-size="15.5" fill="#111" font-weight="bold" text-anchor="middle" >₀₋₃ₖₘ</text>
<text x="2226.1" y="1193.6" font-size="18.1" fill="#b22222" font-weight="bold" text-anchor="middle" fill-opacity="0.9">0</text>
<text x="2281" y="1193.6" font-size="18.1" fill="#b22222" font-weight="bold" text-anchor="middle" fill-opacity="0.9">0</text>
<text x="2336.2" y="1193.6" font-size="18.1" fill="#ff4500" font-weight="bold" text-anchor="middle" fill-opacity="0.9">0</text>
<text x="2391.1" y="1193.6" font-size="18.1" fill="#ff4500" font-weight="bold" text-anchor="middle" fill-opacity="0.9">0</text>
<rect x="34.4" y="1203.3" width="893.1" height="233.7" fill="#fff" stroke="#000" stroke-width="1.3"/>
<rect x="927.5" y="1203.3" width="330" height="298.9" fill="#fff" stroke="#000" stroke-width="1.3"/>
<rect x="1257.5" y="1203.3" width="583.1" height="298.9" fill="#fff" stroke="#000" stroke-width="1.3"/>
<text x="135.9" y="1242.9" font-size="20.7" fill="#000" font-weight="bold" text-anchor="start" >SR-ECAPE</text>
<text x="300.8" y="1242.9" font-size="20.7" fill="#000" font-weight="bold" text-anchor="start" >CAPE</text>
<text x="427.4" y="1242.9" font-size="20.7" fill="#000" font-weight="bold" text-anchor="start" >6CAPE</text>
<text x="568.2" y="1242.9" font-size="20.7" fill="#000" font-weight="bold" text-anchor="start" >3CAPE</text>
<text x="715.7" y="1242.9" font-size="20.7" fill="#000" font-weight="bold" text-anchor="start" >CIN</text>
<text x="843.5" y="1242.9" font-size="20.7" fill="#000" font-weight="bold" text-anchor="start" >LCL</text>
<text x="48.6" y="1281.9" font-size="20.7" fill="#000" font-weight="bold" text-anchor="start" >SB:</text>
<text x="135.5" y="1281.9" font-size="20.7" fill="#a52a2a" font-weight="bold" text-anchor="start" >653 J/kg</text>
<text x="278.6" y="1281.9" font-size="20.7" fill="#ff4500" font-weight="bold" text-anchor="start" >970 J/kg</text>
<text x="421.8" y="1281.9" font-size="20.7" fill="#ff4500" font-weight="bold" text-anchor="start" >263 J/kg</text>
<text x="562.6" y="1281.9" font-size="20.7" fill="#ff4500" font-weight="bold" text-anchor="start" >37 J/kg</text>
<text x="696.4" y="1281.9" font-size="20.7" fill="#ff4500" font-weight="bold" text-anchor="start" >-38 J/kg</text>
<text x="829" y="1281.9" font-size="20.7" fill="#ff4500" font-weight="bold" text-anchor="start" >339 m</text>
<text x="48.6" y="1320.9" font-size="20.7" fill="#000" font-weight="bold" text-anchor="start" >MU:</text>
<text x="135.5" y="1320.9" font-size="20.7" fill="#a52a2a" font-weight="bold" text-anchor="start" >716 J/kg</text>
<text x="278.6" y="1320.9" font-size="20.7" fill="#ff4500" font-weight="bold" text-anchor="start" >1092 J/kg</text>
<text x="421.8" y="1320.9" font-size="20.7" fill="#ff4500" font-weight="bold" text-anchor="start" >291 J/kg</text>
<text x="562.6" y="1320.9" font-size="20.7" fill="#ff4500" font-weight="bold" text-anchor="start" >46 J/kg</text>
<text x="696.4" y="1320.9" font-size="20.7" fill="#ff4500" font-weight="bold" text-anchor="start" >-29 J/kg</text>
<text x="829" y="1320.9" font-size="20.7" fill="#ff4500" font-weight="bold" text-anchor="start" >391 m</text>
<text x="48.6" y="1359.9" font-size="20.7" fill="#000" font-weight="bold" text-anchor="start" >ML:</text>
<text x="135.5" y="1359.9" font-size="20.7" fill="#a52a2a" font-weight="bold" text-anchor="start" >375 J/kg</text>
<text x="278.6" y="1359.9" font-size="20.7" fill="#ff4500" font-weight="bold" text-anchor="start" >524 J/kg</text>
<text x="421.8" y="1359.9" font-size="20.7" fill="#ff4500" font-weight="bold" text-anchor="start" >154 J/kg</text>
<text x="562.6" y="1359.9" font-size="20.7" fill="#ff4500" font-weight="bold" text-anchor="start" >7 J/kg</text>
<text x="696.4" y="1359.9" font-size="20.7" fill="#ff4500" font-weight="bold" text-anchor="start" >-34 J/kg</text>
<text x="829" y="1359.9" font-size="20.7" fill="#ff4500" font-weight="bold" text-anchor="start" >756 m</text>
<text x="48.6" y="1393.3" font-size="20.7" fill="#000" font-weight="bold" text-anchor="start" >DCAPE:</text>
<text x="146.4" y="1393.3" font-size="20.7" fill="#6495ed" font-weight="bold" text-anchor="start" fill-opacity="0.72">341 J/kg</text>
<text x="48.6" y="1419" font-size="20.7" fill="#000" font-weight="bold" text-anchor="start" >DCIN:</text>
<text x="146.4" y="1419" font-size="20.7" fill="#6495ed" font-weight="bold" text-anchor="start" fill-opacity="0.72">0 J/kg</text>
<text x="290.8" y="1412.3" font-size="20.7" fill="#000" font-weight="bold" text-anchor="start" >MUNCAPE:</text>
<text x="417.8" y="1412.3" font-size="20.7" fill="#a52a2a" font-weight="bold" text-anchor="start" fill-opacity="0.68">0.1</text>
<text x="499.1" y="1412.3" font-size="20.7" fill="#000" font-weight="bold" text-anchor="start" >Γ₀₋₃:</text>
<text x="564.8" y="1412.3" font-size="20.7" fill="#8b4513" font-weight="bold" text-anchor="start" >5 Δ°C/km</text>
<text x="696.8" y="1412.3" font-size="20.7" fill="#000" font-weight="bold" text-anchor="start" >Γ₃₋₆:</text>
<text x="769.9" y="1412.3" font-size="20.7" fill="#8b4513" font-weight="bold" text-anchor="start" >5 Δ°C/km</text>
<text x="1044.3" y="1242.9" font-size="20.7" fill="#000" font-weight="bold" text-anchor="start" >RH(%)</text>
<text x="1168" y="1242.9" font-size="20.7" fill="#000" font-weight="bold" text-anchor="start" >ω</text>
<text x="950.1" y="1281.9" font-size="20.7" fill="#000" font-weight="bold" text-anchor="start" >0-.5ₖₘ:</text>
<line x1="952.3" y1="1260.1" x2="983.5" y2="1260.1" stroke="#000" stroke-width="1.5"/>
<text x="1048.6" y="1281.9" font-size="20.7" fill="#228b22" font-weight="bold" text-anchor="start" fill-opacity="1.0">78 %</text>
<text x="1126.1" y="1281.9" font-size="20.7" fill="#228b22" font-weight="bold" text-anchor="start" fill-opacity="1.0">16.6 g/kg</text>
<text x="950.1" y="1320.9" font-size="20.7" fill="#000" font-weight="bold" text-anchor="start" >0-1ₖₘ:</text>
<line x1="952.3" y1="1299.1" x2="983.5" y2="1299.1" stroke="#000" stroke-width="1.5"/>
<text x="1048.6" y="1320.9" font-size="20.7" fill="#228b22" font-weight="bold" text-anchor="start" fill-opacity="0.95">83 %</text>
<text x="1126.1" y="1320.9" font-size="20.7" fill="#228b22" font-weight="bold" text-anchor="start" fill-opacity="0.95">16.2 g/kg</text>
<text x="950.1" y="1359.9" font-size="20.7" fill="#000" font-weight="bold" text-anchor="start" >1-3ₖₘ:</text>
<line x1="952.3" y1="1338.1" x2="983.5" y2="1338.1" stroke="#000" stroke-width="1.5"/>
<text x="1048.6" y="1359.9" font-size="20.7" fill="#228b22" font-weight="bold" text-anchor="start" fill-opacity="0.8">85 %</text>
<text x="1126.1" y="1359.9" font-size="20.7" fill="#228b22" font-weight="bold" text-anchor="start" fill-opacity="0.8">11.9 g/kg</text>
<text x="950.1" y="1398.9" font-size="20.7" fill="#000" font-weight="bold" text-anchor="start" >3-6ₖₘ:</text>
<line x1="952.3" y1="1377.1" x2="983.5" y2="1377.1" stroke="#000" stroke-width="1.5"/>
<text x="1048.6" y="1398.9" font-size="20.7" fill="#228b22" font-weight="bold" text-anchor="start" fill-opacity="0.7">76 %</text>
<text x="1126.1" y="1398.9" font-size="20.7" fill="#228b22" font-weight="bold" text-anchor="start" fill-opacity="0.7">6.3 g/kg</text>
<text x="950.1" y="1437.9" font-size="20.7" fill="#000" font-weight="bold" text-anchor="start" >6-9ₖₘ:</text>
<line x1="952.3" y1="1416.1" x2="983.5" y2="1416.1" stroke="#000" stroke-width="1.5"/>
<text x="1048.6" y="1437.9" font-size="20.7" fill="#228b22" font-weight="bold" text-anchor="start" fill-opacity="0.65">36 %</text>
<text x="1126.1" y="1437.9" font-size="20.7" fill="#228b22" font-weight="bold" text-anchor="start" fill-opacity="0.65">1.2 g/kg</text>
<text x="950.5" y="1466.9" font-size="16.3" fill="#000" font-weight="bold" text-anchor="start" >PWAT:</text>
<text x="1022.5" y="1466.9" font-size="16.5" fill="#006400" font-weight="bold" text-anchor="start" >2.118 in</text>
<text x="1119" y="1466.9" font-size="16.3" fill="#000" font-weight="bold" text-anchor="start" >WB:</text>
<text x="1178.5" y="1466.9" font-size="16.5" fill="#006400" font-weight="bold" text-anchor="start" >22 °C</text>
<text x="950.5" y="1492.5" font-size="16.3" fill="#000" font-weight="bold" text-anchor="start" >FRZ:</text>
<text x="1028.5" y="1492.5" font-size="16.5" fill="#6495ed" font-weight="bold" text-anchor="start" >4900m</text>
<text x="1112.8" y="1492.5" font-size="16.3" fill="#000" font-weight="bold" text-anchor="start" >WB0:</text>
<text x="1174.5" y="1492.5" font-size="16.5" fill="#6495ed" font-weight="bold" text-anchor="start" >4500m</text>
<text x="1378.8" y="1242.9" font-size="20.7" fill="#000" font-weight="bold" text-anchor="start" fill-opacity="0.8">BWD</text>
<text x="1484" y="1242.9" font-size="20.7" fill="#000" font-weight="bold" text-anchor="start" fill-opacity="0.8">SRH</text>
<text x="1583.1" y="1242.9" font-size="20.7" fill="#000" font-weight="bold" text-anchor="start" fill-opacity="0.8">SRW</text>
<text x="1659.1" y="1242.9" font-size="20.7" fill="#000" font-weight="bold" text-anchor="start" fill-opacity="0.8">SWζ%</text>
<text x="1758.9" y="1242.9" font-size="20.7" fill="#000" font-weight="bold" text-anchor="start" fill-opacity="0.8">SWζ</text>
<text x="1277.7" y="1281.7" font-size="20.7" fill="#000" font-weight="bold" text-anchor="start" fill-opacity="0.9">0-.5ₖₘ:</text>
<text x="1373.1" y="1281.7" font-size="20.7" fill="#6495ed" font-weight="bold" text-anchor="start" >2 kt</text>
<text x="1453.6" y="1281.7" font-size="20.7" fill="#6495ed" font-weight="bold" text-anchor="start" >14 m²/s²</text>
<text x="1583.6" y="1281.7" font-size="20.7" fill="#6495ed" font-weight="bold" text-anchor="start" >18 kt</text>
<text x="1676.4" y="1281.7" font-size="20.7" fill="#6495ed" font-weight="bold" text-anchor="start" >82</text>
<text x="1752.7" y="1281.7" font-size="20.7" fill="#6495ed" font-weight="bold" text-anchor="start" >0.003</text>
<text x="1277.7" y="1320.5" font-size="20.7" fill="#000" font-weight="bold" text-anchor="start" fill-opacity="0.9">0-1ₖₘ:</text>
<text x="1373.1" y="1320.5" font-size="20.7" fill="#7b68ee" font-weight="bold" text-anchor="start" >9 kt</text>
<text x="1453.6" y="1320.5" font-size="20.7" fill="#7b68ee" font-weight="bold" text-anchor="start" >45 m²/s²</text>
<text x="1583.6" y="1320.5" font-size="20.7" fill="#7b68ee" font-weight="bold" text-anchor="start" >18 kt</text>
<text x="1676.4" y="1320.5" font-size="20.7" fill="#7b68ee" font-weight="bold" text-anchor="start" >87</text>
<text x="1752.7" y="1320.5" font-size="20.7" fill="#7b68ee" font-weight="bold" text-anchor="start" >0.005</text>
<text x="1277.7" y="1359.7" font-size="20.7" fill="#000" font-weight="bold" text-anchor="start" fill-opacity="0.9">1-3ₖₘ:</text>
<text x="1373.1" y="1359.7" font-size="20.7" fill="#4169e1" font-weight="bold" text-anchor="start" >6 kt</text>
<text x="1453.6" y="1359.7" font-size="20.7" fill="#4169e1" font-weight="bold" text-anchor="start" >-1 m²/s²</text>
<text x="1583.6" y="1359.7" font-size="20.7" fill="#4169e1" font-weight="bold" text-anchor="start" >14 kt</text>
<text x="1676.4" y="1359.7" font-size="20.7" fill="#4169e1" font-weight="bold" text-anchor="start" >73</text>
<text x="1752.7" y="1359.7" font-size="20.7" fill="#4169e1" font-weight="bold" text-anchor="start" >0.002</text>
<text x="1277.7" y="1398.6" font-size="20.7" fill="#000" font-weight="bold" text-anchor="start" fill-opacity="0.9">3-6ₖₘ:</text>
<text x="1373.1" y="1398.6" font-size="20.7" fill="#0000cd" font-weight="bold" text-anchor="start" >13 kt</text>
<text x="1453.6" y="1398.6" font-size="20.7" fill="#0000cd" font-weight="bold" text-anchor="start" >48 m²/s²</text>
<text x="1583.6" y="1398.6" font-size="20.7" fill="#0000cd" font-weight="bold" text-anchor="start" >14 kt</text>
<text x="1676.4" y="1398.6" font-size="20.7" fill="#0000cd" font-weight="bold" text-anchor="start" >49</text>
<text x="1752.7" y="1398.6" font-size="20.7" fill="#0000cd" font-weight="bold" text-anchor="start" >0.003</text>
<text x="1277.7" y="1437.7" font-size="20.7" fill="#000" font-weight="bold" text-anchor="start" fill-opacity="0.9">6-9ₖₘ:</text>
<text x="1373.1" y="1437.7" font-size="20.7" fill="#000080" font-weight="bold" text-anchor="start" >7 kt</text>
<text x="1453.6" y="1437.7" font-size="20.7" fill="#000080" font-weight="bold" text-anchor="start" >-8 m²/s²</text>
<text x="1583.6" y="1437.7" font-size="20.7" fill="#000080" font-weight="bold" text-anchor="start" >18 kt</text>
<text x="1676.4" y="1437.7" font-size="20.7" fill="#000080" font-weight="bold" text-anchor="start" >51</text>
<text x="1752.7" y="1437.7" font-size="20.7" fill="#000080" font-weight="bold" text-anchor="start" >0.003</text>
<text x="1277.7" y="1476.6" font-size="20.7" fill="#000" font-weight="bold" text-anchor="start" fill-opacity="0.9">EIL:</text>
<text x="1373.1" y="1476.6" font-size="20.7" fill="#000080" font-weight="bold" text-anchor="start" >12 kt</text>
<text x="1453.6" y="1476.6" font-size="20.7" fill="#000080" font-weight="bold" text-anchor="start" >60 m²/s²</text>
<text x="1583.6" y="1476.6" font-size="20.7" fill="#000080" font-weight="bold" text-anchor="start" >17 kt</text>
<text x="1676.4" y="1476.6" font-size="20.7" fill="#000080" font-weight="bold" text-anchor="start" >81</text>
<text x="1752.7" y="1476.6" font-size="20.7" fill="#000080" font-weight="bold" text-anchor="start" >0.004</text>
<defs><clipPath id="cp"><rect x="1840.6" y="1203.3" width="575" height="298.6"/></clipPath></defs>
<g clip-path="url(#cp)">
<rect x="1840.6" y="1203.3" width="575" height="298.6" fill="#fff"/>
<rect x="1840.6" y="1338.9" width="575" height="163" fill="#add8e6" fill-opacity="0.2"/>
<polygon points="1840.6,1203.3 1939,1203.5 1978.1,1213 1974.9,1226.7 1974.3,1243.2 1893.5,1253.2 1841.6,1262.7 1848,1273.3 1942.2,1292.8 1974.9,1303.3 1977.1,1312.4 1855.4,1322.6 1879.1,1332.5 1873.4,1352.6 1888.2,1363.2 1943.6,1372.7 1917.8,1381.2 1899.2,1392.9 1957,1403.4 1977.5,1411.9 1976.4,1421.4 1954.8,1441.5 1946.4,1452.7 1953.8,1463.7 1976.4,1472.2 1964.4,1482.4 1894.5,1492.3 1897.7,1501.8 1840.6,1501.9" fill="#6495ed" fill-opacity="0.2"/>
<polygon points="2127.6,1203.3 2134.7,1203.5 2135.5,1220.4 2134.7,1243.7 2137.2,1262.7 2142.5,1286 2143.6,1302.9 2143.6,1313.5 2146.7,1334.7 2152,1349.5 2157.3,1364.3 2158.8,1374.9 2157.3,1389.7 2154.1,1403.4 2153.5,1417.2 2156.3,1434.1 2160.5,1453.2 2162.6,1470.1 2161.6,1487 2159,1501.8 2127.6,1501.9" fill="#6495ed" fill-opacity="0.2"/>
<polygon points="1983.4,1203.3 1994,1203.5 1995.1,1214 1990.8,1247.9 1992.9,1264.8 1988.7,1300.8 1987,1319.8 1998.2,1341 2000.3,1352.6 1995.1,1366.4 1988.3,1374.9 1987.6,1383.3 1994,1400.3 2003.1,1422.5 2000.3,1438.3 1992.9,1461.6 1989.8,1487 1989.1,1501.8 1983.4,1501.9" fill="#808080" fill-opacity="0.18"/>
<polygon points="1983.4,1203.3 1992.9,1203.5 1994,1214 1988.7,1237.3 1987,1258.5 1988.7,1279.6 1985.5,1305 1985.5,1322 1992.9,1343.1 1992.9,1352.6 1991.9,1362.2 1987.6,1372.7 1986.6,1383.3 1992.9,1400.3 2002.5,1422.5 1999.3,1438.3 1991.9,1461.6 1988.3,1487 1987.6,1501.8 1983.4,1501.9" fill="#ffa500" fill-opacity="0.22"/>
<line x1="1840.6" y1="1453.6" x2="2415.6" y2="1453.6" stroke="#8c8c8c" stroke-width="1.2" stroke-opacity="0.85"/>
<line x1="1840.6" y1="1403.5" x2="2415.6" y2="1403.5" stroke="#8c8c8c" stroke-width="1.2" stroke-opacity="0.85"/>
<line x1="1840.6" y1="1353.4" x2="2415.6" y2="1353.4" stroke="#8c8c8c" stroke-width="1.2" stroke-opacity="0.85"/>
<line x1="1840.6" y1="1303.3" x2="2415.6" y2="1303.3" stroke="#8c8c8c" stroke-width="1.2" stroke-opacity="0.85"/>
<line x1="1840.6" y1="1253.2" x2="2415.6" y2="1253.2" stroke="#8c8c8c" stroke-width="1.2" stroke-opacity="0.85"/>
<polygon points="2343.1,1203.9 2321.9,1214 2326.6,1226.7 2343.1,1237.3" fill="#008080" fill-opacity="0.5"/>
<polygon points="2343.1,1238.4 2317.1,1252.1 2324.5,1270.1 2343.1,1281.8" fill="#008080" fill-opacity="0.5"/>
<polygon points="2343.1,1283.9 2318.1,1293.4 2322.4,1302.9 2310.7,1312.4 2343.1,1322.6" fill="#008080" fill-opacity="0.5"/>
<polygon points="2343.1,1323.7 2321.3,1333.6 2331.9,1343.1 2335.1,1355.8 2333,1374.9 2331.9,1391.8 2334,1403.4 2343.1,1411.9 2343.1,1414 2339.3,1427.8 2338.2,1448.9 2335.1,1461.6 2330.8,1476.4 2327.7,1482.8 2337.2,1491.2 2335.1,1501.8 2343.1,1501.8" fill="#008080" fill-opacity="0.5"/>
<polygon points="2343.1,1266.9 2344.6,1271.2 2344,1305 2343.1,1309.3" fill="#ff7f0e" fill-opacity="0.78"/>
<polygon points="2343.1,1334.7 2346.7,1343.1 2347.8,1355.8 2347.3,1374.9 2347.8,1391.8 2348.4,1403.4 2360.5,1411.9 2355.2,1425.6 2353.7,1434.1 2354.1,1442.6 2352,1459.5 2350.9,1470.1 2349.9,1481.7 2358.3,1487 2366.8,1494.4 2366.8,1501.8 2343.1,1501.8" fill="#ff7f0e" fill-opacity="0.78"/>
<line x1="2343.1" y1="1203.3" x2="2343.1" y2="1501.9" stroke="#1f77b4" stroke-width="1.5" stroke-dasharray="1.5 2.5"/>
<path d="M1994 1203.5 L1995.1 1214 L1990.8 1247.9 L1992.9 1264.8 L1988.7 1300.8 L1987 1319.8 L1998.2 1341 L2000.3 1352.6 L1995.1 1366.4 L1988.3 1374.9 L1987.6 1383.3 L1994 1400.3 L2003.1 1422.5 L2000.3 1438.3 L1992.9 1461.6 L1989.8 1487 L1989.1 1501.8" fill="none" stroke="#808080" stroke-width="4" stroke-opacity="0.75" stroke-linejoin="miter"/>
<path d="M1992.9 1203.5 L1994 1214 L1988.7 1237.3 L1987 1258.5 L1988.7 1279.6 L1985.5 1305 L1985.5 1322 L1992.9 1343.1 L1992.9 1352.6 L1991.9 1362.2 L1987.6 1372.7 L1986.6 1383.3 L1992.9 1400.3 L2002.5 1422.5 L1999.3 1438.3 L1991.9 1461.6 L1988.3 1487 L1987.6 1501.8" fill="none" stroke="#a86c10" stroke-width="3.4" stroke-opacity="0.85" stroke-linejoin="miter"/>
<path d="M1939 1203.5 L1978.1 1213 L1974.9 1226.7 L1974.3 1243.2 L1893.5 1253.2 L1841.6 1262.7 L1848 1273.3 L1942.2 1292.8 L1974.9 1303.3 L1977.1 1312.4 L1855.4 1322.6 L1879.1 1332.5 L1873.4 1352.6 L1888.2 1363.2 L1943.6 1372.7 L1917.8 1381.2 L1899.2 1392.9 L1957 1403.4" fill="none" stroke="#ff0000" stroke-width="4.2" stroke-opacity="1" stroke-linejoin="miter"/>
<path d="M1957 1403.4 L1977.5 1411.9 L1976.4 1421.4 L1954.8 1441.5 L1946.4 1452.7 L1953.8 1463.7 L1976.4 1472.2 L1964.4 1482.4 L1894.5 1492.3 L1897.7 1501.8" fill="none" stroke="#800080" stroke-width="4.2" stroke-opacity="1" stroke-linejoin="miter"/>
<path d="M2134.7 1203.5 L2135.5 1220.4 L2134.7 1243.7 L2137.2 1262.7 L2142.5 1286 L2143.6 1302.9 L2143.6 1313.5 L2146.7 1334.7 L2152 1349.5 L2157.3 1364.3 L2158.8 1374.9 L2157.3 1389.7 L2154.1 1403.4" fill="none" stroke="#ff0000" stroke-width="4.2" stroke-opacity="0.8" stroke-linejoin="miter"/>
<path d="M2154.1 1403.4 L2153.5 1417.2 L2156.3 1434.1 L2160.5 1453.2 L2162.6 1470.1 L2161.6 1487 L2159 1501.8" fill="none" stroke="#800080" stroke-width="4.2" stroke-opacity="0.8" stroke-linejoin="miter"/>
<text x="1849.5" y="1226.7" font-size="13.6" fill="#111" font-weight="bold" text-anchor="start" >Streamwiseness</text>
<text x="1914.6" y="1242.6" font-size="13.6" fill="#111" font-weight="bold" text-anchor="middle" >of ζ (%)</text>
<text x="1856.5" y="1303" font-size="13.4" fill="#000" font-weight="bold" text-anchor="start" >2 km</text>
<text x="1856.5" y="1353.1" font-size="13.4" fill="#000" font-weight="bold" text-anchor="start" >1.5 km</text>
<text x="1856.5" y="1403.2" font-size="13.4" fill="#000" font-weight="bold" text-anchor="start" >1 km</text>
<text x="1856.5" y="1453.3" font-size="13.4" fill="#000" font-weight="bold" text-anchor="start" >.5 km</text>
<text x="2055.3" y="1226.7" font-size="16.7" fill="#111" font-weight="bold" text-anchor="middle" >Total ζ &amp;</text>
<text x="2055.3" y="1247.5" font-size="16.7" fill="#111" font-weight="bold" text-anchor="middle" >Streamwise ζ</text>
<text x="2055.3" y="1268" font-size="16.7" fill="#111" font-weight="bold" text-anchor="middle" >(/sec)</text>
<text x="2199" y="1234.6" font-size="16.7" fill="#111" font-weight="bold" text-anchor="middle" >Storm Relative</text>
<text x="2199" y="1255.3" font-size="16.7" fill="#111" font-weight="bold" text-anchor="middle" >Wind (kts)</text>
<text x="2343.5" y="1226.7" font-size="16.7" fill="#111" font-weight="bold" text-anchor="middle" >Stepwise</text>
<text x="2343.5" y="1247.5" font-size="16.7" fill="#111" font-weight="bold" text-anchor="middle" >CIN &amp; CAPE</text>
<text x="2343.5" y="1268" font-size="16.7" fill="#111" font-weight="bold" text-anchor="middle" >(J/kg)</text>
<text x="2271.5" y="1380.8" font-size="12.6" fill="#000" font-weight="bold" text-anchor="end" >-LFC-</text>
<text x="2271.5" y="1469" font-size="12.6" fill="#000" font-weight="bold" text-anchor="end" >-LCL-</text>
<line x1="1863.2" y1="1497.4" x2="1863.2" y2="1501.9" stroke="#666" stroke-width="1.1"/>
<text x="1863.2" y="1496.5" font-size="11.8" fill="#000" font-weight="bold" text-anchor="middle" font-style="italic" fill-opacity="0.5">50</text>
<line x1="1910.4" y1="1497.4" x2="1910.4" y2="1501.9" stroke="#666" stroke-width="1.1"/>
<text x="1910.4" y="1496.5" font-size="11.8" fill="#000" font-weight="bold" text-anchor="middle" font-style="italic" fill-opacity="0.5">70</text>
<line x1="1956.5" y1="1497.4" x2="1956.5" y2="1501.9" stroke="#666" stroke-width="1.1"/>
<text x="1956.5" y="1496.5" font-size="11.8" fill="#000" font-weight="bold" text-anchor="middle" font-style="italic" fill-opacity="0.5">90</text>
<line x1="2008.4" y1="1497.4" x2="2008.4" y2="1501.9" stroke="#666" stroke-width="1.1"/>
<text x="2008.4" y="1496.5" font-size="11.8" fill="#000" font-weight="bold" text-anchor="middle" font-style="italic" fill-opacity="0.5">.01</text>
<line x1="2056" y1="1497.4" x2="2056" y2="1501.9" stroke="#666" stroke-width="1.1"/>
<text x="2056" y="1496.5" font-size="11.8" fill="#000" font-weight="bold" text-anchor="middle" font-style="italic" fill-opacity="0.5">.03</text>
<line x1="2104.5" y1="1497.4" x2="2104.5" y2="1501.9" stroke="#666" stroke-width="1.1"/>
<text x="2104.5" y="1496.5" font-size="11.8" fill="#000" font-weight="bold" text-anchor="middle" font-style="italic" fill-opacity="0.5">.05</text>
<line x1="2164.1" y1="1497.4" x2="2164.1" y2="1501.9" stroke="#666" stroke-width="1.1"/>
<text x="2164.1" y="1496.5" font-size="11.8" fill="#000" font-weight="bold" text-anchor="middle" font-style="italic" fill-opacity="0.5">20</text>
<line x1="2200.3" y1="1497.4" x2="2200.3" y2="1501.9" stroke="#666" stroke-width="1.1"/>
<text x="2200.3" y="1496.5" font-size="11.8" fill="#000" font-weight="bold" text-anchor="middle" font-style="italic" fill-opacity="0.5">30</text>
<line x1="2236.2" y1="1497.4" x2="2236.2" y2="1501.9" stroke="#666" stroke-width="1.1"/>
<text x="2236.2" y="1496.5" font-size="11.8" fill="#000" font-weight="bold" text-anchor="middle" font-style="italic" fill-opacity="0.5">40</text>
<line x1="2295.3" y1="1497.4" x2="2295.3" y2="1501.9" stroke="#666" stroke-width="1.1"/>
<text transform="translate(2293.8,1487.9) rotate(-45)" font-size="11.8" fill="#000" fill-opacity="0.5" font-weight="bold" font-style="italic" text-anchor="middle">-200</text>
<line x1="2319.2" y1="1497.4" x2="2319.2" y2="1501.9" stroke="#666" stroke-width="1.1"/>
<text transform="translate(2317.7,1487.9) rotate(-45)" font-size="11.8" fill="#000" fill-opacity="0.5" font-weight="bold" font-style="italic" text-anchor="middle">-100</text>
<line x1="2343.1" y1="1497.4" x2="2343.1" y2="1501.9" stroke="#666" stroke-width="1.1"/>
<text transform="translate(2341.6,1487.9) rotate(-45)" font-size="11.8" fill="#000" fill-opacity="0.5" font-weight="bold" font-style="italic" text-anchor="middle">0</text>
<line x1="2366.8" y1="1497.4" x2="2366.8" y2="1501.9" stroke="#666" stroke-width="1.1"/>
<text transform="translate(2365.3,1487.9) rotate(-45)" font-size="11.8" fill="#000" fill-opacity="0.5" font-weight="bold" font-style="italic" text-anchor="middle">1k</text>
<line x1="2391.1" y1="1497.4" x2="2391.1" y2="1501.9" stroke="#666" stroke-width="1.1"/>
<text transform="translate(2389.6,1487.9) rotate(-45)" font-size="11.8" fill="#000" fill-opacity="0.5" font-weight="bold" font-style="italic" text-anchor="middle">2k</text>
</g>
<rect x="1840.6" y="1203.3" width="142.8" height="298.6" fill="none" stroke="#000" stroke-width="1.3"/>
<rect x="1983.4" y="1203.3" width="144.2" height="298.6" fill="none" stroke="#000" stroke-width="1.3"/>
<rect x="2127.6" y="1203.3" width="145" height="298.6" fill="none" stroke="#000" stroke-width="1.3"/>
<rect x="2272.6" y="1203.3" width="143" height="298.6" fill="none" stroke="#000" stroke-width="1.3"/>
<circle cx="80.1" cy="1475.8" r="31.8" fill="#e4e9f6" stroke="#151a28" stroke-width="1.4"/>
<line x1="52.9" y1="1459.3" x2="107.3" y2="1459.3" stroke="#fff" stroke-opacity="0.55" stroke-width="0.8"/>
<line x1="48.3" y1="1474.1" x2="111.9" y2="1474.1" stroke="#fff" stroke-opacity="0.55" stroke-width="0.8"/>
<line x1="53.6" y1="1493.4" x2="106.6" y2="1493.4" stroke="#fff" stroke-opacity="0.55" stroke-width="0.8"/>
<path d="M58.5 1453 l1.5 8 M62.5 1475.5 l5 3.5 -7.5 2.5 9.5 3 -8 2.5 10 2.5 -8.5 3 6 1 0 5" fill="none" stroke="#8fcf8f" stroke-opacity="0.38" stroke-width="0.9"/>
<path d="M79 1447 l-7 4 -2 9 0.5 12 M74 1450 l6 12 6 16 5 14 8 12" fill="none" stroke="#ff9a9a" stroke-opacity="0.45" stroke-width="0.7"/>
<text x="78.4" y="1472.5" font-size="11.2" font-weight="bold" text-anchor="middle" fill="#000" textLength="55.4" lengthAdjust="spacingAndGlyphs">SOUNDER</text>
<text x="80.8" y="1488.4" font-size="21.2" fill="#4a8a1e" font-weight="normal" text-anchor="start" >P</text>
<text x="95.6" y="1488.6" font-size="23.2" fill="#d40000" font-weight="normal" text-anchor="start" >Y</text>
<text x="80" y="1499.6" font-size="3" font-weight="bold" text-anchor="middle" fill="#000" fill-opacity="0.85" textLength="37.5" lengthAdjust="spacingAndGlyphs">VERTICAL PROFILE</text>
<text x="80.4" y="1502.7" font-size="3" font-weight="bold" text-anchor="middle" fill="#000" fill-opacity="0.85" textLength="25" lengthAdjust="spacingAndGlyphs">ANALYSIS TOOL</text>
<text x="138.2" y="1470.2" font-size="27.6" fill="#6495ed" font-weight="bold" text-anchor="start" fill-opacity="0.6" id="ft1">SOUNDERPY VERTICAL PROFILE ANALYSIS TOOL</text>
<text x="210.1" y="1497" font-size="20.8" fill="#6495ed" font-weight="bold" text-anchor="start" fill-opacity="0.6" id="ft2">(C) KYLE J GILLETT | sounderpysoundings.anvil.app</text>
</svg></body></html>
